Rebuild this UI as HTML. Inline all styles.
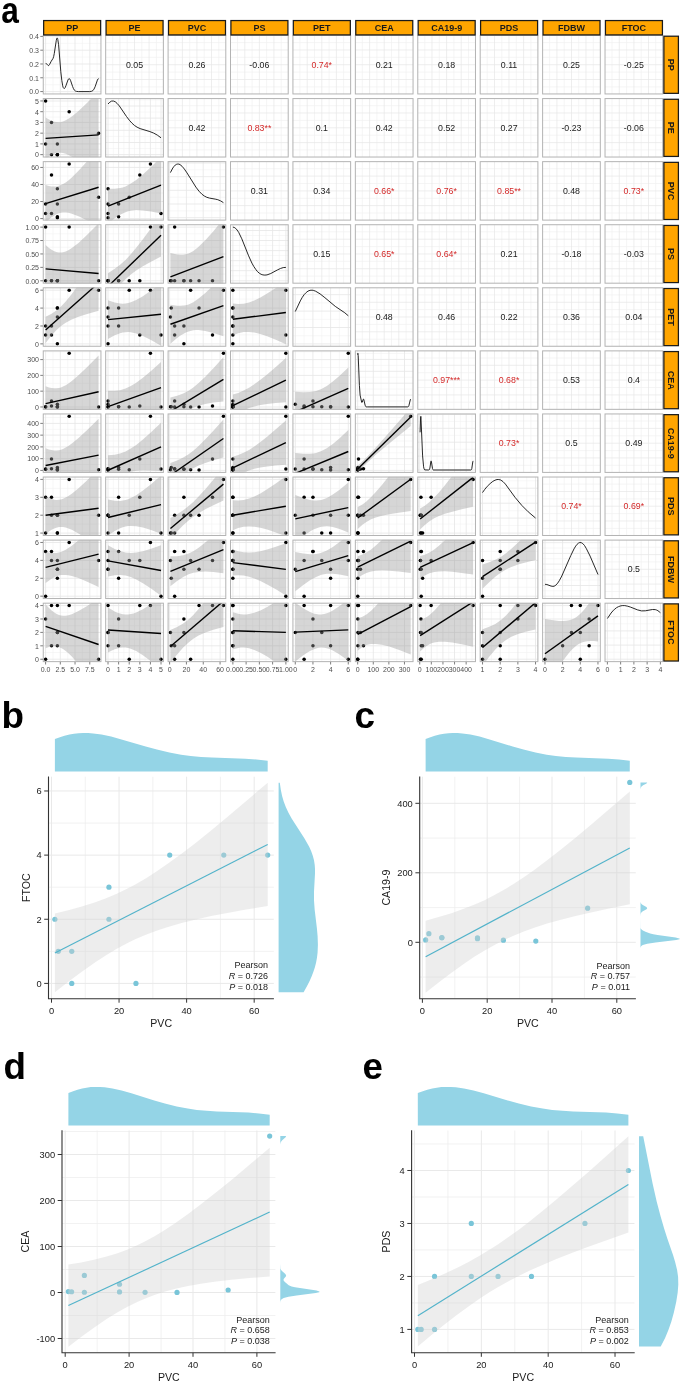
<!DOCTYPE html><html><head><meta charset="utf-8"><style>html,body{margin:0;padding:0;background:#fff;overflow:hidden;}svg{display:block;will-change:transform;}text{font-family:"Liberation Sans", sans-serif;}</style></head><body>
<svg width="685" height="1383" viewBox="0 0 685 1383">
<rect width="685" height="1383" fill="#fff"/>
<defs><clipPath id="c0_0"><rect x="42.95" y="35.20" width="58.30" height="59.05"/></clipPath><clipPath id="c0_1"><rect x="105.37" y="35.20" width="58.30" height="59.05"/></clipPath><clipPath id="c0_2"><rect x="167.79" y="35.20" width="58.30" height="59.05"/></clipPath><clipPath id="c0_3"><rect x="230.21" y="35.20" width="58.30" height="59.05"/></clipPath><clipPath id="c0_4"><rect x="292.63" y="35.20" width="58.30" height="59.05"/></clipPath><clipPath id="c0_5"><rect x="355.05" y="35.20" width="58.30" height="59.05"/></clipPath><clipPath id="c0_6"><rect x="417.47" y="35.20" width="58.30" height="59.05"/></clipPath><clipPath id="c0_7"><rect x="479.89" y="35.20" width="58.30" height="59.05"/></clipPath><clipPath id="c0_8"><rect x="542.31" y="35.20" width="58.30" height="59.05"/></clipPath><clipPath id="c0_9"><rect x="604.73" y="35.20" width="58.30" height="59.05"/></clipPath><clipPath id="c1_0"><rect x="42.95" y="98.28" width="58.30" height="59.05"/></clipPath><clipPath id="c1_1"><rect x="105.37" y="98.28" width="58.30" height="59.05"/></clipPath><clipPath id="c1_2"><rect x="167.79" y="98.28" width="58.30" height="59.05"/></clipPath><clipPath id="c1_3"><rect x="230.21" y="98.28" width="58.30" height="59.05"/></clipPath><clipPath id="c1_4"><rect x="292.63" y="98.28" width="58.30" height="59.05"/></clipPath><clipPath id="c1_5"><rect x="355.05" y="98.28" width="58.30" height="59.05"/></clipPath><clipPath id="c1_6"><rect x="417.47" y="98.28" width="58.30" height="59.05"/></clipPath><clipPath id="c1_7"><rect x="479.89" y="98.28" width="58.30" height="59.05"/></clipPath><clipPath id="c1_8"><rect x="542.31" y="98.28" width="58.30" height="59.05"/></clipPath><clipPath id="c1_9"><rect x="604.73" y="98.28" width="58.30" height="59.05"/></clipPath><clipPath id="c2_0"><rect x="42.95" y="161.35" width="58.30" height="59.05"/></clipPath><clipPath id="c2_1"><rect x="105.37" y="161.35" width="58.30" height="59.05"/></clipPath><clipPath id="c2_2"><rect x="167.79" y="161.35" width="58.30" height="59.05"/></clipPath><clipPath id="c2_3"><rect x="230.21" y="161.35" width="58.30" height="59.05"/></clipPath><clipPath id="c2_4"><rect x="292.63" y="161.35" width="58.30" height="59.05"/></clipPath><clipPath id="c2_5"><rect x="355.05" y="161.35" width="58.30" height="59.05"/></clipPath><clipPath id="c2_6"><rect x="417.47" y="161.35" width="58.30" height="59.05"/></clipPath><clipPath id="c2_7"><rect x="479.89" y="161.35" width="58.30" height="59.05"/></clipPath><clipPath id="c2_8"><rect x="542.31" y="161.35" width="58.30" height="59.05"/></clipPath><clipPath id="c2_9"><rect x="604.73" y="161.35" width="58.30" height="59.05"/></clipPath><clipPath id="c3_0"><rect x="42.95" y="224.43" width="58.30" height="59.05"/></clipPath><clipPath id="c3_1"><rect x="105.37" y="224.43" width="58.30" height="59.05"/></clipPath><clipPath id="c3_2"><rect x="167.79" y="224.43" width="58.30" height="59.05"/></clipPath><clipPath id="c3_3"><rect x="230.21" y="224.43" width="58.30" height="59.05"/></clipPath><clipPath id="c3_4"><rect x="292.63" y="224.43" width="58.30" height="59.05"/></clipPath><clipPath id="c3_5"><rect x="355.05" y="224.43" width="58.30" height="59.05"/></clipPath><clipPath id="c3_6"><rect x="417.47" y="224.43" width="58.30" height="59.05"/></clipPath><clipPath id="c3_7"><rect x="479.89" y="224.43" width="58.30" height="59.05"/></clipPath><clipPath id="c3_8"><rect x="542.31" y="224.43" width="58.30" height="59.05"/></clipPath><clipPath id="c3_9"><rect x="604.73" y="224.43" width="58.30" height="59.05"/></clipPath><clipPath id="c4_0"><rect x="42.95" y="287.50" width="58.30" height="59.05"/></clipPath><clipPath id="c4_1"><rect x="105.37" y="287.50" width="58.30" height="59.05"/></clipPath><clipPath id="c4_2"><rect x="167.79" y="287.50" width="58.30" height="59.05"/></clipPath><clipPath id="c4_3"><rect x="230.21" y="287.50" width="58.30" height="59.05"/></clipPath><clipPath id="c4_4"><rect x="292.63" y="287.50" width="58.30" height="59.05"/></clipPath><clipPath id="c4_5"><rect x="355.05" y="287.50" width="58.30" height="59.05"/></clipPath><clipPath id="c4_6"><rect x="417.47" y="287.50" width="58.30" height="59.05"/></clipPath><clipPath id="c4_7"><rect x="479.89" y="287.50" width="58.30" height="59.05"/></clipPath><clipPath id="c4_8"><rect x="542.31" y="287.50" width="58.30" height="59.05"/></clipPath><clipPath id="c4_9"><rect x="604.73" y="287.50" width="58.30" height="59.05"/></clipPath><clipPath id="c5_0"><rect x="42.95" y="350.57" width="58.30" height="59.05"/></clipPath><clipPath id="c5_1"><rect x="105.37" y="350.57" width="58.30" height="59.05"/></clipPath><clipPath id="c5_2"><rect x="167.79" y="350.57" width="58.30" height="59.05"/></clipPath><clipPath id="c5_3"><rect x="230.21" y="350.57" width="58.30" height="59.05"/></clipPath><clipPath id="c5_4"><rect x="292.63" y="350.57" width="58.30" height="59.05"/></clipPath><clipPath id="c5_5"><rect x="355.05" y="350.57" width="58.30" height="59.05"/></clipPath><clipPath id="c5_6"><rect x="417.47" y="350.57" width="58.30" height="59.05"/></clipPath><clipPath id="c5_7"><rect x="479.89" y="350.57" width="58.30" height="59.05"/></clipPath><clipPath id="c5_8"><rect x="542.31" y="350.57" width="58.30" height="59.05"/></clipPath><clipPath id="c5_9"><rect x="604.73" y="350.57" width="58.30" height="59.05"/></clipPath><clipPath id="c6_0"><rect x="42.95" y="413.65" width="58.30" height="59.05"/></clipPath><clipPath id="c6_1"><rect x="105.37" y="413.65" width="58.30" height="59.05"/></clipPath><clipPath id="c6_2"><rect x="167.79" y="413.65" width="58.30" height="59.05"/></clipPath><clipPath id="c6_3"><rect x="230.21" y="413.65" width="58.30" height="59.05"/></clipPath><clipPath id="c6_4"><rect x="292.63" y="413.65" width="58.30" height="59.05"/></clipPath><clipPath id="c6_5"><rect x="355.05" y="413.65" width="58.30" height="59.05"/></clipPath><clipPath id="c6_6"><rect x="417.47" y="413.65" width="58.30" height="59.05"/></clipPath><clipPath id="c6_7"><rect x="479.89" y="413.65" width="58.30" height="59.05"/></clipPath><clipPath id="c6_8"><rect x="542.31" y="413.65" width="58.30" height="59.05"/></clipPath><clipPath id="c6_9"><rect x="604.73" y="413.65" width="58.30" height="59.05"/></clipPath><clipPath id="c7_0"><rect x="42.95" y="476.73" width="58.30" height="59.05"/></clipPath><clipPath id="c7_1"><rect x="105.37" y="476.73" width="58.30" height="59.05"/></clipPath><clipPath id="c7_2"><rect x="167.79" y="476.73" width="58.30" height="59.05"/></clipPath><clipPath id="c7_3"><rect x="230.21" y="476.73" width="58.30" height="59.05"/></clipPath><clipPath id="c7_4"><rect x="292.63" y="476.73" width="58.30" height="59.05"/></clipPath><clipPath id="c7_5"><rect x="355.05" y="476.73" width="58.30" height="59.05"/></clipPath><clipPath id="c7_6"><rect x="417.47" y="476.73" width="58.30" height="59.05"/></clipPath><clipPath id="c7_7"><rect x="479.89" y="476.73" width="58.30" height="59.05"/></clipPath><clipPath id="c7_8"><rect x="542.31" y="476.73" width="58.30" height="59.05"/></clipPath><clipPath id="c7_9"><rect x="604.73" y="476.73" width="58.30" height="59.05"/></clipPath><clipPath id="c8_0"><rect x="42.95" y="539.80" width="58.30" height="59.05"/></clipPath><clipPath id="c8_1"><rect x="105.37" y="539.80" width="58.30" height="59.05"/></clipPath><clipPath id="c8_2"><rect x="167.79" y="539.80" width="58.30" height="59.05"/></clipPath><clipPath id="c8_3"><rect x="230.21" y="539.80" width="58.30" height="59.05"/></clipPath><clipPath id="c8_4"><rect x="292.63" y="539.80" width="58.30" height="59.05"/></clipPath><clipPath id="c8_5"><rect x="355.05" y="539.80" width="58.30" height="59.05"/></clipPath><clipPath id="c8_6"><rect x="417.47" y="539.80" width="58.30" height="59.05"/></clipPath><clipPath id="c8_7"><rect x="479.89" y="539.80" width="58.30" height="59.05"/></clipPath><clipPath id="c8_8"><rect x="542.31" y="539.80" width="58.30" height="59.05"/></clipPath><clipPath id="c8_9"><rect x="604.73" y="539.80" width="58.30" height="59.05"/></clipPath><clipPath id="c9_0"><rect x="42.95" y="602.88" width="58.30" height="59.05"/></clipPath><clipPath id="c9_1"><rect x="105.37" y="602.88" width="58.30" height="59.05"/></clipPath><clipPath id="c9_2"><rect x="167.79" y="602.88" width="58.30" height="59.05"/></clipPath><clipPath id="c9_3"><rect x="230.21" y="602.88" width="58.30" height="59.05"/></clipPath><clipPath id="c9_4"><rect x="292.63" y="602.88" width="58.30" height="59.05"/></clipPath><clipPath id="c9_5"><rect x="355.05" y="602.88" width="58.30" height="59.05"/></clipPath><clipPath id="c9_6"><rect x="417.47" y="602.88" width="58.30" height="59.05"/></clipPath><clipPath id="c9_7"><rect x="479.89" y="602.88" width="58.30" height="59.05"/></clipPath><clipPath id="c9_8"><rect x="542.31" y="602.88" width="58.30" height="59.05"/></clipPath><clipPath id="c9_9"><rect x="604.73" y="602.88" width="58.30" height="59.05"/></clipPath><clipPath id="cpb"><rect x="48.50" y="776.40" width="225.40" height="222.30"/></clipPath><clipPath id="cpc"><rect x="419.70" y="776.40" width="216.20" height="222.40"/></clipPath><clipPath id="cpd"><rect x="62.00" y="1130.30" width="213.60" height="222.50"/></clipPath><clipPath id="cpe"><rect x="411.60" y="1130.30" width="223.10" height="222.50"/></clipPath></defs>
<g clip-path="url(#c0_0)">
<path d="M53.0 35.2V94.2M67.7 35.2V94.2M82.4 35.2V94.2M97.1 35.2V94.2M43.0 84.7H101.2M43.0 70.9H101.2M43.0 57.1H101.2M43.0 43.3H101.2" stroke="#f1f1f1" stroke-width="0.6" fill="none"/>
<path d="M45.6 35.2V94.2M60.3 35.2V94.2M75.0 35.2V94.2M89.8 35.2V94.2M43.0 91.6H101.2M43.0 77.8H101.2M43.0 64.0H101.2M43.0 50.2H101.2M43.0 36.4H101.2" stroke="#e6e6e6" stroke-width="0.8" fill="none"/>
<path d="M45.6,64.0 L45.9,63.7 L46.3,63.6 L48.1,65.5 L48.5,65.6 L48.9,65.4 L49.6,64.4 L51.2,61.3 L53.1,58.3 L53.7,56.4 L54.3,53.4 L56.3,40.3 L56.8,38.3 L57.2,37.9 L57.5,38.3 L57.8,39.5 L58.6,44.7 L60.8,71.7 L61.8,80.4 L62.7,85.8 L63.2,87.5 L63.8,88.3 L64.4,88.5 L65.1,87.7 L65.9,85.8 L68.0,79.9 L68.6,78.9 L69.2,78.6 L69.9,79.1 L70.5,80.3 L72.6,86.5 L73.5,88.7 L74.4,90.2 L75.4,91.0 L76.5,91.4 L78.4,91.6 L89.3,91.6 L91.5,91.3 L92.9,90.6 L94.0,89.1 L95.1,86.8 L97.4,80.1 L98.0,79.0 L98.6,78.6" fill="none" stroke="#111" stroke-width="0.9"/>
</g>
<rect x="43.25" y="35.50" width="57.70" height="58.45" fill="none" stroke="#b3b3b3" stroke-width="1.0"/>
<g clip-path="url(#c0_1)">
<path d="M112.7 35.2V94.2M105.4 42.6H163.7M127.2 35.2V94.2M105.4 57.3H163.7M141.8 35.2V94.2M105.4 72.1H163.7M156.4 35.2V94.2M105.4 86.9H163.7" stroke="#f1f1f1" stroke-width="0.7" fill="none"/>
<path d="M119.9 35.2V94.2M105.4 50.0H163.7M134.5 35.2V94.2M105.4 64.7H163.7M149.1 35.2V94.2M105.4 79.5H163.7" stroke="#e6e6e6" stroke-width="0.7" fill="none"/>
<text x="134.52" y="67.82" font-size="8.8" fill="#1a1a1a" text-anchor="middle">0.05</text>
</g>
<rect x="105.67" y="35.50" width="57.70" height="58.45" fill="none" stroke="#b3b3b3" stroke-width="1.0"/>
<g clip-path="url(#c0_2)">
<path d="M175.1 35.2V94.2M167.8 42.6H226.1M189.7 35.2V94.2M167.8 57.3H226.1M204.2 35.2V94.2M167.8 72.1H226.1M218.8 35.2V94.2M167.8 86.9H226.1" stroke="#f1f1f1" stroke-width="0.7" fill="none"/>
<path d="M182.4 35.2V94.2M167.8 50.0H226.1M196.9 35.2V94.2M167.8 64.7H226.1M211.5 35.2V94.2M167.8 79.5H226.1" stroke="#e6e6e6" stroke-width="0.7" fill="none"/>
<text x="196.94" y="67.82" font-size="8.8" fill="#1a1a1a" text-anchor="middle">0.26</text>
</g>
<rect x="168.09" y="35.50" width="57.70" height="58.45" fill="none" stroke="#b3b3b3" stroke-width="1.0"/>
<g clip-path="url(#c0_3)">
<path d="M237.5 35.2V94.2M230.2 42.6H288.5M252.1 35.2V94.2M230.2 57.3H288.5M266.6 35.2V94.2M230.2 72.1H288.5M281.2 35.2V94.2M230.2 86.9H288.5" stroke="#f1f1f1" stroke-width="0.7" fill="none"/>
<path d="M244.8 35.2V94.2M230.2 50.0H288.5M259.4 35.2V94.2M230.2 64.7H288.5M273.9 35.2V94.2M230.2 79.5H288.5" stroke="#e6e6e6" stroke-width="0.7" fill="none"/>
<text x="259.36" y="67.82" font-size="8.8" fill="#1a1a1a" text-anchor="middle">-0.06</text>
</g>
<rect x="230.51" y="35.50" width="57.70" height="58.45" fill="none" stroke="#b3b3b3" stroke-width="1.0"/>
<g clip-path="url(#c0_4)">
<path d="M299.9 35.2V94.2M292.6 42.6H350.9M314.5 35.2V94.2M292.6 57.3H350.9M329.1 35.2V94.2M292.6 72.1H350.9M343.6 35.2V94.2M292.6 86.9H350.9" stroke="#f1f1f1" stroke-width="0.7" fill="none"/>
<path d="M307.2 35.2V94.2M292.6 50.0H350.9M321.8 35.2V94.2M292.6 64.7H350.9M336.4 35.2V94.2M292.6 79.5H350.9" stroke="#e6e6e6" stroke-width="0.7" fill="none"/>
<text x="321.78" y="67.82" font-size="8.8" fill="#d42a2a" text-anchor="middle">0.74*</text>
</g>
<rect x="292.93" y="35.50" width="57.70" height="58.45" fill="none" stroke="#b3b3b3" stroke-width="1.0"/>
<g clip-path="url(#c0_5)">
<path d="M362.3 35.2V94.2M355.1 42.6H413.4M376.9 35.2V94.2M355.1 57.3H413.4M391.5 35.2V94.2M355.1 72.1H413.4M406.1 35.2V94.2M355.1 86.9H413.4" stroke="#f1f1f1" stroke-width="0.7" fill="none"/>
<path d="M369.6 35.2V94.2M355.1 50.0H413.4M384.2 35.2V94.2M355.1 64.7H413.4M398.8 35.2V94.2M355.1 79.5H413.4" stroke="#e6e6e6" stroke-width="0.7" fill="none"/>
<text x="384.20" y="67.82" font-size="8.8" fill="#1a1a1a" text-anchor="middle">0.21</text>
</g>
<rect x="355.35" y="35.50" width="57.70" height="58.45" fill="none" stroke="#b3b3b3" stroke-width="1.0"/>
<g clip-path="url(#c0_6)">
<path d="M424.8 35.2V94.2M417.5 42.6H475.8M439.3 35.2V94.2M417.5 57.3H475.8M453.9 35.2V94.2M417.5 72.1H475.8M468.5 35.2V94.2M417.5 86.9H475.8" stroke="#f1f1f1" stroke-width="0.7" fill="none"/>
<path d="M432.0 35.2V94.2M417.5 50.0H475.8M446.6 35.2V94.2M417.5 64.7H475.8M461.2 35.2V94.2M417.5 79.5H475.8" stroke="#e6e6e6" stroke-width="0.7" fill="none"/>
<text x="446.62" y="67.82" font-size="8.8" fill="#1a1a1a" text-anchor="middle">0.18</text>
</g>
<rect x="417.77" y="35.50" width="57.70" height="58.45" fill="none" stroke="#b3b3b3" stroke-width="1.0"/>
<g clip-path="url(#c0_7)">
<path d="M487.2 35.2V94.2M479.9 42.6H538.2M501.8 35.2V94.2M479.9 57.3H538.2M516.3 35.2V94.2M479.9 72.1H538.2M530.9 35.2V94.2M479.9 86.9H538.2" stroke="#f1f1f1" stroke-width="0.7" fill="none"/>
<path d="M494.5 35.2V94.2M479.9 50.0H538.2M509.0 35.2V94.2M479.9 64.7H538.2M523.6 35.2V94.2M479.9 79.5H538.2" stroke="#e6e6e6" stroke-width="0.7" fill="none"/>
<text x="509.04" y="67.82" font-size="8.8" fill="#1a1a1a" text-anchor="middle">0.11</text>
</g>
<rect x="480.19" y="35.50" width="57.70" height="58.45" fill="none" stroke="#b3b3b3" stroke-width="1.0"/>
<g clip-path="url(#c0_8)">
<path d="M549.6 35.2V94.2M542.3 42.6H600.6M564.2 35.2V94.2M542.3 57.3H600.6M578.7 35.2V94.2M542.3 72.1H600.6M593.3 35.2V94.2M542.3 86.9H600.6" stroke="#f1f1f1" stroke-width="0.7" fill="none"/>
<path d="M556.9 35.2V94.2M542.3 50.0H600.6M571.5 35.2V94.2M542.3 64.7H600.6M586.0 35.2V94.2M542.3 79.5H600.6" stroke="#e6e6e6" stroke-width="0.7" fill="none"/>
<text x="571.46" y="67.82" font-size="8.8" fill="#1a1a1a" text-anchor="middle">0.25</text>
</g>
<rect x="542.61" y="35.50" width="57.70" height="58.45" fill="none" stroke="#b3b3b3" stroke-width="1.0"/>
<g clip-path="url(#c0_9)">
<path d="M612.0 35.2V94.2M604.7 42.6H663.0M626.6 35.2V94.2M604.7 57.3H663.0M641.2 35.2V94.2M604.7 72.1H663.0M655.7 35.2V94.2M604.7 86.9H663.0" stroke="#f1f1f1" stroke-width="0.7" fill="none"/>
<path d="M619.3 35.2V94.2M604.7 50.0H663.0M633.9 35.2V94.2M604.7 64.7H663.0M648.5 35.2V94.2M604.7 79.5H663.0" stroke="#e6e6e6" stroke-width="0.7" fill="none"/>
<text x="633.88" y="67.82" font-size="8.8" fill="#1a1a1a" text-anchor="middle">-0.25</text>
</g>
<rect x="605.03" y="35.50" width="57.70" height="58.45" fill="none" stroke="#b3b3b3" stroke-width="1.0"/>
<g clip-path="url(#c1_0)">
<path d="M53.0 98.3V157.3M67.7 98.3V157.3M82.4 98.3V157.3M97.1 98.3V157.3M43.0 149.3H101.2M43.0 138.5H101.2M43.0 127.8H101.2M43.0 117.1H101.2M43.0 106.3H101.2" stroke="#f1f1f1" stroke-width="0.6" fill="none"/>
<path d="M45.6 98.3V157.3M60.3 98.3V157.3M75.0 98.3V157.3M89.8 98.3V157.3M43.0 154.6H101.2M43.0 143.9H101.2M43.0 133.2H101.2M43.0 122.4H101.2M43.0 111.7H101.2M43.0 101.0H101.2" stroke="#e6e6e6" stroke-width="0.8" fill="none"/>
<circle cx="57.38" cy="154.64" r="1.75" fill="#000"/>
<circle cx="57.38" cy="143.90" r="1.75" fill="#000"/>
<circle cx="45.60" cy="100.96" r="1.75" fill="#000"/>
<circle cx="51.49" cy="154.64" r="1.75" fill="#000"/>
<circle cx="45.60" cy="143.90" r="1.75" fill="#000"/>
<circle cx="57.38" cy="154.64" r="1.75" fill="#000"/>
<circle cx="98.60" cy="133.17" r="1.75" fill="#000"/>
<circle cx="57.38" cy="154.64" r="1.75" fill="#000"/>
<circle cx="51.49" cy="122.43" r="1.75" fill="#000"/>
<circle cx="69.16" cy="111.70" r="1.75" fill="#000"/>
<polygon points="45.6,117.6 49.0,119.6 51.6,120.8 54.3,121.7 56.3,122.1 59.0,122.2 61.0,122.0 63.0,121.4 65.7,120.3 68.4,118.8 71.8,116.5 78.5,111.0 87.2,102.8 98.6,91.2 98.6,178.6 87.2,168.5 78.5,161.4 71.8,156.8 68.4,154.9 65.7,153.7 63.0,153.0 61.0,152.7 59.0,152.7 56.3,153.2 54.3,153.8 51.6,155.1 49.0,156.7 45.6,159.1" fill="#999999" fill-opacity="0.4"/>
<line x1="45.60" y1="138.34" x2="98.60" y2="134.91" stroke="#000" stroke-width="1.4"/>
</g>
<rect x="43.25" y="98.58" width="57.70" height="58.45" fill="none" stroke="#b3b3b3" stroke-width="1.0"/>
<g clip-path="url(#c1_1)">
<path d="M113.3 98.3V157.3M123.9 98.3V157.3M134.5 98.3V157.3M145.1 98.3V157.3M155.7 98.3V157.3M105.4 148.6H163.7M105.4 136.4H163.7M105.4 124.2H163.7M105.4 112.1H163.7M105.4 99.9H163.7" stroke="#f1f1f1" stroke-width="0.6" fill="none"/>
<path d="M108.0 98.3V157.3M118.6 98.3V157.3M129.2 98.3V157.3M139.8 98.3V157.3M150.4 98.3V157.3M161.0 98.3V157.3M105.4 154.6H163.7M105.4 142.5H163.7M105.4 130.3H163.7M105.4 118.1H163.7M105.4 106.0H163.7" stroke="#e6e6e6" stroke-width="0.8" fill="none"/>
<path d="M108.0,104.0 L109.8,102.2 L111.5,101.1 L113.4,101.0 L115.3,101.8 L117.1,103.4 L119.3,105.9 L126.5,116.5 L129.3,120.2 L131.9,123.1 L134.4,125.4 L137.1,127.2 L140.1,128.6 L149.9,131.6 L153.7,133.1 L157.3,135.1 L161.0,137.8" fill="none" stroke="#111" stroke-width="0.9"/>
</g>
<rect x="105.67" y="98.58" width="57.70" height="58.45" fill="none" stroke="#b3b3b3" stroke-width="1.0"/>
<g clip-path="url(#c1_2)">
<path d="M175.1 98.3V157.3M167.8 105.7H226.1M189.7 98.3V157.3M167.8 120.4H226.1M204.2 98.3V157.3M167.8 135.2H226.1M218.8 98.3V157.3M167.8 149.9H226.1" stroke="#f1f1f1" stroke-width="0.7" fill="none"/>
<path d="M182.4 98.3V157.3M167.8 113.0H226.1M196.9 98.3V157.3M167.8 127.8H226.1M211.5 98.3V157.3M167.8 142.6H226.1" stroke="#e6e6e6" stroke-width="0.7" fill="none"/>
<text x="196.94" y="130.90" font-size="8.8" fill="#1a1a1a" text-anchor="middle">0.42</text>
</g>
<rect x="168.09" y="98.58" width="57.70" height="58.45" fill="none" stroke="#b3b3b3" stroke-width="1.0"/>
<g clip-path="url(#c1_3)">
<path d="M237.5 98.3V157.3M230.2 105.7H288.5M252.1 98.3V157.3M230.2 120.4H288.5M266.6 98.3V157.3M230.2 135.2H288.5M281.2 98.3V157.3M230.2 149.9H288.5" stroke="#f1f1f1" stroke-width="0.7" fill="none"/>
<path d="M244.8 98.3V157.3M230.2 113.0H288.5M259.4 98.3V157.3M230.2 127.8H288.5M273.9 98.3V157.3M230.2 142.6H288.5" stroke="#e6e6e6" stroke-width="0.7" fill="none"/>
<text x="259.36" y="130.90" font-size="8.8" fill="#d42a2a" text-anchor="middle">0.83**</text>
</g>
<rect x="230.51" y="98.58" width="57.70" height="58.45" fill="none" stroke="#b3b3b3" stroke-width="1.0"/>
<g clip-path="url(#c1_4)">
<path d="M299.9 98.3V157.3M292.6 105.7H350.9M314.5 98.3V157.3M292.6 120.4H350.9M329.1 98.3V157.3M292.6 135.2H350.9M343.6 98.3V157.3M292.6 149.9H350.9" stroke="#f1f1f1" stroke-width="0.7" fill="none"/>
<path d="M307.2 98.3V157.3M292.6 113.0H350.9M321.8 98.3V157.3M292.6 127.8H350.9M336.4 98.3V157.3M292.6 142.6H350.9" stroke="#e6e6e6" stroke-width="0.7" fill="none"/>
<text x="321.78" y="130.90" font-size="8.8" fill="#1a1a1a" text-anchor="middle">0.1</text>
</g>
<rect x="292.93" y="98.58" width="57.70" height="58.45" fill="none" stroke="#b3b3b3" stroke-width="1.0"/>
<g clip-path="url(#c1_5)">
<path d="M362.3 98.3V157.3M355.1 105.7H413.4M376.9 98.3V157.3M355.1 120.4H413.4M391.5 98.3V157.3M355.1 135.2H413.4M406.1 98.3V157.3M355.1 149.9H413.4" stroke="#f1f1f1" stroke-width="0.7" fill="none"/>
<path d="M369.6 98.3V157.3M355.1 113.0H413.4M384.2 98.3V157.3M355.1 127.8H413.4M398.8 98.3V157.3M355.1 142.6H413.4" stroke="#e6e6e6" stroke-width="0.7" fill="none"/>
<text x="384.20" y="130.90" font-size="8.8" fill="#1a1a1a" text-anchor="middle">0.42</text>
</g>
<rect x="355.35" y="98.58" width="57.70" height="58.45" fill="none" stroke="#b3b3b3" stroke-width="1.0"/>
<g clip-path="url(#c1_6)">
<path d="M424.8 98.3V157.3M417.5 105.7H475.8M439.3 98.3V157.3M417.5 120.4H475.8M453.9 98.3V157.3M417.5 135.2H475.8M468.5 98.3V157.3M417.5 149.9H475.8" stroke="#f1f1f1" stroke-width="0.7" fill="none"/>
<path d="M432.0 98.3V157.3M417.5 113.0H475.8M446.6 98.3V157.3M417.5 127.8H475.8M461.2 98.3V157.3M417.5 142.6H475.8" stroke="#e6e6e6" stroke-width="0.7" fill="none"/>
<text x="446.62" y="130.90" font-size="8.8" fill="#1a1a1a" text-anchor="middle">0.52</text>
</g>
<rect x="417.77" y="98.58" width="57.70" height="58.45" fill="none" stroke="#b3b3b3" stroke-width="1.0"/>
<g clip-path="url(#c1_7)">
<path d="M487.2 98.3V157.3M479.9 105.7H538.2M501.8 98.3V157.3M479.9 120.4H538.2M516.3 98.3V157.3M479.9 135.2H538.2M530.9 98.3V157.3M479.9 149.9H538.2" stroke="#f1f1f1" stroke-width="0.7" fill="none"/>
<path d="M494.5 98.3V157.3M479.9 113.0H538.2M509.0 98.3V157.3M479.9 127.8H538.2M523.6 98.3V157.3M479.9 142.6H538.2" stroke="#e6e6e6" stroke-width="0.7" fill="none"/>
<text x="509.04" y="130.90" font-size="8.8" fill="#1a1a1a" text-anchor="middle">0.27</text>
</g>
<rect x="480.19" y="98.58" width="57.70" height="58.45" fill="none" stroke="#b3b3b3" stroke-width="1.0"/>
<g clip-path="url(#c1_8)">
<path d="M549.6 98.3V157.3M542.3 105.7H600.6M564.2 98.3V157.3M542.3 120.4H600.6M578.7 98.3V157.3M542.3 135.2H600.6M593.3 98.3V157.3M542.3 149.9H600.6" stroke="#f1f1f1" stroke-width="0.7" fill="none"/>
<path d="M556.9 98.3V157.3M542.3 113.0H600.6M571.5 98.3V157.3M542.3 127.8H600.6M586.0 98.3V157.3M542.3 142.6H600.6" stroke="#e6e6e6" stroke-width="0.7" fill="none"/>
<text x="571.46" y="130.90" font-size="8.8" fill="#1a1a1a" text-anchor="middle">-0.23</text>
</g>
<rect x="542.61" y="98.58" width="57.70" height="58.45" fill="none" stroke="#b3b3b3" stroke-width="1.0"/>
<g clip-path="url(#c1_9)">
<path d="M612.0 98.3V157.3M604.7 105.7H663.0M626.6 98.3V157.3M604.7 120.4H663.0M641.2 98.3V157.3M604.7 135.2H663.0M655.7 98.3V157.3M604.7 149.9H663.0" stroke="#f1f1f1" stroke-width="0.7" fill="none"/>
<path d="M619.3 98.3V157.3M604.7 113.0H663.0M633.9 98.3V157.3M604.7 127.8H663.0M648.5 98.3V157.3M604.7 142.6H663.0" stroke="#e6e6e6" stroke-width="0.7" fill="none"/>
<text x="633.88" y="130.90" font-size="8.8" fill="#1a1a1a" text-anchor="middle">-0.06</text>
</g>
<rect x="605.03" y="98.58" width="57.70" height="58.45" fill="none" stroke="#b3b3b3" stroke-width="1.0"/>
<g clip-path="url(#c2_0)">
<path d="M53.0 161.4V220.4M67.7 161.4V220.4M82.4 161.4V220.4M97.1 161.4V220.4M43.0 210.0H101.2M43.0 193.0H101.2M43.0 176.0H101.2" stroke="#f1f1f1" stroke-width="0.6" fill="none"/>
<path d="M45.6 161.4V220.4M60.3 161.4V220.4M75.0 161.4V220.4M89.8 161.4V220.4M43.0 218.6H101.2M43.0 201.5H101.2M43.0 184.5H101.2M43.0 167.4H101.2" stroke="#e6e6e6" stroke-width="0.8" fill="none"/>
<circle cx="57.38" cy="217.72" r="1.75" fill="#000"/>
<circle cx="57.38" cy="216.86" r="1.75" fill="#000"/>
<circle cx="45.60" cy="213.46" r="1.75" fill="#000"/>
<circle cx="51.49" cy="213.46" r="1.75" fill="#000"/>
<circle cx="45.60" cy="204.08" r="1.75" fill="#000"/>
<circle cx="57.38" cy="204.08" r="1.75" fill="#000"/>
<circle cx="98.60" cy="197.27" r="1.75" fill="#000"/>
<circle cx="57.38" cy="188.74" r="1.75" fill="#000"/>
<circle cx="51.49" cy="175.11" r="1.75" fill="#000"/>
<circle cx="69.16" cy="164.03" r="1.75" fill="#000"/>
<polygon points="45.6,185.0 49.0,185.9 51.6,186.4 54.3,186.5 56.3,186.4 59.0,185.8 61.0,185.1 63.0,184.1 65.7,182.4 68.4,180.4 71.8,177.5 78.5,170.8 87.2,161.2 98.6,147.9 98.6,226.6 87.2,220.4 78.5,216.2 71.8,213.7 68.4,212.8 65.7,212.5 63.0,212.5 61.0,212.7 59.0,213.2 56.3,214.3 54.3,215.4 51.6,217.2 45.6,222.3" fill="#999999" fill-opacity="0.4"/>
<line x1="45.60" y1="203.67" x2="98.60" y2="187.27" stroke="#000" stroke-width="1.4"/>
</g>
<rect x="43.25" y="161.65" width="57.70" height="58.45" fill="none" stroke="#b3b3b3" stroke-width="1.0"/>
<g clip-path="url(#c2_1)">
<path d="M113.3 161.4V220.4M123.9 161.4V220.4M134.5 161.4V220.4M145.1 161.4V220.4M155.7 161.4V220.4M105.4 210.0H163.7M105.4 193.0H163.7M105.4 176.0H163.7" stroke="#f1f1f1" stroke-width="0.6" fill="none"/>
<path d="M108.0 161.4V220.4M118.6 161.4V220.4M129.2 161.4V220.4M139.8 161.4V220.4M150.4 161.4V220.4M161.0 161.4V220.4M105.4 218.6H163.7M105.4 201.5H163.7M105.4 184.5H163.7M105.4 167.4H163.7" stroke="#e6e6e6" stroke-width="0.8" fill="none"/>
<circle cx="108.02" cy="217.72" r="1.75" fill="#000"/>
<circle cx="118.62" cy="216.86" r="1.75" fill="#000"/>
<circle cx="161.02" cy="213.46" r="1.75" fill="#000"/>
<circle cx="108.02" cy="213.46" r="1.75" fill="#000"/>
<circle cx="118.62" cy="204.08" r="1.75" fill="#000"/>
<circle cx="108.02" cy="204.08" r="1.75" fill="#000"/>
<circle cx="129.22" cy="197.27" r="1.75" fill="#000"/>
<circle cx="108.02" cy="188.74" r="1.75" fill="#000"/>
<circle cx="139.82" cy="175.11" r="1.75" fill="#000"/>
<circle cx="150.42" cy="164.03" r="1.75" fill="#000"/>
<polygon points="108.0,188.7 114.7,188.8 120.1,188.1 122.8,187.4 125.5,186.4 130.8,183.6 136.2,180.0 142.9,174.4 151.0,167.0 161.0,157.0 161.0,213.5 151.0,211.5 142.9,210.4 136.2,210.1 130.8,210.7 128.1,211.3 125.5,212.2 120.1,214.8 114.7,218.3 108.0,223.7" fill="#999999" fill-opacity="0.4"/>
<line x1="108.02" y1="206.19" x2="161.02" y2="185.22" stroke="#000" stroke-width="1.4"/>
</g>
<rect x="105.67" y="161.65" width="57.70" height="58.45" fill="none" stroke="#b3b3b3" stroke-width="1.0"/>
<g clip-path="url(#c2_2)">
<path d="M178.0 161.4V220.4M194.8 161.4V220.4M211.7 161.4V220.4M167.8 210.9H226.1M167.8 197.2H226.1M167.8 183.5H226.1M167.8 169.8H226.1" stroke="#f1f1f1" stroke-width="0.6" fill="none"/>
<path d="M169.6 161.4V220.4M186.4 161.4V220.4M203.2 161.4V220.4M220.1 161.4V220.4M167.8 217.7H226.1M167.8 204.0H226.1M167.8 190.3H226.1M167.8 176.7H226.1M167.8 163.0H226.1" stroke="#e6e6e6" stroke-width="0.8" fill="none"/>
<path d="M170.4,172.6 L172.8,168.0 L174.1,166.3 L175.2,165.1 L176.4,164.4 L177.5,164.1 L178.7,164.1 L180.0,164.6 L182.1,166.3 L184.4,169.1 L187.0,172.9 L195.9,187.1 L199.0,191.2 L201.9,194.2 L204.3,196.0 L206.8,197.3 L209.5,198.1 L215.2,199.1 L217.8,199.7 L220.6,200.9 L223.4,202.6" fill="none" stroke="#111" stroke-width="0.9"/>
</g>
<rect x="168.09" y="161.65" width="57.70" height="58.45" fill="none" stroke="#b3b3b3" stroke-width="1.0"/>
<g clip-path="url(#c2_3)">
<path d="M237.5 161.4V220.4M230.2 168.7H288.5M252.1 161.4V220.4M230.2 183.5H288.5M266.6 161.4V220.4M230.2 198.3H288.5M281.2 161.4V220.4M230.2 213.0H288.5" stroke="#f1f1f1" stroke-width="0.7" fill="none"/>
<path d="M244.8 161.4V220.4M230.2 176.1H288.5M259.4 161.4V220.4M230.2 190.9H288.5M273.9 161.4V220.4M230.2 205.6H288.5" stroke="#e6e6e6" stroke-width="0.7" fill="none"/>
<text x="259.36" y="193.98" font-size="8.8" fill="#1a1a1a" text-anchor="middle">0.31</text>
</g>
<rect x="230.51" y="161.65" width="57.70" height="58.45" fill="none" stroke="#b3b3b3" stroke-width="1.0"/>
<g clip-path="url(#c2_4)">
<path d="M299.9 161.4V220.4M292.6 168.7H350.9M314.5 161.4V220.4M292.6 183.5H350.9M329.1 161.4V220.4M292.6 198.3H350.9M343.6 161.4V220.4M292.6 213.0H350.9" stroke="#f1f1f1" stroke-width="0.7" fill="none"/>
<path d="M307.2 161.4V220.4M292.6 176.1H350.9M321.8 161.4V220.4M292.6 190.9H350.9M336.4 161.4V220.4M292.6 205.6H350.9" stroke="#e6e6e6" stroke-width="0.7" fill="none"/>
<text x="321.78" y="193.98" font-size="8.8" fill="#1a1a1a" text-anchor="middle">0.34</text>
</g>
<rect x="292.93" y="161.65" width="57.70" height="58.45" fill="none" stroke="#b3b3b3" stroke-width="1.0"/>
<g clip-path="url(#c2_5)">
<path d="M362.3 161.4V220.4M355.1 168.7H413.4M376.9 161.4V220.4M355.1 183.5H413.4M391.5 161.4V220.4M355.1 198.3H413.4M406.1 161.4V220.4M355.1 213.0H413.4" stroke="#f1f1f1" stroke-width="0.7" fill="none"/>
<path d="M369.6 161.4V220.4M355.1 176.1H413.4M384.2 161.4V220.4M355.1 190.9H413.4M398.8 161.4V220.4M355.1 205.6H413.4" stroke="#e6e6e6" stroke-width="0.7" fill="none"/>
<text x="384.20" y="193.98" font-size="8.8" fill="#d42a2a" text-anchor="middle">0.66*</text>
</g>
<rect x="355.35" y="161.65" width="57.70" height="58.45" fill="none" stroke="#b3b3b3" stroke-width="1.0"/>
<g clip-path="url(#c2_6)">
<path d="M424.8 161.4V220.4M417.5 168.7H475.8M439.3 161.4V220.4M417.5 183.5H475.8M453.9 161.4V220.4M417.5 198.3H475.8M468.5 161.4V220.4M417.5 213.0H475.8" stroke="#f1f1f1" stroke-width="0.7" fill="none"/>
<path d="M432.0 161.4V220.4M417.5 176.1H475.8M446.6 161.4V220.4M417.5 190.9H475.8M461.2 161.4V220.4M417.5 205.6H475.8" stroke="#e6e6e6" stroke-width="0.7" fill="none"/>
<text x="446.62" y="193.98" font-size="8.8" fill="#d42a2a" text-anchor="middle">0.76*</text>
</g>
<rect x="417.77" y="161.65" width="57.70" height="58.45" fill="none" stroke="#b3b3b3" stroke-width="1.0"/>
<g clip-path="url(#c2_7)">
<path d="M487.2 161.4V220.4M479.9 168.7H538.2M501.8 161.4V220.4M479.9 183.5H538.2M516.3 161.4V220.4M479.9 198.3H538.2M530.9 161.4V220.4M479.9 213.0H538.2" stroke="#f1f1f1" stroke-width="0.7" fill="none"/>
<path d="M494.5 161.4V220.4M479.9 176.1H538.2M509.0 161.4V220.4M479.9 190.9H538.2M523.6 161.4V220.4M479.9 205.6H538.2" stroke="#e6e6e6" stroke-width="0.7" fill="none"/>
<text x="509.04" y="193.98" font-size="8.8" fill="#d42a2a" text-anchor="middle">0.85**</text>
</g>
<rect x="480.19" y="161.65" width="57.70" height="58.45" fill="none" stroke="#b3b3b3" stroke-width="1.0"/>
<g clip-path="url(#c2_8)">
<path d="M549.6 161.4V220.4M542.3 168.7H600.6M564.2 161.4V220.4M542.3 183.5H600.6M578.7 161.4V220.4M542.3 198.3H600.6M593.3 161.4V220.4M542.3 213.0H600.6" stroke="#f1f1f1" stroke-width="0.7" fill="none"/>
<path d="M556.9 161.4V220.4M542.3 176.1H600.6M571.5 161.4V220.4M542.3 190.9H600.6M586.0 161.4V220.4M542.3 205.6H600.6" stroke="#e6e6e6" stroke-width="0.7" fill="none"/>
<text x="571.46" y="193.98" font-size="8.8" fill="#1a1a1a" text-anchor="middle">0.48</text>
</g>
<rect x="542.61" y="161.65" width="57.70" height="58.45" fill="none" stroke="#b3b3b3" stroke-width="1.0"/>
<g clip-path="url(#c2_9)">
<path d="M612.0 161.4V220.4M604.7 168.7H663.0M626.6 161.4V220.4M604.7 183.5H663.0M641.2 161.4V220.4M604.7 198.3H663.0M655.7 161.4V220.4M604.7 213.0H663.0" stroke="#f1f1f1" stroke-width="0.7" fill="none"/>
<path d="M619.3 161.4V220.4M604.7 176.1H663.0M633.9 161.4V220.4M604.7 190.9H663.0M648.5 161.4V220.4M604.7 205.6H663.0" stroke="#e6e6e6" stroke-width="0.7" fill="none"/>
<text x="633.88" y="193.98" font-size="8.8" fill="#d42a2a" text-anchor="middle">0.73*</text>
</g>
<rect x="605.03" y="161.65" width="57.70" height="58.45" fill="none" stroke="#b3b3b3" stroke-width="1.0"/>
<g clip-path="url(#c3_0)">
<path d="M53.0 224.4V283.5M67.7 224.4V283.5M82.4 224.4V283.5M97.1 224.4V283.5M43.0 274.1H101.2M43.0 260.7H101.2M43.0 247.2H101.2M43.0 233.8H101.2" stroke="#f1f1f1" stroke-width="0.6" fill="none"/>
<path d="M45.6 224.4V283.5M60.3 224.4V283.5M75.0 224.4V283.5M89.8 224.4V283.5M43.0 280.8H101.2M43.0 267.4H101.2M43.0 254.0H101.2M43.0 240.5H101.2M43.0 227.1H101.2" stroke="#e6e6e6" stroke-width="0.8" fill="none"/>
<circle cx="57.38" cy="280.79" r="1.75" fill="#000"/>
<circle cx="57.38" cy="280.79" r="1.75" fill="#000"/>
<circle cx="45.60" cy="227.11" r="1.75" fill="#000"/>
<circle cx="51.49" cy="280.79" r="1.75" fill="#000"/>
<circle cx="45.60" cy="280.79" r="1.75" fill="#000"/>
<circle cx="57.38" cy="280.79" r="1.75" fill="#000"/>
<circle cx="98.60" cy="280.79" r="1.75" fill="#000"/>
<circle cx="57.38" cy="280.79" r="1.75" fill="#000"/>
<circle cx="51.49" cy="280.79" r="1.75" fill="#000"/>
<circle cx="69.16" cy="227.11" r="1.75" fill="#000"/>
<polygon points="45.6,245.1 49.0,247.9 51.6,249.8 54.3,251.2 56.3,252.0 59.0,252.6 61.0,252.6 63.0,252.3 65.7,251.5 68.4,250.2 71.8,248.1 78.5,242.9 87.2,234.8 98.6,223.4 98.6,323.7 87.2,310.2 78.5,300.7 71.8,294.2 68.4,291.5 65.7,289.8 63.0,288.5 61.0,287.8 59.0,287.5 56.3,287.6 54.3,288.0 51.6,289.0 49.0,290.4 45.6,292.6" fill="#999999" fill-opacity="0.4"/>
<line x1="45.60" y1="268.86" x2="98.60" y2="273.53" stroke="#000" stroke-width="1.4"/>
</g>
<rect x="43.25" y="224.73" width="57.70" height="58.45" fill="none" stroke="#b3b3b3" stroke-width="1.0"/>
<g clip-path="url(#c3_1)">
<path d="M113.3 224.4V283.5M123.9 224.4V283.5M134.5 224.4V283.5M145.1 224.4V283.5M155.7 224.4V283.5M105.4 274.1H163.7M105.4 260.7H163.7M105.4 247.2H163.7M105.4 233.8H163.7" stroke="#f1f1f1" stroke-width="0.6" fill="none"/>
<path d="M108.0 224.4V283.5M118.6 224.4V283.5M129.2 224.4V283.5M139.8 224.4V283.5M150.4 224.4V283.5M161.0 224.4V283.5M105.4 280.8H163.7M105.4 267.4H163.7M105.4 254.0H163.7M105.4 240.5H163.7M105.4 227.1H163.7" stroke="#e6e6e6" stroke-width="0.8" fill="none"/>
<circle cx="108.02" cy="280.79" r="1.75" fill="#000"/>
<circle cx="118.62" cy="280.79" r="1.75" fill="#000"/>
<circle cx="161.02" cy="227.11" r="1.75" fill="#000"/>
<circle cx="108.02" cy="280.79" r="1.75" fill="#000"/>
<circle cx="118.62" cy="280.79" r="1.75" fill="#000"/>
<circle cx="108.02" cy="280.79" r="1.75" fill="#000"/>
<circle cx="129.22" cy="280.79" r="1.75" fill="#000"/>
<circle cx="108.02" cy="280.79" r="1.75" fill="#000"/>
<circle cx="139.82" cy="280.79" r="1.75" fill="#000"/>
<circle cx="150.42" cy="227.11" r="1.75" fill="#000"/>
<polygon points="108.0,273.2 114.7,268.8 120.1,264.7 125.5,259.9 130.8,254.2 136.2,247.8 142.9,239.2 151.0,228.2 161.0,213.9 161.0,256.5 151.0,261.7 142.9,266.3 136.2,270.6 130.8,274.6 125.5,279.3 120.1,284.8 114.7,291.1 108.0,299.6" fill="#999999" fill-opacity="0.4"/>
<line x1="108.02" y1="286.44" x2="161.02" y2="235.23" stroke="#000" stroke-width="1.4"/>
</g>
<rect x="105.67" y="224.73" width="57.70" height="58.45" fill="none" stroke="#b3b3b3" stroke-width="1.0"/>
<g clip-path="url(#c3_2)">
<path d="M178.0 224.4V283.5M194.8 224.4V283.5M211.7 224.4V283.5M167.8 274.1H226.1M167.8 260.7H226.1M167.8 247.2H226.1M167.8 233.8H226.1" stroke="#f1f1f1" stroke-width="0.6" fill="none"/>
<path d="M169.6 224.4V283.5M186.4 224.4V283.5M203.2 224.4V283.5M220.1 224.4V283.5M167.8 280.8H226.1M167.8 267.4H226.1M167.8 254.0H226.1M167.8 240.5H226.1M167.8 227.1H226.1" stroke="#e6e6e6" stroke-width="0.8" fill="none"/>
<circle cx="170.44" cy="280.79" r="1.75" fill="#000"/>
<circle cx="171.28" cy="280.79" r="1.75" fill="#000"/>
<circle cx="174.65" cy="227.11" r="1.75" fill="#000"/>
<circle cx="174.65" cy="280.79" r="1.75" fill="#000"/>
<circle cx="183.90" cy="280.79" r="1.75" fill="#000"/>
<circle cx="183.90" cy="280.79" r="1.75" fill="#000"/>
<circle cx="190.63" cy="280.79" r="1.75" fill="#000"/>
<circle cx="199.04" cy="280.79" r="1.75" fill="#000"/>
<circle cx="212.50" cy="280.79" r="1.75" fill="#000"/>
<circle cx="223.44" cy="227.11" r="1.75" fill="#000"/>
<polygon points="170.4,252.9 173.8,253.8 177.1,254.5 180.5,254.8 183.2,254.7 185.9,254.2 188.6,253.4 190.6,252.5 193.3,250.9 195.9,249.0 198.6,246.8 205.3,240.2 213.4,231.2 223.4,218.9 223.4,294.4 213.4,289.8 205.3,286.9 202.0,286.0 198.6,285.5 195.9,285.3 193.3,285.5 190.6,286.0 188.6,286.7 185.9,287.9 183.2,289.5 180.5,291.4 177.1,294.3 170.4,301.1" fill="#999999" fill-opacity="0.4"/>
<line x1="170.44" y1="276.97" x2="223.44" y2="256.61" stroke="#000" stroke-width="1.4"/>
</g>
<rect x="168.09" y="224.73" width="57.70" height="58.45" fill="none" stroke="#b3b3b3" stroke-width="1.0"/>
<g clip-path="url(#c3_3)">
<path d="M239.5 224.4V283.5M252.7 224.4V283.5M266.0 224.4V283.5M279.2 224.4V283.5M230.2 275.8H288.5M230.2 265.7H288.5M230.2 255.6H288.5M230.2 245.6H288.5M230.2 235.5H288.5M230.2 225.4H288.5" stroke="#f1f1f1" stroke-width="0.6" fill="none"/>
<path d="M232.9 224.4V283.5M246.1 224.4V283.5M259.4 224.4V283.5M272.6 224.4V283.5M285.9 224.4V283.5M230.2 280.8H288.5M230.2 270.7H288.5M230.2 260.7H288.5M230.2 250.6H288.5M230.2 240.5H288.5M230.2 230.5H288.5" stroke="#e6e6e6" stroke-width="0.8" fill="none"/>
<path d="M232.9,227.1 L234.2,227.4 L235.7,228.4 L237.1,230.0 L238.7,232.4 L241.8,238.8 L248.6,255.8 L251.9,263.1 L253.8,266.5 L255.7,269.3 L257.4,271.5 L259.3,273.2 L261.1,274.3 L262.9,274.9 L264.9,275.1 L267.0,274.9 L270.8,273.5 L277.7,269.8 L280.4,268.5 L283.2,267.6 L285.9,267.4" fill="none" stroke="#111" stroke-width="0.9"/>
</g>
<rect x="230.51" y="224.73" width="57.70" height="58.45" fill="none" stroke="#b3b3b3" stroke-width="1.0"/>
<g clip-path="url(#c3_4)">
<path d="M299.9 224.4V283.5M292.6 231.8H350.9M314.5 224.4V283.5M292.6 246.6H350.9M329.1 224.4V283.5M292.6 261.3H350.9M343.6 224.4V283.5M292.6 276.1H350.9" stroke="#f1f1f1" stroke-width="0.7" fill="none"/>
<path d="M307.2 224.4V283.5M292.6 239.2H350.9M321.8 224.4V283.5M292.6 254.0H350.9M336.4 224.4V283.5M292.6 268.7H350.9" stroke="#e6e6e6" stroke-width="0.7" fill="none"/>
<text x="321.78" y="257.05" font-size="8.8" fill="#1a1a1a" text-anchor="middle">0.15</text>
</g>
<rect x="292.93" y="224.73" width="57.70" height="58.45" fill="none" stroke="#b3b3b3" stroke-width="1.0"/>
<g clip-path="url(#c3_5)">
<path d="M362.3 224.4V283.5M355.1 231.8H413.4M376.9 224.4V283.5M355.1 246.6H413.4M391.5 224.4V283.5M355.1 261.3H413.4M406.1 224.4V283.5M355.1 276.1H413.4" stroke="#f1f1f1" stroke-width="0.7" fill="none"/>
<path d="M369.6 224.4V283.5M355.1 239.2H413.4M384.2 224.4V283.5M355.1 254.0H413.4M398.8 224.4V283.5M355.1 268.7H413.4" stroke="#e6e6e6" stroke-width="0.7" fill="none"/>
<text x="384.20" y="257.05" font-size="8.8" fill="#d42a2a" text-anchor="middle">0.65*</text>
</g>
<rect x="355.35" y="224.73" width="57.70" height="58.45" fill="none" stroke="#b3b3b3" stroke-width="1.0"/>
<g clip-path="url(#c3_6)">
<path d="M424.8 224.4V283.5M417.5 231.8H475.8M439.3 224.4V283.5M417.5 246.6H475.8M453.9 224.4V283.5M417.5 261.3H475.8M468.5 224.4V283.5M417.5 276.1H475.8" stroke="#f1f1f1" stroke-width="0.7" fill="none"/>
<path d="M432.0 224.4V283.5M417.5 239.2H475.8M446.6 224.4V283.5M417.5 254.0H475.8M461.2 224.4V283.5M417.5 268.7H475.8" stroke="#e6e6e6" stroke-width="0.7" fill="none"/>
<text x="446.62" y="257.05" font-size="8.8" fill="#d42a2a" text-anchor="middle">0.64*</text>
</g>
<rect x="417.77" y="224.73" width="57.70" height="58.45" fill="none" stroke="#b3b3b3" stroke-width="1.0"/>
<g clip-path="url(#c3_7)">
<path d="M487.2 224.4V283.5M479.9 231.8H538.2M501.8 224.4V283.5M479.9 246.6H538.2M516.3 224.4V283.5M479.9 261.3H538.2M530.9 224.4V283.5M479.9 276.1H538.2" stroke="#f1f1f1" stroke-width="0.7" fill="none"/>
<path d="M494.5 224.4V283.5M479.9 239.2H538.2M509.0 224.4V283.5M479.9 254.0H538.2M523.6 224.4V283.5M479.9 268.7H538.2" stroke="#e6e6e6" stroke-width="0.7" fill="none"/>
<text x="509.04" y="257.05" font-size="8.8" fill="#1a1a1a" text-anchor="middle">0.21</text>
</g>
<rect x="480.19" y="224.73" width="57.70" height="58.45" fill="none" stroke="#b3b3b3" stroke-width="1.0"/>
<g clip-path="url(#c3_8)">
<path d="M549.6 224.4V283.5M542.3 231.8H600.6M564.2 224.4V283.5M542.3 246.6H600.6M578.7 224.4V283.5M542.3 261.3H600.6M593.3 224.4V283.5M542.3 276.1H600.6" stroke="#f1f1f1" stroke-width="0.7" fill="none"/>
<path d="M556.9 224.4V283.5M542.3 239.2H600.6M571.5 224.4V283.5M542.3 254.0H600.6M586.0 224.4V283.5M542.3 268.7H600.6" stroke="#e6e6e6" stroke-width="0.7" fill="none"/>
<text x="571.46" y="257.05" font-size="8.8" fill="#1a1a1a" text-anchor="middle">-0.18</text>
</g>
<rect x="542.61" y="224.73" width="57.70" height="58.45" fill="none" stroke="#b3b3b3" stroke-width="1.0"/>
<g clip-path="url(#c3_9)">
<path d="M612.0 224.4V283.5M604.7 231.8H663.0M626.6 224.4V283.5M604.7 246.6H663.0M641.2 224.4V283.5M604.7 261.3H663.0M655.7 224.4V283.5M604.7 276.1H663.0" stroke="#f1f1f1" stroke-width="0.7" fill="none"/>
<path d="M619.3 224.4V283.5M604.7 239.2H663.0M633.9 224.4V283.5M604.7 254.0H663.0M648.5 224.4V283.5M604.7 268.7H663.0" stroke="#e6e6e6" stroke-width="0.7" fill="none"/>
<text x="633.88" y="257.05" font-size="8.8" fill="#1a1a1a" text-anchor="middle">-0.03</text>
</g>
<rect x="605.03" y="224.73" width="57.70" height="58.45" fill="none" stroke="#b3b3b3" stroke-width="1.0"/>
<g clip-path="url(#c4_0)">
<path d="M53.0 287.5V346.6M67.7 287.5V346.6M82.4 287.5V346.6M97.1 287.5V346.6M43.0 334.9H101.2M43.0 317.0H101.2M43.0 299.1H101.2" stroke="#f1f1f1" stroke-width="0.6" fill="none"/>
<path d="M45.6 287.5V346.6M60.3 287.5V346.6M75.0 287.5V346.6M89.8 287.5V346.6M43.0 343.9H101.2M43.0 326.0H101.2M43.0 308.1H101.2M43.0 290.2H101.2" stroke="#e6e6e6" stroke-width="0.8" fill="none"/>
<circle cx="57.38" cy="317.02" r="1.75" fill="#000"/>
<circle cx="57.38" cy="308.08" r="1.75" fill="#000"/>
<circle cx="45.60" cy="334.92" r="1.75" fill="#000"/>
<circle cx="51.49" cy="325.97" r="1.75" fill="#000"/>
<circle cx="45.60" cy="325.97" r="1.75" fill="#000"/>
<circle cx="57.38" cy="343.87" r="1.75" fill="#000"/>
<circle cx="98.60" cy="290.18" r="1.75" fill="#000"/>
<circle cx="57.38" cy="308.08" r="1.75" fill="#000"/>
<circle cx="51.49" cy="334.92" r="1.75" fill="#000"/>
<circle cx="69.16" cy="290.18" r="1.75" fill="#000"/>
<polygon points="45.6,316.7 51.6,313.7 56.3,310.5 61.0,306.5 65.7,301.4 71.8,293.9 78.5,284.7 87.2,272.1 98.6,255.1 98.6,310.7 87.2,313.9 78.5,316.8 71.8,319.5 65.7,322.7 61.0,326.0 56.3,330.3 51.6,335.5 45.6,343.1" fill="#999999" fill-opacity="0.4"/>
<line x1="45.60" y1="329.95" x2="98.60" y2="282.88" stroke="#000" stroke-width="1.4"/>
</g>
<rect x="43.25" y="287.80" width="57.70" height="58.45" fill="none" stroke="#b3b3b3" stroke-width="1.0"/>
<g clip-path="url(#c4_1)">
<path d="M113.3 287.5V346.6M123.9 287.5V346.6M134.5 287.5V346.6M145.1 287.5V346.6M155.7 287.5V346.6M105.4 334.9H163.7M105.4 317.0H163.7M105.4 299.1H163.7" stroke="#f1f1f1" stroke-width="0.6" fill="none"/>
<path d="M108.0 287.5V346.6M118.6 287.5V346.6M129.2 287.5V346.6M139.8 287.5V346.6M150.4 287.5V346.6M161.0 287.5V346.6M105.4 343.9H163.7M105.4 326.0H163.7M105.4 308.1H163.7M105.4 290.2H163.7" stroke="#e6e6e6" stroke-width="0.8" fill="none"/>
<circle cx="108.02" cy="317.02" r="1.75" fill="#000"/>
<circle cx="118.62" cy="308.08" r="1.75" fill="#000"/>
<circle cx="161.02" cy="334.92" r="1.75" fill="#000"/>
<circle cx="108.02" cy="325.97" r="1.75" fill="#000"/>
<circle cx="118.62" cy="325.97" r="1.75" fill="#000"/>
<circle cx="108.02" cy="343.87" r="1.75" fill="#000"/>
<circle cx="129.22" cy="290.18" r="1.75" fill="#000"/>
<circle cx="108.02" cy="308.08" r="1.75" fill="#000"/>
<circle cx="139.82" cy="334.92" r="1.75" fill="#000"/>
<circle cx="150.42" cy="290.18" r="1.75" fill="#000"/>
<polygon points="108.0,300.2 114.7,302.6 120.1,303.6 122.8,303.7 125.5,303.6 128.1,303.1 130.8,302.3 136.2,300.1 142.9,296.2 151.0,290.6 161.0,283.0 161.0,345.7 151.0,340.0 142.9,336.1 136.2,333.5 130.8,332.3 128.1,332.1 125.5,332.2 122.8,332.5 120.1,333.2 114.7,335.3 108.0,339.0" fill="#999999" fill-opacity="0.4"/>
<line x1="108.02" y1="319.61" x2="161.02" y2="314.32" stroke="#000" stroke-width="1.4"/>
</g>
<rect x="105.67" y="287.80" width="57.70" height="58.45" fill="none" stroke="#b3b3b3" stroke-width="1.0"/>
<g clip-path="url(#c4_2)">
<path d="M178.0 287.5V346.6M194.8 287.5V346.6M211.7 287.5V346.6M167.8 334.9H226.1M167.8 317.0H226.1M167.8 299.1H226.1" stroke="#f1f1f1" stroke-width="0.6" fill="none"/>
<path d="M169.6 287.5V346.6M186.4 287.5V346.6M203.2 287.5V346.6M220.1 287.5V346.6M167.8 343.9H226.1M167.8 326.0H226.1M167.8 308.1H226.1M167.8 290.2H226.1" stroke="#e6e6e6" stroke-width="0.8" fill="none"/>
<circle cx="170.44" cy="317.02" r="1.75" fill="#000"/>
<circle cx="171.28" cy="308.08" r="1.75" fill="#000"/>
<circle cx="174.65" cy="334.92" r="1.75" fill="#000"/>
<circle cx="174.65" cy="325.97" r="1.75" fill="#000"/>
<circle cx="183.90" cy="325.97" r="1.75" fill="#000"/>
<circle cx="183.90" cy="343.87" r="1.75" fill="#000"/>
<circle cx="190.63" cy="290.18" r="1.75" fill="#000"/>
<circle cx="199.04" cy="308.08" r="1.75" fill="#000"/>
<circle cx="212.50" cy="334.92" r="1.75" fill="#000"/>
<circle cx="223.44" cy="290.18" r="1.75" fill="#000"/>
<polygon points="170.4,304.7 177.1,305.7 180.5,305.8 183.2,305.6 185.9,305.2 188.6,304.4 193.3,302.2 198.6,298.6 205.3,293.0 213.4,285.4 223.4,275.0 223.4,336.2 213.4,332.9 205.3,330.9 202.0,330.4 198.6,330.0 195.9,330.0 193.3,330.3 188.6,331.4 185.9,332.5 183.2,333.9 180.5,335.6 177.1,338.1 170.4,343.8" fill="#999999" fill-opacity="0.4"/>
<line x1="170.44" y1="324.25" x2="223.44" y2="305.61" stroke="#000" stroke-width="1.4"/>
</g>
<rect x="168.09" y="287.80" width="57.70" height="58.45" fill="none" stroke="#b3b3b3" stroke-width="1.0"/>
<g clip-path="url(#c4_3)">
<path d="M239.5 287.5V346.6M252.7 287.5V346.6M266.0 287.5V346.6M279.2 287.5V346.6M230.2 334.9H288.5M230.2 317.0H288.5M230.2 299.1H288.5" stroke="#f1f1f1" stroke-width="0.6" fill="none"/>
<path d="M232.9 287.5V346.6M246.1 287.5V346.6M259.4 287.5V346.6M272.6 287.5V346.6M285.9 287.5V346.6M230.2 343.9H288.5M230.2 326.0H288.5M230.2 308.1H288.5M230.2 290.2H288.5" stroke="#e6e6e6" stroke-width="0.8" fill="none"/>
<circle cx="232.86" cy="317.02" r="1.75" fill="#000"/>
<circle cx="232.86" cy="308.08" r="1.75" fill="#000"/>
<circle cx="285.86" cy="334.92" r="1.75" fill="#000"/>
<circle cx="232.86" cy="325.97" r="1.75" fill="#000"/>
<circle cx="232.86" cy="325.97" r="1.75" fill="#000"/>
<circle cx="232.86" cy="343.87" r="1.75" fill="#000"/>
<circle cx="232.86" cy="290.18" r="1.75" fill="#000"/>
<circle cx="232.86" cy="308.08" r="1.75" fill="#000"/>
<circle cx="232.86" cy="334.92" r="1.75" fill="#000"/>
<circle cx="285.86" cy="290.18" r="1.75" fill="#000"/>
<polygon points="232.9,303.4 238.2,303.9 243.6,303.7 249.0,302.5 254.3,300.6 260.4,297.6 267.1,293.6 275.8,287.9 285.9,280.8 285.9,344.3 275.8,339.8 267.1,336.2 260.4,334.0 254.3,332.5 249.0,331.9 243.6,332.1 238.2,333.2 232.9,335.2" fill="#999999" fill-opacity="0.4"/>
<line x1="232.86" y1="319.26" x2="285.86" y2="312.55" stroke="#000" stroke-width="1.4"/>
</g>
<rect x="230.51" y="287.80" width="57.70" height="58.45" fill="none" stroke="#b3b3b3" stroke-width="1.0"/>
<g clip-path="url(#c4_4)">
<path d="M304.1 287.5V346.6M321.8 287.5V346.6M339.4 287.5V346.6M292.6 335.7H350.9M292.6 319.3H350.9M292.6 302.9H350.9" stroke="#f1f1f1" stroke-width="0.6" fill="none"/>
<path d="M295.3 287.5V346.6M312.9 287.5V346.6M330.6 287.5V346.6M348.3 287.5V346.6M292.6 343.9H350.9M292.6 327.5H350.9M292.6 311.1H350.9M292.6 294.7H350.9" stroke="#e6e6e6" stroke-width="0.8" fill="none"/>
<path d="M295.3,311.5 L300.3,300.9 L302.3,297.3 L304.2,294.6 L306.2,292.5 L308.0,291.1 L310.0,290.3 L312.1,290.2 L313.7,290.5 L315.6,291.2 L320.1,293.9 L324.9,297.7 L335.3,306.4 L344.8,312.8 L348.3,315.8" fill="none" stroke="#111" stroke-width="0.9"/>
</g>
<rect x="292.93" y="287.80" width="57.70" height="58.45" fill="none" stroke="#b3b3b3" stroke-width="1.0"/>
<g clip-path="url(#c4_5)">
<path d="M362.3 287.5V346.6M355.1 294.9H413.4M376.9 287.5V346.6M355.1 309.6H413.4M391.5 287.5V346.6M355.1 324.4H413.4M406.1 287.5V346.6M355.1 339.2H413.4" stroke="#f1f1f1" stroke-width="0.7" fill="none"/>
<path d="M369.6 287.5V346.6M355.1 302.3H413.4M384.2 287.5V346.6M355.1 317.0H413.4M398.8 287.5V346.6M355.1 331.8H413.4" stroke="#e6e6e6" stroke-width="0.7" fill="none"/>
<text x="384.20" y="320.12" font-size="8.8" fill="#1a1a1a" text-anchor="middle">0.48</text>
</g>
<rect x="355.35" y="287.80" width="57.70" height="58.45" fill="none" stroke="#b3b3b3" stroke-width="1.0"/>
<g clip-path="url(#c4_6)">
<path d="M424.8 287.5V346.6M417.5 294.9H475.8M439.3 287.5V346.6M417.5 309.6H475.8M453.9 287.5V346.6M417.5 324.4H475.8M468.5 287.5V346.6M417.5 339.2H475.8" stroke="#f1f1f1" stroke-width="0.7" fill="none"/>
<path d="M432.0 287.5V346.6M417.5 302.3H475.8M446.6 287.5V346.6M417.5 317.0H475.8M461.2 287.5V346.6M417.5 331.8H475.8" stroke="#e6e6e6" stroke-width="0.7" fill="none"/>
<text x="446.62" y="320.12" font-size="8.8" fill="#1a1a1a" text-anchor="middle">0.46</text>
</g>
<rect x="417.77" y="287.80" width="57.70" height="58.45" fill="none" stroke="#b3b3b3" stroke-width="1.0"/>
<g clip-path="url(#c4_7)">
<path d="M487.2 287.5V346.6M479.9 294.9H538.2M501.8 287.5V346.6M479.9 309.6H538.2M516.3 287.5V346.6M479.9 324.4H538.2M530.9 287.5V346.6M479.9 339.2H538.2" stroke="#f1f1f1" stroke-width="0.7" fill="none"/>
<path d="M494.5 287.5V346.6M479.9 302.3H538.2M509.0 287.5V346.6M479.9 317.0H538.2M523.6 287.5V346.6M479.9 331.8H538.2" stroke="#e6e6e6" stroke-width="0.7" fill="none"/>
<text x="509.04" y="320.12" font-size="8.8" fill="#1a1a1a" text-anchor="middle">0.22</text>
</g>
<rect x="480.19" y="287.80" width="57.70" height="58.45" fill="none" stroke="#b3b3b3" stroke-width="1.0"/>
<g clip-path="url(#c4_8)">
<path d="M549.6 287.5V346.6M542.3 294.9H600.6M564.2 287.5V346.6M542.3 309.6H600.6M578.7 287.5V346.6M542.3 324.4H600.6M593.3 287.5V346.6M542.3 339.2H600.6" stroke="#f1f1f1" stroke-width="0.7" fill="none"/>
<path d="M556.9 287.5V346.6M542.3 302.3H600.6M571.5 287.5V346.6M542.3 317.0H600.6M586.0 287.5V346.6M542.3 331.8H600.6" stroke="#e6e6e6" stroke-width="0.7" fill="none"/>
<text x="571.46" y="320.12" font-size="8.8" fill="#1a1a1a" text-anchor="middle">0.36</text>
</g>
<rect x="542.61" y="287.80" width="57.70" height="58.45" fill="none" stroke="#b3b3b3" stroke-width="1.0"/>
<g clip-path="url(#c4_9)">
<path d="M612.0 287.5V346.6M604.7 294.9H663.0M626.6 287.5V346.6M604.7 309.6H663.0M641.2 287.5V346.6M604.7 324.4H663.0M655.7 287.5V346.6M604.7 339.2H663.0" stroke="#f1f1f1" stroke-width="0.7" fill="none"/>
<path d="M619.3 287.5V346.6M604.7 302.3H663.0M633.9 287.5V346.6M604.7 317.0H663.0M648.5 287.5V346.6M604.7 331.8H663.0" stroke="#e6e6e6" stroke-width="0.7" fill="none"/>
<text x="633.88" y="320.12" font-size="8.8" fill="#1a1a1a" text-anchor="middle">0.04</text>
</g>
<rect x="605.03" y="287.80" width="57.70" height="58.45" fill="none" stroke="#b3b3b3" stroke-width="1.0"/>
<g clip-path="url(#c5_0)">
<path d="M53.0 350.6V409.6M67.7 350.6V409.6M82.4 350.6V409.6M97.1 350.6V409.6M43.0 399.1H101.2M43.0 383.3H101.2M43.0 367.5H101.2M43.0 351.7H101.2" stroke="#f1f1f1" stroke-width="0.6" fill="none"/>
<path d="M45.6 350.6V409.6M60.3 350.6V409.6M75.0 350.6V409.6M89.8 350.6V409.6M43.0 407.0H101.2M43.0 391.2H101.2M43.0 375.4H101.2M43.0 359.6H101.2" stroke="#e6e6e6" stroke-width="0.8" fill="none"/>
<circle cx="57.38" cy="406.65" r="1.75" fill="#000"/>
<circle cx="57.38" cy="406.70" r="1.75" fill="#000"/>
<circle cx="45.60" cy="406.88" r="1.75" fill="#000"/>
<circle cx="51.49" cy="401.11" r="1.75" fill="#000"/>
<circle cx="45.60" cy="406.77" r="1.75" fill="#000"/>
<circle cx="57.38" cy="404.13" r="1.75" fill="#000"/>
<circle cx="98.60" cy="406.92" r="1.75" fill="#000"/>
<circle cx="57.38" cy="406.94" r="1.75" fill="#000"/>
<circle cx="51.49" cy="406.11" r="1.75" fill="#000"/>
<circle cx="69.16" cy="353.26" r="1.75" fill="#000"/>
<polygon points="45.6,386.3 49.0,387.4 51.6,388.0 54.3,388.3 56.3,388.3 59.0,387.9 61.0,387.4 63.0,386.6 65.7,385.2 68.4,383.5 71.8,381.1 78.5,375.3 87.2,367.0 98.6,355.5 98.6,428.1 87.2,421.6 78.5,417.2 71.8,414.4 68.4,413.5 65.7,413.0 63.0,412.8 61.0,412.9 59.0,413.2 56.3,414.1 51.6,416.4 45.6,420.8" fill="#999999" fill-opacity="0.4"/>
<line x1="45.60" y1="403.56" x2="98.60" y2="391.78" stroke="#000" stroke-width="1.4"/>
</g>
<rect x="43.25" y="350.88" width="57.70" height="58.45" fill="none" stroke="#b3b3b3" stroke-width="1.0"/>
<g clip-path="url(#c5_1)">
<path d="M113.3 350.6V409.6M123.9 350.6V409.6M134.5 350.6V409.6M145.1 350.6V409.6M155.7 350.6V409.6M105.4 399.1H163.7M105.4 383.3H163.7M105.4 367.5H163.7M105.4 351.7H163.7" stroke="#f1f1f1" stroke-width="0.6" fill="none"/>
<path d="M108.0 350.6V409.6M118.6 350.6V409.6M129.2 350.6V409.6M139.8 350.6V409.6M150.4 350.6V409.6M161.0 350.6V409.6M105.4 407.0H163.7M105.4 391.2H163.7M105.4 375.4H163.7M105.4 359.6H163.7" stroke="#e6e6e6" stroke-width="0.8" fill="none"/>
<circle cx="108.02" cy="406.65" r="1.75" fill="#000"/>
<circle cx="118.62" cy="406.70" r="1.75" fill="#000"/>
<circle cx="161.02" cy="406.88" r="1.75" fill="#000"/>
<circle cx="108.02" cy="401.11" r="1.75" fill="#000"/>
<circle cx="118.62" cy="406.77" r="1.75" fill="#000"/>
<circle cx="108.02" cy="404.13" r="1.75" fill="#000"/>
<circle cx="129.22" cy="406.92" r="1.75" fill="#000"/>
<circle cx="108.02" cy="406.94" r="1.75" fill="#000"/>
<circle cx="139.82" cy="406.11" r="1.75" fill="#000"/>
<circle cx="150.42" cy="353.26" r="1.75" fill="#000"/>
<polygon points="108.0,390.7 114.7,390.8 120.1,390.2 125.5,388.6 130.8,386.1 136.2,382.8 142.9,377.7 151.0,371.0 161.0,361.9 161.0,413.3 151.0,411.5 142.9,410.5 136.2,410.3 130.8,410.8 125.5,412.1 120.1,414.4 114.7,417.7 108.0,422.6" fill="#999999" fill-opacity="0.4"/>
<line x1="108.02" y1="406.64" x2="161.02" y2="387.61" stroke="#000" stroke-width="1.4"/>
</g>
<rect x="105.67" y="350.88" width="57.70" height="58.45" fill="none" stroke="#b3b3b3" stroke-width="1.0"/>
<g clip-path="url(#c5_2)">
<path d="M178.0 350.6V409.6M194.8 350.6V409.6M211.7 350.6V409.6M167.8 399.1H226.1M167.8 383.3H226.1M167.8 367.5H226.1M167.8 351.7H226.1" stroke="#f1f1f1" stroke-width="0.6" fill="none"/>
<path d="M169.6 350.6V409.6M186.4 350.6V409.6M203.2 350.6V409.6M220.1 350.6V409.6M167.8 407.0H226.1M167.8 391.2H226.1M167.8 375.4H226.1M167.8 359.6H226.1" stroke="#e6e6e6" stroke-width="0.8" fill="none"/>
<circle cx="170.44" cy="406.65" r="1.75" fill="#000"/>
<circle cx="171.28" cy="406.70" r="1.75" fill="#000"/>
<circle cx="174.65" cy="406.88" r="1.75" fill="#000"/>
<circle cx="174.65" cy="401.11" r="1.75" fill="#000"/>
<circle cx="183.90" cy="406.77" r="1.75" fill="#000"/>
<circle cx="183.90" cy="404.13" r="1.75" fill="#000"/>
<circle cx="190.63" cy="406.92" r="1.75" fill="#000"/>
<circle cx="199.04" cy="406.94" r="1.75" fill="#000"/>
<circle cx="212.50" cy="406.11" r="1.75" fill="#000"/>
<circle cx="223.44" cy="353.26" r="1.75" fill="#000"/>
<polygon points="170.4,397.4 177.1,395.7 183.2,393.5 188.6,390.7 193.3,387.5 198.6,383.1 205.3,376.7 213.4,368.3 223.4,357.3 223.4,401.4 213.4,402.6 205.3,404.0 198.6,405.7 193.3,407.7 188.6,410.2 183.2,413.9 177.1,419.0 170.4,425.6" fill="#999999" fill-opacity="0.4"/>
<line x1="170.44" y1="411.46" x2="223.44" y2="379.34" stroke="#000" stroke-width="1.4"/>
</g>
<rect x="168.09" y="350.88" width="57.70" height="58.45" fill="none" stroke="#b3b3b3" stroke-width="1.0"/>
<g clip-path="url(#c5_3)">
<path d="M239.5 350.6V409.6M252.7 350.6V409.6M266.0 350.6V409.6M279.2 350.6V409.6M230.2 399.1H288.5M230.2 383.3H288.5M230.2 367.5H288.5M230.2 351.7H288.5" stroke="#f1f1f1" stroke-width="0.6" fill="none"/>
<path d="M232.9 350.6V409.6M246.1 350.6V409.6M259.4 350.6V409.6M272.6 350.6V409.6M285.9 350.6V409.6M230.2 407.0H288.5M230.2 391.2H288.5M230.2 375.4H288.5M230.2 359.6H288.5" stroke="#e6e6e6" stroke-width="0.8" fill="none"/>
<circle cx="232.86" cy="406.65" r="1.75" fill="#000"/>
<circle cx="232.86" cy="406.70" r="1.75" fill="#000"/>
<circle cx="285.86" cy="406.88" r="1.75" fill="#000"/>
<circle cx="232.86" cy="401.11" r="1.75" fill="#000"/>
<circle cx="232.86" cy="406.77" r="1.75" fill="#000"/>
<circle cx="232.86" cy="404.13" r="1.75" fill="#000"/>
<circle cx="232.86" cy="406.92" r="1.75" fill="#000"/>
<circle cx="232.86" cy="406.94" r="1.75" fill="#000"/>
<circle cx="232.86" cy="406.11" r="1.75" fill="#000"/>
<circle cx="285.86" cy="353.26" r="1.75" fill="#000"/>
<polygon points="232.9,394.6 238.2,392.9 243.6,390.6 249.0,387.7 254.3,384.2 260.4,379.8 267.1,374.4 275.8,366.9 285.9,358.0 285.9,402.2 275.8,402.9 267.1,403.9 260.4,405.0 254.3,406.4 249.0,408.1 243.6,410.4 238.2,413.2 232.9,416.7" fill="#999999" fill-opacity="0.4"/>
<line x1="232.86" y1="405.67" x2="285.86" y2="380.07" stroke="#000" stroke-width="1.4"/>
</g>
<rect x="230.51" y="350.88" width="57.70" height="58.45" fill="none" stroke="#b3b3b3" stroke-width="1.0"/>
<g clip-path="url(#c5_4)">
<path d="M304.1 350.6V409.6M321.8 350.6V409.6M339.4 350.6V409.6M292.6 399.1H350.9M292.6 383.3H350.9M292.6 367.5H350.9M292.6 351.7H350.9" stroke="#f1f1f1" stroke-width="0.6" fill="none"/>
<path d="M295.3 350.6V409.6M312.9 350.6V409.6M330.6 350.6V409.6M348.3 350.6V409.6M292.6 407.0H350.9M292.6 391.2H350.9M292.6 375.4H350.9M292.6 359.6H350.9" stroke="#e6e6e6" stroke-width="0.8" fill="none"/>
<circle cx="321.78" cy="406.65" r="1.75" fill="#000"/>
<circle cx="330.61" cy="406.70" r="1.75" fill="#000"/>
<circle cx="304.11" cy="406.88" r="1.75" fill="#000"/>
<circle cx="312.95" cy="401.11" r="1.75" fill="#000"/>
<circle cx="312.95" cy="406.77" r="1.75" fill="#000"/>
<circle cx="295.28" cy="404.13" r="1.75" fill="#000"/>
<circle cx="348.28" cy="406.92" r="1.75" fill="#000"/>
<circle cx="330.61" cy="406.94" r="1.75" fill="#000"/>
<circle cx="304.11" cy="406.11" r="1.75" fill="#000"/>
<circle cx="348.28" cy="353.26" r="1.75" fill="#000"/>
<polygon points="295.3,391.7 303.3,392.2 310.0,392.0 313.4,391.5 316.1,390.9 318.8,390.1 321.4,389.0 326.8,386.0 332.8,381.6 339.6,375.7 348.3,367.4 348.3,409.5 339.6,408.9 332.8,409.0 326.8,409.9 324.1,410.6 321.4,411.6 316.1,414.4 310.0,418.7 303.3,424.4 295.3,432.0" fill="#999999" fill-opacity="0.4"/>
<line x1="295.28" y1="411.84" x2="348.28" y2="388.47" stroke="#000" stroke-width="1.4"/>
</g>
<rect x="292.93" y="350.88" width="57.70" height="58.45" fill="none" stroke="#b3b3b3" stroke-width="1.0"/>
<g clip-path="url(#c5_5)">
<path d="M365.5 350.6V409.6M381.1 350.6V409.6M396.7 350.6V409.6M412.3 350.6V409.6M355.1 401.0H413.4M355.1 389.1H413.4M355.1 377.2H413.4M355.1 365.4H413.4M355.1 353.5H413.4" stroke="#f1f1f1" stroke-width="0.6" fill="none"/>
<path d="M357.7 350.6V409.6M373.3 350.6V409.6M388.9 350.6V409.6M404.5 350.6V409.6M355.1 406.9H413.4M355.1 395.1H413.4M355.1 383.2H413.4M355.1 371.3H413.4M355.1 359.4H413.4" stroke="#e6e6e6" stroke-width="0.8" fill="none"/>
<path d="M357.7,354.6 L357.9,353.3 L358.2,355.6 L359.4,385.3 L360.1,395.1 L361.7,402.3 L362.0,402.5 L362.3,402.2 L363.1,399.4 L363.5,399.0 L363.9,399.9 L365.1,405.2 L365.8,406.6 L366.3,406.9 L367.3,406.9 L407.7,406.9 L408.4,406.5 L408.9,405.6 L410.3,399.8 L410.7,399.0" fill="none" stroke="#111" stroke-width="0.9"/>
</g>
<rect x="355.35" y="350.88" width="57.70" height="58.45" fill="none" stroke="#b3b3b3" stroke-width="1.0"/>
<g clip-path="url(#c5_6)">
<path d="M424.8 350.6V409.6M417.5 358.0H475.8M439.3 350.6V409.6M417.5 372.7H475.8M453.9 350.6V409.6M417.5 387.5H475.8M468.5 350.6V409.6M417.5 402.2H475.8" stroke="#f1f1f1" stroke-width="0.7" fill="none"/>
<path d="M432.0 350.6V409.6M417.5 365.3H475.8M446.6 350.6V409.6M417.5 380.1H475.8M461.2 350.6V409.6M417.5 394.9H475.8" stroke="#e6e6e6" stroke-width="0.7" fill="none"/>
<text x="446.62" y="383.20" font-size="8.8" fill="#d42a2a" text-anchor="middle">0.97***</text>
</g>
<rect x="417.77" y="350.88" width="57.70" height="58.45" fill="none" stroke="#b3b3b3" stroke-width="1.0"/>
<g clip-path="url(#c5_7)">
<path d="M487.2 350.6V409.6M479.9 358.0H538.2M501.8 350.6V409.6M479.9 372.7H538.2M516.3 350.6V409.6M479.9 387.5H538.2M530.9 350.6V409.6M479.9 402.2H538.2" stroke="#f1f1f1" stroke-width="0.7" fill="none"/>
<path d="M494.5 350.6V409.6M479.9 365.3H538.2M509.0 350.6V409.6M479.9 380.1H538.2M523.6 350.6V409.6M479.9 394.9H538.2" stroke="#e6e6e6" stroke-width="0.7" fill="none"/>
<text x="509.04" y="383.20" font-size="8.8" fill="#d42a2a" text-anchor="middle">0.68*</text>
</g>
<rect x="480.19" y="350.88" width="57.70" height="58.45" fill="none" stroke="#b3b3b3" stroke-width="1.0"/>
<g clip-path="url(#c5_8)">
<path d="M549.6 350.6V409.6M542.3 358.0H600.6M564.2 350.6V409.6M542.3 372.7H600.6M578.7 350.6V409.6M542.3 387.5H600.6M593.3 350.6V409.6M542.3 402.2H600.6" stroke="#f1f1f1" stroke-width="0.7" fill="none"/>
<path d="M556.9 350.6V409.6M542.3 365.3H600.6M571.5 350.6V409.6M542.3 380.1H600.6M586.0 350.6V409.6M542.3 394.9H600.6" stroke="#e6e6e6" stroke-width="0.7" fill="none"/>
<text x="571.46" y="383.20" font-size="8.8" fill="#1a1a1a" text-anchor="middle">0.53</text>
</g>
<rect x="542.61" y="350.88" width="57.70" height="58.45" fill="none" stroke="#b3b3b3" stroke-width="1.0"/>
<g clip-path="url(#c5_9)">
<path d="M612.0 350.6V409.6M604.7 358.0H663.0M626.6 350.6V409.6M604.7 372.7H663.0M641.2 350.6V409.6M604.7 387.5H663.0M655.7 350.6V409.6M604.7 402.2H663.0" stroke="#f1f1f1" stroke-width="0.7" fill="none"/>
<path d="M619.3 350.6V409.6M604.7 365.3H663.0M633.9 350.6V409.6M604.7 380.1H663.0M648.5 350.6V409.6M604.7 394.9H663.0" stroke="#e6e6e6" stroke-width="0.7" fill="none"/>
<text x="633.88" y="383.20" font-size="8.8" fill="#1a1a1a" text-anchor="middle">0.4</text>
</g>
<rect x="605.03" y="350.88" width="57.70" height="58.45" fill="none" stroke="#b3b3b3" stroke-width="1.0"/>
<g clip-path="url(#c6_0)">
<path d="M53.0 413.7V472.7M67.7 413.7V472.7M82.4 413.7V472.7M97.1 413.7V472.7M43.0 464.5H101.2M43.0 452.8H101.2M43.0 441.0H101.2M43.0 429.3H101.2M43.0 417.5H101.2" stroke="#f1f1f1" stroke-width="0.6" fill="none"/>
<path d="M45.6 413.7V472.7M60.3 413.7V472.7M75.0 413.7V472.7M89.8 413.7V472.7M43.0 470.4H101.2M43.0 458.7H101.2M43.0 446.9H101.2M43.0 435.1H101.2M43.0 423.4H101.2" stroke="#e6e6e6" stroke-width="0.8" fill="none"/>
<circle cx="57.38" cy="469.63" r="1.75" fill="#000"/>
<circle cx="57.38" cy="467.50" r="1.75" fill="#000"/>
<circle cx="45.60" cy="468.92" r="1.75" fill="#000"/>
<circle cx="51.49" cy="468.79" r="1.75" fill="#000"/>
<circle cx="45.60" cy="469.18" r="1.75" fill="#000"/>
<circle cx="57.38" cy="468.93" r="1.75" fill="#000"/>
<circle cx="98.60" cy="469.72" r="1.75" fill="#000"/>
<circle cx="57.38" cy="470.02" r="1.75" fill="#000"/>
<circle cx="51.49" cy="458.88" r="1.75" fill="#000"/>
<circle cx="69.16" cy="416.33" r="1.75" fill="#000"/>
<polygon points="45.6,448.2 49.0,449.4 51.6,450.0 54.3,450.4 56.3,450.4 59.0,450.2 61.0,449.7 63.0,448.9 65.7,447.6 68.4,446.0 71.8,443.6 78.5,438.1 87.2,430.0 98.6,418.7 98.6,491.4 87.2,484.6 78.5,479.9 71.8,477.0 68.4,476.0 65.7,475.4 63.0,475.1 61.0,475.2 59.0,475.5 56.3,476.2 54.3,477.1 51.6,478.5 45.6,482.7" fill="#999999" fill-opacity="0.4"/>
<line x1="45.60" y1="465.44" x2="98.60" y2="455.07" stroke="#000" stroke-width="1.4"/>
</g>
<rect x="43.25" y="413.95" width="57.70" height="58.45" fill="none" stroke="#b3b3b3" stroke-width="1.0"/>
<g clip-path="url(#c6_1)">
<path d="M113.3 413.7V472.7M123.9 413.7V472.7M134.5 413.7V472.7M145.1 413.7V472.7M155.7 413.7V472.7M105.4 464.5H163.7M105.4 452.8H163.7M105.4 441.0H163.7M105.4 429.3H163.7M105.4 417.5H163.7" stroke="#f1f1f1" stroke-width="0.6" fill="none"/>
<path d="M108.0 413.7V472.7M118.6 413.7V472.7M129.2 413.7V472.7M139.8 413.7V472.7M150.4 413.7V472.7M161.0 413.7V472.7M105.4 470.4H163.7M105.4 458.7H163.7M105.4 446.9H163.7M105.4 435.1H163.7M105.4 423.4H163.7" stroke="#e6e6e6" stroke-width="0.8" fill="none"/>
<circle cx="108.02" cy="469.63" r="1.75" fill="#000"/>
<circle cx="118.62" cy="467.50" r="1.75" fill="#000"/>
<circle cx="161.02" cy="468.92" r="1.75" fill="#000"/>
<circle cx="108.02" cy="468.79" r="1.75" fill="#000"/>
<circle cx="118.62" cy="469.18" r="1.75" fill="#000"/>
<circle cx="108.02" cy="468.93" r="1.75" fill="#000"/>
<circle cx="129.22" cy="469.72" r="1.75" fill="#000"/>
<circle cx="108.02" cy="470.02" r="1.75" fill="#000"/>
<circle cx="139.82" cy="458.88" r="1.75" fill="#000"/>
<circle cx="150.42" cy="416.33" r="1.75" fill="#000"/>
<polygon points="108.0,455.3 114.7,454.7 120.1,453.5 125.5,451.5 130.8,448.6 136.2,444.9 142.9,439.5 151.0,432.3 161.0,422.7 161.0,471.1 151.0,470.4 142.9,470.3 136.2,470.8 130.8,471.8 125.5,473.6 120.1,476.4 114.7,479.9 108.0,485.2" fill="#999999" fill-opacity="0.4"/>
<line x1="108.02" y1="470.26" x2="161.02" y2="446.91" stroke="#000" stroke-width="1.4"/>
</g>
<rect x="105.67" y="413.95" width="57.70" height="58.45" fill="none" stroke="#b3b3b3" stroke-width="1.0"/>
<g clip-path="url(#c6_2)">
<path d="M178.0 413.7V472.7M194.8 413.7V472.7M211.7 413.7V472.7M167.8 464.5H226.1M167.8 452.8H226.1M167.8 441.0H226.1M167.8 429.3H226.1M167.8 417.5H226.1" stroke="#f1f1f1" stroke-width="0.6" fill="none"/>
<path d="M169.6 413.7V472.7M186.4 413.7V472.7M203.2 413.7V472.7M220.1 413.7V472.7M167.8 470.4H226.1M167.8 458.7H226.1M167.8 446.9H226.1M167.8 435.1H226.1M167.8 423.4H226.1" stroke="#e6e6e6" stroke-width="0.8" fill="none"/>
<circle cx="170.44" cy="469.63" r="1.75" fill="#000"/>
<circle cx="171.28" cy="467.50" r="1.75" fill="#000"/>
<circle cx="174.65" cy="468.92" r="1.75" fill="#000"/>
<circle cx="174.65" cy="468.79" r="1.75" fill="#000"/>
<circle cx="183.90" cy="469.18" r="1.75" fill="#000"/>
<circle cx="183.90" cy="468.93" r="1.75" fill="#000"/>
<circle cx="190.63" cy="469.72" r="1.75" fill="#000"/>
<circle cx="199.04" cy="470.02" r="1.75" fill="#000"/>
<circle cx="212.50" cy="458.88" r="1.75" fill="#000"/>
<circle cx="223.44" cy="416.33" r="1.75" fill="#000"/>
<polygon points="170.4,463.1 177.1,460.6 183.2,457.6 188.6,454.3 193.3,450.7 198.6,445.9 205.3,439.3 213.4,430.7 223.4,419.4 223.4,457.6 213.4,460.3 205.3,462.9 198.6,465.5 193.3,468.2 188.6,471.1 183.2,475.2 177.1,480.7 170.4,487.5" fill="#999999" fill-opacity="0.4"/>
<line x1="170.44" y1="475.29" x2="223.44" y2="438.49" stroke="#000" stroke-width="1.4"/>
</g>
<rect x="168.09" y="413.95" width="57.70" height="58.45" fill="none" stroke="#b3b3b3" stroke-width="1.0"/>
<g clip-path="url(#c6_3)">
<path d="M239.5 413.7V472.7M252.7 413.7V472.7M266.0 413.7V472.7M279.2 413.7V472.7M230.2 464.5H288.5M230.2 452.8H288.5M230.2 441.0H288.5M230.2 429.3H288.5M230.2 417.5H288.5" stroke="#f1f1f1" stroke-width="0.6" fill="none"/>
<path d="M232.9 413.7V472.7M246.1 413.7V472.7M259.4 413.7V472.7M272.6 413.7V472.7M285.9 413.7V472.7M230.2 470.4H288.5M230.2 458.7H288.5M230.2 446.9H288.5M230.2 435.1H288.5M230.2 423.4H288.5" stroke="#e6e6e6" stroke-width="0.8" fill="none"/>
<circle cx="232.86" cy="469.63" r="1.75" fill="#000"/>
<circle cx="232.86" cy="467.50" r="1.75" fill="#000"/>
<circle cx="285.86" cy="468.92" r="1.75" fill="#000"/>
<circle cx="232.86" cy="468.79" r="1.75" fill="#000"/>
<circle cx="232.86" cy="469.18" r="1.75" fill="#000"/>
<circle cx="232.86" cy="468.93" r="1.75" fill="#000"/>
<circle cx="232.86" cy="469.72" r="1.75" fill="#000"/>
<circle cx="232.86" cy="470.02" r="1.75" fill="#000"/>
<circle cx="232.86" cy="458.88" r="1.75" fill="#000"/>
<circle cx="285.86" cy="416.33" r="1.75" fill="#000"/>
<polygon points="232.9,456.7 238.2,455.1 243.6,452.8 249.0,449.9 254.3,446.5 260.4,442.1 267.1,436.7 275.8,429.3 285.9,420.5 285.9,464.8 275.8,465.5 267.1,466.4 260.4,467.4 254.3,468.8 249.0,470.4 243.6,472.6 238.2,475.5 232.9,478.9" fill="#999999" fill-opacity="0.4"/>
<line x1="232.86" y1="467.83" x2="285.86" y2="442.62" stroke="#000" stroke-width="1.4"/>
</g>
<rect x="230.51" y="413.95" width="57.70" height="58.45" fill="none" stroke="#b3b3b3" stroke-width="1.0"/>
<g clip-path="url(#c6_4)">
<path d="M304.1 413.7V472.7M321.8 413.7V472.7M339.4 413.7V472.7M292.6 464.5H350.9M292.6 452.8H350.9M292.6 441.0H350.9M292.6 429.3H350.9M292.6 417.5H350.9" stroke="#f1f1f1" stroke-width="0.6" fill="none"/>
<path d="M295.3 413.7V472.7M312.9 413.7V472.7M330.6 413.7V472.7M348.3 413.7V472.7M292.6 470.4H350.9M292.6 458.7H350.9M292.6 446.9H350.9M292.6 435.1H350.9M292.6 423.4H350.9" stroke="#e6e6e6" stroke-width="0.8" fill="none"/>
<circle cx="321.78" cy="469.63" r="1.75" fill="#000"/>
<circle cx="330.61" cy="467.50" r="1.75" fill="#000"/>
<circle cx="304.11" cy="468.92" r="1.75" fill="#000"/>
<circle cx="312.95" cy="468.79" r="1.75" fill="#000"/>
<circle cx="312.95" cy="469.18" r="1.75" fill="#000"/>
<circle cx="295.28" cy="468.93" r="1.75" fill="#000"/>
<circle cx="348.28" cy="469.72" r="1.75" fill="#000"/>
<circle cx="330.61" cy="470.02" r="1.75" fill="#000"/>
<circle cx="304.11" cy="458.88" r="1.75" fill="#000"/>
<circle cx="348.28" cy="416.33" r="1.75" fill="#000"/>
<polygon points="295.3,453.0 303.3,453.8 310.0,453.8 313.4,453.4 316.1,452.9 318.8,452.1 321.4,451.1 326.8,448.2 332.8,444.0 339.6,438.3 348.3,430.1 348.3,472.8 339.6,471.9 332.8,471.8 326.8,472.5 324.1,473.1 321.4,474.0 316.1,476.7 310.0,480.8 303.3,486.3 295.3,493.8" fill="#999999" fill-opacity="0.4"/>
<line x1="295.28" y1="473.37" x2="348.28" y2="451.48" stroke="#000" stroke-width="1.4"/>
</g>
<rect x="292.93" y="413.95" width="57.70" height="58.45" fill="none" stroke="#b3b3b3" stroke-width="1.0"/>
<g clip-path="url(#c6_5)">
<path d="M365.5 413.7V472.7M381.1 413.7V472.7M396.7 413.7V472.7M412.3 413.7V472.7M355.1 464.5H413.4M355.1 452.8H413.4M355.1 441.0H413.4M355.1 429.3H413.4M355.1 417.5H413.4" stroke="#f1f1f1" stroke-width="0.6" fill="none"/>
<path d="M357.7 413.7V472.7M373.3 413.7V472.7M388.9 413.7V472.7M404.5 413.7V472.7M355.1 470.4H413.4M355.1 458.7H413.4M355.1 446.9H413.4M355.1 435.1H413.4M355.1 423.4H413.4" stroke="#e6e6e6" stroke-width="0.8" fill="none"/>
<circle cx="357.98" cy="469.63" r="1.75" fill="#000"/>
<circle cx="357.94" cy="467.50" r="1.75" fill="#000"/>
<circle cx="357.76" cy="468.92" r="1.75" fill="#000"/>
<circle cx="363.46" cy="468.79" r="1.75" fill="#000"/>
<circle cx="357.87" cy="469.18" r="1.75" fill="#000"/>
<circle cx="360.47" cy="468.93" r="1.75" fill="#000"/>
<circle cx="357.72" cy="469.72" r="1.75" fill="#000"/>
<circle cx="357.70" cy="470.02" r="1.75" fill="#000"/>
<circle cx="358.52" cy="458.88" r="1.75" fill="#000"/>
<circle cx="410.70" cy="416.33" r="1.75" fill="#000"/>
<polygon points="357.7,465.8 366.4,457.5 375.8,447.5 389.2,432.5 410.7,407.8 410.7,426.1 389.2,443.5 375.8,454.8 366.4,463.4 357.7,472.1" fill="#999999" fill-opacity="0.4"/>
<line x1="357.70" y1="468.99" x2="410.70" y2="416.92" stroke="#000" stroke-width="1.4"/>
</g>
<rect x="355.35" y="413.95" width="57.70" height="58.45" fill="none" stroke="#b3b3b3" stroke-width="1.0"/>
<g clip-path="url(#c6_6)">
<path d="M425.5 413.7V472.7M437.1 413.7V472.7M448.7 413.7V472.7M460.3 413.7V472.7M472.0 413.7V472.7M417.5 463.1H475.8M417.5 449.2H475.8M417.5 435.3H475.8M417.5 421.4H475.8" stroke="#f1f1f1" stroke-width="0.6" fill="none"/>
<path d="M419.7 413.7V472.7M431.3 413.7V472.7M442.9 413.7V472.7M454.5 413.7V472.7M466.2 413.7V472.7M417.5 470.0H475.8M417.5 456.1H475.8M417.5 442.2H475.8M417.5 428.3H475.8M417.5 414.4H475.8" stroke="#e6e6e6" stroke-width="0.8" fill="none"/>
<path d="M420.1,432.3 L420.5,420.0 L420.7,416.9 L420.8,416.3 L420.9,416.5 L422.6,455.9 L423.6,466.8 L424.1,468.9 L424.7,469.9 L428.5,470.0 L429.0,469.9 L429.4,469.6 L429.9,468.1 L430.8,461.8 L431.1,460.9 L431.4,461.7 L432.5,468.5 L432.9,469.6 L433.4,470.0 L470.7,470.0 L471.4,469.6 L471.8,468.5 L472.8,461.8 L473.1,460.9" fill="none" stroke="#111" stroke-width="0.9"/>
</g>
<rect x="417.77" y="413.95" width="57.70" height="58.45" fill="none" stroke="#b3b3b3" stroke-width="1.0"/>
<g clip-path="url(#c6_7)">
<path d="M487.2 413.7V472.7M479.9 421.0H538.2M501.8 413.7V472.7M479.9 435.8H538.2M516.3 413.7V472.7M479.9 450.6H538.2M530.9 413.7V472.7M479.9 465.3H538.2" stroke="#f1f1f1" stroke-width="0.7" fill="none"/>
<path d="M494.5 413.7V472.7M479.9 428.4H538.2M509.0 413.7V472.7M479.9 443.2H538.2M523.6 413.7V472.7M479.9 457.9H538.2" stroke="#e6e6e6" stroke-width="0.7" fill="none"/>
<text x="509.04" y="446.28" font-size="8.8" fill="#d42a2a" text-anchor="middle">0.73*</text>
</g>
<rect x="480.19" y="413.95" width="57.70" height="58.45" fill="none" stroke="#b3b3b3" stroke-width="1.0"/>
<g clip-path="url(#c6_8)">
<path d="M549.6 413.7V472.7M542.3 421.0H600.6M564.2 413.7V472.7M542.3 435.8H600.6M578.7 413.7V472.7M542.3 450.6H600.6M593.3 413.7V472.7M542.3 465.3H600.6" stroke="#f1f1f1" stroke-width="0.7" fill="none"/>
<path d="M556.9 413.7V472.7M542.3 428.4H600.6M571.5 413.7V472.7M542.3 443.2H600.6M586.0 413.7V472.7M542.3 457.9H600.6" stroke="#e6e6e6" stroke-width="0.7" fill="none"/>
<text x="571.46" y="446.28" font-size="8.8" fill="#1a1a1a" text-anchor="middle">0.5</text>
</g>
<rect x="542.61" y="413.95" width="57.70" height="58.45" fill="none" stroke="#b3b3b3" stroke-width="1.0"/>
<g clip-path="url(#c6_9)">
<path d="M612.0 413.7V472.7M604.7 421.0H663.0M626.6 413.7V472.7M604.7 435.8H663.0M641.2 413.7V472.7M604.7 450.6H663.0M655.7 413.7V472.7M604.7 465.3H663.0" stroke="#f1f1f1" stroke-width="0.7" fill="none"/>
<path d="M619.3 413.7V472.7M604.7 428.4H663.0M633.9 413.7V472.7M604.7 443.2H663.0M648.5 413.7V472.7M604.7 457.9H663.0" stroke="#e6e6e6" stroke-width="0.7" fill="none"/>
<text x="633.88" y="446.28" font-size="8.8" fill="#1a1a1a" text-anchor="middle">0.49</text>
</g>
<rect x="605.03" y="413.95" width="57.70" height="58.45" fill="none" stroke="#b3b3b3" stroke-width="1.0"/>
<g clip-path="url(#c7_0)">
<path d="M53.0 476.7V535.8M67.7 476.7V535.8M82.4 476.7V535.8M97.1 476.7V535.8M43.0 524.1H101.2M43.0 506.2H101.2M43.0 488.4H101.2" stroke="#f1f1f1" stroke-width="0.6" fill="none"/>
<path d="M45.6 476.7V535.8M60.3 476.7V535.8M75.0 476.7V535.8M89.8 476.7V535.8M43.0 533.1H101.2M43.0 515.2H101.2M43.0 497.3H101.2M43.0 479.4H101.2" stroke="#e6e6e6" stroke-width="0.8" fill="none"/>
<circle cx="57.38" cy="533.09" r="1.75" fill="#000"/>
<circle cx="57.38" cy="533.09" r="1.75" fill="#000"/>
<circle cx="45.60" cy="533.09" r="1.75" fill="#000"/>
<circle cx="51.49" cy="515.20" r="1.75" fill="#000"/>
<circle cx="45.60" cy="497.30" r="1.75" fill="#000"/>
<circle cx="57.38" cy="515.20" r="1.75" fill="#000"/>
<circle cx="98.60" cy="515.20" r="1.75" fill="#000"/>
<circle cx="57.38" cy="515.20" r="1.75" fill="#000"/>
<circle cx="51.49" cy="497.30" r="1.75" fill="#000"/>
<circle cx="69.16" cy="479.41" r="1.75" fill="#000"/>
<polygon points="45.6,496.6 49.0,498.1 51.6,499.0 54.3,499.7 56.3,499.9 59.0,499.8 61.0,499.4 63.0,498.7 65.7,497.6 68.4,496.0 71.8,493.7 78.5,488.2 87.2,480.2 98.6,469.0 98.6,547.4 87.2,539.2 78.5,533.5 71.8,529.8 68.4,528.4 65.7,527.5 63.0,527.0 61.0,526.9 59.0,527.1 56.3,527.7 54.3,528.4 51.6,529.8 49.0,531.4 45.6,533.8" fill="#999999" fill-opacity="0.4"/>
<line x1="45.60" y1="515.20" x2="98.60" y2="508.19" stroke="#000" stroke-width="1.4"/>
</g>
<rect x="43.25" y="477.03" width="57.70" height="58.45" fill="none" stroke="#b3b3b3" stroke-width="1.0"/>
<g clip-path="url(#c7_1)">
<path d="M113.3 476.7V535.8M123.9 476.7V535.8M134.5 476.7V535.8M145.1 476.7V535.8M155.7 476.7V535.8M105.4 524.1H163.7M105.4 506.2H163.7M105.4 488.4H163.7" stroke="#f1f1f1" stroke-width="0.6" fill="none"/>
<path d="M108.0 476.7V535.8M118.6 476.7V535.8M129.2 476.7V535.8M139.8 476.7V535.8M150.4 476.7V535.8M161.0 476.7V535.8M105.4 533.1H163.7M105.4 515.2H163.7M105.4 497.3H163.7M105.4 479.4H163.7" stroke="#e6e6e6" stroke-width="0.8" fill="none"/>
<circle cx="108.02" cy="533.09" r="1.75" fill="#000"/>
<circle cx="118.62" cy="533.09" r="1.75" fill="#000"/>
<circle cx="161.02" cy="533.09" r="1.75" fill="#000"/>
<circle cx="108.02" cy="515.20" r="1.75" fill="#000"/>
<circle cx="118.62" cy="497.30" r="1.75" fill="#000"/>
<circle cx="108.02" cy="515.20" r="1.75" fill="#000"/>
<circle cx="129.22" cy="515.20" r="1.75" fill="#000"/>
<circle cx="108.02" cy="515.20" r="1.75" fill="#000"/>
<circle cx="139.82" cy="497.30" r="1.75" fill="#000"/>
<circle cx="150.42" cy="479.41" r="1.75" fill="#000"/>
<polygon points="108.0,499.6 114.7,500.7 120.1,500.9 122.8,500.6 125.5,500.0 128.1,499.2 130.8,498.1 136.2,495.2 142.9,490.6 151.0,484.2 161.0,475.5 161.0,533.7 151.0,529.9 142.9,527.5 136.2,526.2 130.8,525.9 128.1,526.1 125.5,526.6 122.8,527.3 120.1,528.3 114.7,531.1 108.0,535.6" fill="#999999" fill-opacity="0.4"/>
<line x1="108.02" y1="517.55" x2="161.02" y2="504.60" stroke="#000" stroke-width="1.4"/>
</g>
<rect x="105.67" y="477.03" width="57.70" height="58.45" fill="none" stroke="#b3b3b3" stroke-width="1.0"/>
<g clip-path="url(#c7_2)">
<path d="M178.0 476.7V535.8M194.8 476.7V535.8M211.7 476.7V535.8M167.8 524.1H226.1M167.8 506.2H226.1M167.8 488.4H226.1" stroke="#f1f1f1" stroke-width="0.6" fill="none"/>
<path d="M169.6 476.7V535.8M186.4 476.7V535.8M203.2 476.7V535.8M220.1 476.7V535.8M167.8 533.1H226.1M167.8 515.2H226.1M167.8 497.3H226.1M167.8 479.4H226.1" stroke="#e6e6e6" stroke-width="0.8" fill="none"/>
<circle cx="170.44" cy="533.09" r="1.75" fill="#000"/>
<circle cx="171.28" cy="533.09" r="1.75" fill="#000"/>
<circle cx="174.65" cy="533.09" r="1.75" fill="#000"/>
<circle cx="174.65" cy="515.20" r="1.75" fill="#000"/>
<circle cx="183.90" cy="497.30" r="1.75" fill="#000"/>
<circle cx="183.90" cy="515.20" r="1.75" fill="#000"/>
<circle cx="190.63" cy="515.20" r="1.75" fill="#000"/>
<circle cx="199.04" cy="515.20" r="1.75" fill="#000"/>
<circle cx="212.50" cy="497.30" r="1.75" fill="#000"/>
<circle cx="223.44" cy="479.41" r="1.75" fill="#000"/>
<polygon points="170.4,518.1 177.1,514.3 183.2,510.3 188.6,506.1 193.3,501.9 198.6,496.5 205.3,489.2 223.4,467.8 223.4,500.4 213.4,505.2 205.3,509.3 198.6,513.2 193.3,516.8 188.6,520.5 183.2,525.3 177.1,531.5 170.4,538.9" fill="#999999" fill-opacity="0.4"/>
<line x1="170.44" y1="528.47" x2="223.44" y2="484.13" stroke="#000" stroke-width="1.4"/>
</g>
<rect x="168.09" y="477.03" width="57.70" height="58.45" fill="none" stroke="#b3b3b3" stroke-width="1.0"/>
<g clip-path="url(#c7_3)">
<path d="M239.5 476.7V535.8M252.7 476.7V535.8M266.0 476.7V535.8M279.2 476.7V535.8M230.2 524.1H288.5M230.2 506.2H288.5M230.2 488.4H288.5" stroke="#f1f1f1" stroke-width="0.6" fill="none"/>
<path d="M232.9 476.7V535.8M246.1 476.7V535.8M259.4 476.7V535.8M272.6 476.7V535.8M285.9 476.7V535.8M230.2 533.1H288.5M230.2 515.2H288.5M230.2 497.3H288.5M230.2 479.4H288.5" stroke="#e6e6e6" stroke-width="0.8" fill="none"/>
<circle cx="232.86" cy="533.09" r="1.75" fill="#000"/>
<circle cx="232.86" cy="533.09" r="1.75" fill="#000"/>
<circle cx="285.86" cy="533.09" r="1.75" fill="#000"/>
<circle cx="232.86" cy="515.20" r="1.75" fill="#000"/>
<circle cx="232.86" cy="497.30" r="1.75" fill="#000"/>
<circle cx="232.86" cy="515.20" r="1.75" fill="#000"/>
<circle cx="232.86" cy="515.20" r="1.75" fill="#000"/>
<circle cx="232.86" cy="515.20" r="1.75" fill="#000"/>
<circle cx="232.86" cy="497.30" r="1.75" fill="#000"/>
<circle cx="285.86" cy="479.41" r="1.75" fill="#000"/>
<polygon points="232.9,500.2 238.2,500.4 243.6,499.9 249.0,498.6 254.3,496.5 260.4,493.4 267.1,489.3 275.8,483.4 285.9,476.2 285.9,536.3 275.8,532.5 267.1,529.6 260.4,527.8 254.3,526.7 249.0,526.4 243.6,526.8 238.2,528.1 232.9,530.2" fill="#999999" fill-opacity="0.4"/>
<line x1="232.86" y1="515.20" x2="285.86" y2="506.25" stroke="#000" stroke-width="1.4"/>
</g>
<rect x="230.51" y="477.03" width="57.70" height="58.45" fill="none" stroke="#b3b3b3" stroke-width="1.0"/>
<g clip-path="url(#c7_4)">
<path d="M304.1 476.7V535.8M321.8 476.7V535.8M339.4 476.7V535.8M292.6 524.1H350.9M292.6 506.2H350.9M292.6 488.4H350.9" stroke="#f1f1f1" stroke-width="0.6" fill="none"/>
<path d="M295.3 476.7V535.8M312.9 476.7V535.8M330.6 476.7V535.8M348.3 476.7V535.8M292.6 533.1H350.9M292.6 515.2H350.9M292.6 497.3H350.9M292.6 479.4H350.9" stroke="#e6e6e6" stroke-width="0.8" fill="none"/>
<circle cx="321.78" cy="533.09" r="1.75" fill="#000"/>
<circle cx="330.61" cy="533.09" r="1.75" fill="#000"/>
<circle cx="304.11" cy="533.09" r="1.75" fill="#000"/>
<circle cx="312.95" cy="515.20" r="1.75" fill="#000"/>
<circle cx="312.95" cy="497.30" r="1.75" fill="#000"/>
<circle cx="295.28" cy="515.20" r="1.75" fill="#000"/>
<circle cx="348.28" cy="515.20" r="1.75" fill="#000"/>
<circle cx="330.61" cy="515.20" r="1.75" fill="#000"/>
<circle cx="304.11" cy="497.30" r="1.75" fill="#000"/>
<circle cx="348.28" cy="479.41" r="1.75" fill="#000"/>
<polygon points="295.3,495.0 303.3,498.1 310.0,499.9 313.4,500.4 316.1,500.5 318.8,500.3 321.4,499.9 324.1,499.1 326.8,498.0 329.5,496.6 332.8,494.6 339.6,489.8 348.3,482.6 348.3,532.6 339.6,529.1 332.8,527.1 329.5,526.5 326.8,526.3 324.1,526.4 321.4,526.7 318.8,527.4 316.1,528.4 313.4,529.6 310.0,531.5 303.3,536.2 295.3,542.7" fill="#999999" fill-opacity="0.4"/>
<line x1="295.28" y1="518.88" x2="348.28" y2="507.56" stroke="#000" stroke-width="1.4"/>
</g>
<rect x="292.93" y="477.03" width="57.70" height="58.45" fill="none" stroke="#b3b3b3" stroke-width="1.0"/>
<g clip-path="url(#c7_5)">
<path d="M365.5 476.7V535.8M381.1 476.7V535.8M396.7 476.7V535.8M412.3 476.7V535.8M355.1 524.1H413.4M355.1 506.2H413.4M355.1 488.4H413.4" stroke="#f1f1f1" stroke-width="0.6" fill="none"/>
<path d="M357.7 476.7V535.8M373.3 476.7V535.8M388.9 476.7V535.8M404.5 476.7V535.8M355.1 533.1H413.4M355.1 515.2H413.4M355.1 497.3H413.4M355.1 479.4H413.4" stroke="#e6e6e6" stroke-width="0.8" fill="none"/>
<circle cx="357.98" cy="533.09" r="1.75" fill="#000"/>
<circle cx="357.94" cy="533.09" r="1.75" fill="#000"/>
<circle cx="357.76" cy="533.09" r="1.75" fill="#000"/>
<circle cx="363.46" cy="515.20" r="1.75" fill="#000"/>
<circle cx="357.87" cy="497.30" r="1.75" fill="#000"/>
<circle cx="360.47" cy="515.20" r="1.75" fill="#000"/>
<circle cx="357.72" cy="515.20" r="1.75" fill="#000"/>
<circle cx="357.70" cy="515.20" r="1.75" fill="#000"/>
<circle cx="358.52" cy="497.30" r="1.75" fill="#000"/>
<circle cx="410.70" cy="479.41" r="1.75" fill="#000"/>
<polygon points="357.7,507.1 362.4,504.4 366.4,501.4 371.1,497.1 375.8,492.1 381.9,485.0 389.2,475.8 410.7,447.5 410.7,511.1 398.6,512.7 389.2,514.2 381.9,515.7 375.8,517.5 371.1,519.3 366.4,521.9 362.4,524.8 357.7,528.9" fill="#999999" fill-opacity="0.4"/>
<line x1="357.70" y1="518.02" x2="410.70" y2="479.30" stroke="#000" stroke-width="1.4"/>
</g>
<rect x="355.35" y="477.03" width="57.70" height="58.45" fill="none" stroke="#b3b3b3" stroke-width="1.0"/>
<g clip-path="url(#c7_6)">
<path d="M425.5 476.7V535.8M437.1 476.7V535.8M448.7 476.7V535.8M460.3 476.7V535.8M472.0 476.7V535.8M417.5 524.1H475.8M417.5 506.2H475.8M417.5 488.4H475.8" stroke="#f1f1f1" stroke-width="0.6" fill="none"/>
<path d="M419.7 476.7V535.8M431.3 476.7V535.8M442.9 476.7V535.8M454.5 476.7V535.8M466.2 476.7V535.8M417.5 533.1H475.8M417.5 515.2H475.8M417.5 497.3H475.8M417.5 479.4H475.8" stroke="#e6e6e6" stroke-width="0.8" fill="none"/>
<circle cx="420.51" cy="533.09" r="1.75" fill="#000"/>
<circle cx="422.60" cy="533.09" r="1.75" fill="#000"/>
<circle cx="421.21" cy="533.09" r="1.75" fill="#000"/>
<circle cx="421.33" cy="515.20" r="1.75" fill="#000"/>
<circle cx="420.94" cy="497.30" r="1.75" fill="#000"/>
<circle cx="421.19" cy="515.20" r="1.75" fill="#000"/>
<circle cx="420.42" cy="515.20" r="1.75" fill="#000"/>
<circle cx="420.12" cy="515.20" r="1.75" fill="#000"/>
<circle cx="431.12" cy="497.30" r="1.75" fill="#000"/>
<circle cx="473.12" cy="479.41" r="1.75" fill="#000"/>
<polygon points="420.1,508.6 424.8,505.7 429.5,502.1 434.2,497.6 438.9,492.4 444.9,485.2 452.3,475.8 473.1,448.0 473.1,506.8 461.7,509.3 452.3,511.7 444.9,513.8 438.9,516.1 434.2,518.3 429.5,521.2 424.8,524.9 420.1,529.4" fill="#999999" fill-opacity="0.4"/>
<line x1="420.12" y1="519.01" x2="473.12" y2="477.39" stroke="#000" stroke-width="1.4"/>
</g>
<rect x="417.77" y="477.03" width="57.70" height="58.45" fill="none" stroke="#b3b3b3" stroke-width="1.0"/>
<g clip-path="url(#c7_7)">
<path d="M491.4 476.7V535.8M509.0 476.7V535.8M526.7 476.7V535.8M479.9 525.6H538.2M479.9 510.7H538.2M479.9 495.7H538.2M479.9 480.8H538.2" stroke="#f1f1f1" stroke-width="0.6" fill="none"/>
<path d="M482.5 476.7V535.8M500.2 476.7V535.8M517.9 476.7V535.8M535.5 476.7V535.8M479.9 533.1H538.2M479.9 518.1H538.2M479.9 503.2H538.2M479.9 488.2H538.2" stroke="#e6e6e6" stroke-width="0.8" fill="none"/>
<path d="M482.5,492.6 L484.8,489.3 L487.3,486.3 L490.1,483.6 L492.8,481.4 L495.0,480.2 L497.0,479.5 L498.8,479.5 L500.7,480.0 L503.0,481.6 L505.4,484.1 L515.0,497.3 L521.8,505.4 L528.2,511.8 L535.5,518.0" fill="none" stroke="#111" stroke-width="0.9"/>
</g>
<rect x="480.19" y="477.03" width="57.70" height="58.45" fill="none" stroke="#b3b3b3" stroke-width="1.0"/>
<g clip-path="url(#c7_8)">
<path d="M549.6 476.7V535.8M542.3 484.1H600.6M564.2 476.7V535.8M542.3 498.9H600.6M578.7 476.7V535.8M542.3 513.6H600.6M593.3 476.7V535.8M542.3 528.4H600.6" stroke="#f1f1f1" stroke-width="0.7" fill="none"/>
<path d="M556.9 476.7V535.8M542.3 491.5H600.6M571.5 476.7V535.8M542.3 506.2H600.6M586.0 476.7V535.8M542.3 521.0H600.6" stroke="#e6e6e6" stroke-width="0.7" fill="none"/>
<text x="571.46" y="509.35" font-size="8.8" fill="#d42a2a" text-anchor="middle">0.74*</text>
</g>
<rect x="542.61" y="477.03" width="57.70" height="58.45" fill="none" stroke="#b3b3b3" stroke-width="1.0"/>
<g clip-path="url(#c7_9)">
<path d="M612.0 476.7V535.8M604.7 484.1H663.0M626.6 476.7V535.8M604.7 498.9H663.0M641.2 476.7V535.8M604.7 513.6H663.0M655.7 476.7V535.8M604.7 528.4H663.0" stroke="#f1f1f1" stroke-width="0.7" fill="none"/>
<path d="M619.3 476.7V535.8M604.7 491.5H663.0M633.9 476.7V535.8M604.7 506.2H663.0M648.5 476.7V535.8M604.7 521.0H663.0" stroke="#e6e6e6" stroke-width="0.7" fill="none"/>
<text x="633.88" y="509.35" font-size="8.8" fill="#d42a2a" text-anchor="middle">0.69*</text>
</g>
<rect x="605.03" y="477.03" width="57.70" height="58.45" fill="none" stroke="#b3b3b3" stroke-width="1.0"/>
<g clip-path="url(#c8_0)">
<path d="M53.0 539.8V598.9M67.7 539.8V598.9M82.4 539.8V598.9M97.1 539.8V598.9M43.0 587.2H101.2M43.0 569.3H101.2M43.0 551.4H101.2" stroke="#f1f1f1" stroke-width="0.6" fill="none"/>
<path d="M45.6 539.8V598.9M60.3 539.8V598.9M75.0 539.8V598.9M89.8 539.8V598.9M43.0 596.2H101.2M43.0 578.3H101.2M43.0 560.4H101.2M43.0 542.5H101.2" stroke="#e6e6e6" stroke-width="0.8" fill="none"/>
<circle cx="57.38" cy="560.38" r="1.75" fill="#000"/>
<circle cx="57.38" cy="578.27" r="1.75" fill="#000"/>
<circle cx="45.60" cy="596.17" r="1.75" fill="#000"/>
<circle cx="51.49" cy="551.43" r="1.75" fill="#000"/>
<circle cx="45.60" cy="551.43" r="1.75" fill="#000"/>
<circle cx="57.38" cy="569.33" r="1.75" fill="#000"/>
<circle cx="98.60" cy="560.38" r="1.75" fill="#000"/>
<circle cx="57.38" cy="569.33" r="1.75" fill="#000"/>
<circle cx="51.49" cy="560.38" r="1.75" fill="#000"/>
<circle cx="69.16" cy="542.48" r="1.75" fill="#000"/>
<polygon points="45.6,551.7 49.0,552.5 51.6,552.9 54.3,553.1 56.3,553.0 59.0,552.5 61.0,551.9 65.7,549.7 71.8,545.7 78.5,540.2 87.2,532.2 98.6,521.2 98.6,587.0 87.2,581.7 78.5,578.1 71.8,575.9 68.4,575.2 65.7,574.9 63.0,574.9 61.0,575.1 59.0,575.5 56.3,576.3 51.6,578.7 45.6,582.9" fill="#999999" fill-opacity="0.4"/>
<line x1="45.60" y1="567.34" x2="98.60" y2="554.11" stroke="#000" stroke-width="1.4"/>
</g>
<rect x="43.25" y="540.10" width="57.70" height="58.45" fill="none" stroke="#b3b3b3" stroke-width="1.0"/>
<g clip-path="url(#c8_1)">
<path d="M113.3 539.8V598.9M123.9 539.8V598.9M134.5 539.8V598.9M145.1 539.8V598.9M155.7 539.8V598.9M105.4 587.2H163.7M105.4 569.3H163.7M105.4 551.4H163.7" stroke="#f1f1f1" stroke-width="0.6" fill="none"/>
<path d="M108.0 539.8V598.9M118.6 539.8V598.9M129.2 539.8V598.9M139.8 539.8V598.9M150.4 539.8V598.9M161.0 539.8V598.9M105.4 596.2H163.7M105.4 578.3H163.7M105.4 560.4H163.7M105.4 542.5H163.7" stroke="#e6e6e6" stroke-width="0.8" fill="none"/>
<circle cx="108.02" cy="560.38" r="1.75" fill="#000"/>
<circle cx="118.62" cy="578.27" r="1.75" fill="#000"/>
<circle cx="161.02" cy="596.17" r="1.75" fill="#000"/>
<circle cx="108.02" cy="551.43" r="1.75" fill="#000"/>
<circle cx="118.62" cy="551.43" r="1.75" fill="#000"/>
<circle cx="108.02" cy="569.33" r="1.75" fill="#000"/>
<circle cx="129.22" cy="560.38" r="1.75" fill="#000"/>
<circle cx="108.02" cy="569.33" r="1.75" fill="#000"/>
<circle cx="139.82" cy="560.38" r="1.75" fill="#000"/>
<circle cx="150.42" cy="542.48" r="1.75" fill="#000"/>
<polygon points="108.0,545.2 114.7,548.9 120.1,551.1 125.5,552.5 130.8,552.9 136.2,552.5 142.9,551.2 151.0,548.8 161.0,545.3 161.0,595.8 151.0,588.6 142.9,583.3 136.2,579.5 130.8,577.1 125.5,575.6 120.1,575.0 114.7,575.3 108.0,576.5" fill="#999999" fill-opacity="0.4"/>
<line x1="108.02" y1="560.85" x2="161.02" y2="570.56" stroke="#000" stroke-width="1.4"/>
</g>
<rect x="105.67" y="540.10" width="57.70" height="58.45" fill="none" stroke="#b3b3b3" stroke-width="1.0"/>
<g clip-path="url(#c8_2)">
<path d="M178.0 539.8V598.9M194.8 539.8V598.9M211.7 539.8V598.9M167.8 587.2H226.1M167.8 569.3H226.1M167.8 551.4H226.1" stroke="#f1f1f1" stroke-width="0.6" fill="none"/>
<path d="M169.6 539.8V598.9M186.4 539.8V598.9M203.2 539.8V598.9M220.1 539.8V598.9M167.8 596.2H226.1M167.8 578.3H226.1M167.8 560.4H226.1M167.8 542.5H226.1" stroke="#e6e6e6" stroke-width="0.8" fill="none"/>
<circle cx="170.44" cy="560.38" r="1.75" fill="#000"/>
<circle cx="171.28" cy="578.27" r="1.75" fill="#000"/>
<circle cx="174.65" cy="596.17" r="1.75" fill="#000"/>
<circle cx="174.65" cy="551.43" r="1.75" fill="#000"/>
<circle cx="183.90" cy="551.43" r="1.75" fill="#000"/>
<circle cx="183.90" cy="569.33" r="1.75" fill="#000"/>
<circle cx="190.63" cy="560.38" r="1.75" fill="#000"/>
<circle cx="199.04" cy="569.33" r="1.75" fill="#000"/>
<circle cx="212.50" cy="560.38" r="1.75" fill="#000"/>
<circle cx="223.44" cy="542.48" r="1.75" fill="#000"/>
<polygon points="170.4,556.3 177.1,556.2 183.2,555.3 188.6,553.5 193.3,551.2 198.6,547.7 205.3,542.5 213.4,535.5 223.4,526.2 223.4,573.2 213.4,572.0 205.3,571.6 198.6,571.9 193.3,572.8 188.6,574.3 183.2,577.0 177.1,581.0 170.4,586.3" fill="#999999" fill-opacity="0.4"/>
<line x1="170.44" y1="571.31" x2="223.44" y2="549.67" stroke="#000" stroke-width="1.4"/>
</g>
<rect x="168.09" y="540.10" width="57.70" height="58.45" fill="none" stroke="#b3b3b3" stroke-width="1.0"/>
<g clip-path="url(#c8_3)">
<path d="M239.5 539.8V598.9M252.7 539.8V598.9M266.0 539.8V598.9M279.2 539.8V598.9M230.2 587.2H288.5M230.2 569.3H288.5M230.2 551.4H288.5" stroke="#f1f1f1" stroke-width="0.6" fill="none"/>
<path d="M232.9 539.8V598.9M246.1 539.8V598.9M259.4 539.8V598.9M272.6 539.8V598.9M285.9 539.8V598.9M230.2 596.2H288.5M230.2 578.3H288.5M230.2 560.4H288.5M230.2 542.5H288.5" stroke="#e6e6e6" stroke-width="0.8" fill="none"/>
<circle cx="232.86" cy="560.38" r="1.75" fill="#000"/>
<circle cx="232.86" cy="578.27" r="1.75" fill="#000"/>
<circle cx="285.86" cy="596.17" r="1.75" fill="#000"/>
<circle cx="232.86" cy="551.43" r="1.75" fill="#000"/>
<circle cx="232.86" cy="551.43" r="1.75" fill="#000"/>
<circle cx="232.86" cy="569.33" r="1.75" fill="#000"/>
<circle cx="232.86" cy="560.38" r="1.75" fill="#000"/>
<circle cx="232.86" cy="569.33" r="1.75" fill="#000"/>
<circle cx="232.86" cy="560.38" r="1.75" fill="#000"/>
<circle cx="285.86" cy="542.48" r="1.75" fill="#000"/>
<polygon points="232.9,549.6 238.2,551.3 243.6,552.3 249.0,552.6 254.3,552.2 260.4,551.2 267.1,549.5 275.8,546.8 285.9,543.3 285.9,595.4 275.8,589.3 267.1,584.4 260.4,581.0 254.3,578.4 249.0,576.7 243.6,575.6 238.2,575.3 232.9,575.6" fill="#999999" fill-opacity="0.4"/>
<line x1="232.86" y1="562.61" x2="285.86" y2="569.33" stroke="#000" stroke-width="1.4"/>
</g>
<rect x="230.51" y="540.10" width="57.70" height="58.45" fill="none" stroke="#b3b3b3" stroke-width="1.0"/>
<g clip-path="url(#c8_4)">
<path d="M304.1 539.8V598.9M321.8 539.8V598.9M339.4 539.8V598.9M292.6 587.2H350.9M292.6 569.3H350.9M292.6 551.4H350.9" stroke="#f1f1f1" stroke-width="0.6" fill="none"/>
<path d="M295.3 539.8V598.9M312.9 539.8V598.9M330.6 539.8V598.9M348.3 539.8V598.9M292.6 596.2H350.9M292.6 578.3H350.9M292.6 560.4H350.9M292.6 542.5H350.9" stroke="#e6e6e6" stroke-width="0.8" fill="none"/>
<circle cx="321.78" cy="560.38" r="1.75" fill="#000"/>
<circle cx="330.61" cy="578.27" r="1.75" fill="#000"/>
<circle cx="304.11" cy="596.17" r="1.75" fill="#000"/>
<circle cx="312.95" cy="551.43" r="1.75" fill="#000"/>
<circle cx="312.95" cy="551.43" r="1.75" fill="#000"/>
<circle cx="295.28" cy="569.33" r="1.75" fill="#000"/>
<circle cx="348.28" cy="560.38" r="1.75" fill="#000"/>
<circle cx="330.61" cy="569.33" r="1.75" fill="#000"/>
<circle cx="304.11" cy="560.38" r="1.75" fill="#000"/>
<circle cx="348.28" cy="542.48" r="1.75" fill="#000"/>
<polygon points="295.3,552.0 303.3,553.6 310.0,554.2 313.4,554.2 316.1,553.9 318.8,553.5 321.4,552.7 326.8,550.5 332.8,546.9 339.6,542.1 348.3,535.1 348.3,576.3 339.6,574.5 332.8,573.7 326.8,573.8 324.1,574.2 321.4,574.8 316.1,576.9 310.0,580.3 303.3,585.0 295.3,591.3" fill="#999999" fill-opacity="0.4"/>
<line x1="295.28" y1="571.69" x2="348.28" y2="555.69" stroke="#000" stroke-width="1.4"/>
</g>
<rect x="292.93" y="540.10" width="57.70" height="58.45" fill="none" stroke="#b3b3b3" stroke-width="1.0"/>
<g clip-path="url(#c8_5)">
<path d="M365.5 539.8V598.9M381.1 539.8V598.9M396.7 539.8V598.9M412.3 539.8V598.9M355.1 587.2H413.4M355.1 569.3H413.4M355.1 551.4H413.4" stroke="#f1f1f1" stroke-width="0.6" fill="none"/>
<path d="M357.7 539.8V598.9M373.3 539.8V598.9M388.9 539.8V598.9M404.5 539.8V598.9M355.1 596.2H413.4M355.1 578.3H413.4M355.1 560.4H413.4M355.1 542.5H413.4" stroke="#e6e6e6" stroke-width="0.8" fill="none"/>
<circle cx="357.98" cy="560.38" r="1.75" fill="#000"/>
<circle cx="357.94" cy="578.27" r="1.75" fill="#000"/>
<circle cx="357.76" cy="596.17" r="1.75" fill="#000"/>
<circle cx="363.46" cy="551.43" r="1.75" fill="#000"/>
<circle cx="357.87" cy="551.43" r="1.75" fill="#000"/>
<circle cx="360.47" cy="569.33" r="1.75" fill="#000"/>
<circle cx="357.72" cy="560.38" r="1.75" fill="#000"/>
<circle cx="357.70" cy="569.33" r="1.75" fill="#000"/>
<circle cx="358.52" cy="560.38" r="1.75" fill="#000"/>
<circle cx="410.70" cy="542.48" r="1.75" fill="#000"/>
<polygon points="357.7,556.2 362.4,554.6 366.4,552.6 371.1,549.4 375.8,545.6 381.9,540.0 389.2,532.5 410.7,509.5 410.7,572.9 398.6,571.5 389.2,570.8 381.9,570.5 375.8,570.8 371.1,571.6 366.4,573.0 362.4,574.9 357.7,577.9" fill="#999999" fill-opacity="0.4"/>
<line x1="357.70" y1="567.04" x2="410.70" y2="541.18" stroke="#000" stroke-width="1.4"/>
</g>
<rect x="355.35" y="540.10" width="57.70" height="58.45" fill="none" stroke="#b3b3b3" stroke-width="1.0"/>
<g clip-path="url(#c8_6)">
<path d="M425.5 539.8V598.9M437.1 539.8V598.9M448.7 539.8V598.9M460.3 539.8V598.9M472.0 539.8V598.9M417.5 587.2H475.8M417.5 569.3H475.8M417.5 551.4H475.8" stroke="#f1f1f1" stroke-width="0.6" fill="none"/>
<path d="M419.7 539.8V598.9M431.3 539.8V598.9M442.9 539.8V598.9M454.5 539.8V598.9M466.2 539.8V598.9M417.5 596.2H475.8M417.5 578.3H475.8M417.5 560.4H475.8M417.5 542.5H475.8" stroke="#e6e6e6" stroke-width="0.8" fill="none"/>
<circle cx="420.51" cy="560.38" r="1.75" fill="#000"/>
<circle cx="422.60" cy="578.27" r="1.75" fill="#000"/>
<circle cx="421.21" cy="596.17" r="1.75" fill="#000"/>
<circle cx="421.33" cy="551.43" r="1.75" fill="#000"/>
<circle cx="420.94" cy="551.43" r="1.75" fill="#000"/>
<circle cx="421.19" cy="569.33" r="1.75" fill="#000"/>
<circle cx="420.42" cy="560.38" r="1.75" fill="#000"/>
<circle cx="420.12" cy="569.33" r="1.75" fill="#000"/>
<circle cx="431.12" cy="560.38" r="1.75" fill="#000"/>
<circle cx="473.12" cy="542.48" r="1.75" fill="#000"/>
<polygon points="420.1,556.0 424.8,554.7 429.5,552.5 434.2,549.5 438.9,545.7 444.9,540.2 452.3,532.9 473.1,510.7 473.1,574.6 461.7,572.9 452.3,571.8 444.9,571.3 438.9,571.4 434.2,572.0 429.5,573.3 424.8,575.5 420.1,578.6" fill="#999999" fill-opacity="0.4"/>
<line x1="420.12" y1="567.27" x2="473.12" y2="542.66" stroke="#000" stroke-width="1.4"/>
</g>
<rect x="417.77" y="540.10" width="57.70" height="58.45" fill="none" stroke="#b3b3b3" stroke-width="1.0"/>
<g clip-path="url(#c8_7)">
<path d="M491.4 539.8V598.9M509.0 539.8V598.9M526.7 539.8V598.9M479.9 587.2H538.2M479.9 569.3H538.2M479.9 551.4H538.2" stroke="#f1f1f1" stroke-width="0.6" fill="none"/>
<path d="M482.5 539.8V598.9M500.2 539.8V598.9M517.9 539.8V598.9M535.5 539.8V598.9M479.9 596.2H538.2M479.9 578.3H538.2M479.9 560.4H538.2M479.9 542.5H538.2" stroke="#e6e6e6" stroke-width="0.8" fill="none"/>
<circle cx="482.54" cy="560.38" r="1.75" fill="#000"/>
<circle cx="482.54" cy="578.27" r="1.75" fill="#000"/>
<circle cx="482.54" cy="596.17" r="1.75" fill="#000"/>
<circle cx="500.21" cy="551.43" r="1.75" fill="#000"/>
<circle cx="517.87" cy="551.43" r="1.75" fill="#000"/>
<circle cx="500.21" cy="569.33" r="1.75" fill="#000"/>
<circle cx="500.21" cy="560.38" r="1.75" fill="#000"/>
<circle cx="500.21" cy="569.33" r="1.75" fill="#000"/>
<circle cx="517.87" cy="560.38" r="1.75" fill="#000"/>
<circle cx="535.54" cy="542.48" r="1.75" fill="#000"/>
<polygon points="482.5,564.4 489.2,562.2 495.3,559.8 500.7,556.9 506.0,553.2 511.4,548.7 518.1,542.5 525.5,535.0 535.5,524.4 535.5,560.0 525.5,562.4 518.1,564.5 511.4,566.9 506.0,569.5 500.7,572.8 495.3,576.8 489.2,582.2 482.5,588.7" fill="#999999" fill-opacity="0.4"/>
<line x1="482.54" y1="576.56" x2="535.54" y2="542.18" stroke="#000" stroke-width="1.4"/>
</g>
<rect x="480.19" y="540.10" width="57.70" height="58.45" fill="none" stroke="#b3b3b3" stroke-width="1.0"/>
<g clip-path="url(#c8_8)">
<path d="M553.8 539.8V598.9M571.5 539.8V598.9M589.1 539.8V598.9M542.3 590.8H600.6M542.3 580.1H600.6M542.3 569.4H600.6M542.3 558.7H600.6M542.3 548.0H600.6" stroke="#f1f1f1" stroke-width="0.6" fill="none"/>
<path d="M545.0 539.8V598.9M562.6 539.8V598.9M580.3 539.8V598.9M598.0 539.8V598.9M542.3 596.2H600.6M542.3 585.5H600.6M542.3 574.8H600.6M542.3 564.1H600.6M542.3 553.4H600.6M542.3 542.7H600.6" stroke="#e6e6e6" stroke-width="0.8" fill="none"/>
<path d="M545.0,584.3 L546.9,584.5 L551.1,586.1 L552.9,586.4 L554.1,586.2 L555.1,585.7 L557.2,583.8 L559.3,580.7 L561.8,576.0 L570.8,555.5 L574.0,548.9 L575.7,546.1 L577.1,544.3 L578.5,543.1 L579.8,542.5 L581.3,542.7 L582.8,543.6 L584.5,545.5 L586.2,548.3 L590.1,556.1 L598.0,574.5" fill="none" stroke="#111" stroke-width="0.9"/>
</g>
<rect x="542.61" y="540.10" width="57.70" height="58.45" fill="none" stroke="#b3b3b3" stroke-width="1.0"/>
<g clip-path="url(#c8_9)">
<path d="M612.0 539.8V598.9M604.7 547.2H663.0M626.6 539.8V598.9M604.7 561.9H663.0M641.2 539.8V598.9M604.7 576.7H663.0M655.7 539.8V598.9M604.7 591.5H663.0" stroke="#f1f1f1" stroke-width="0.7" fill="none"/>
<path d="M619.3 539.8V598.9M604.7 554.6H663.0M633.9 539.8V598.9M604.7 569.3H663.0M648.5 539.8V598.9M604.7 584.1H663.0" stroke="#e6e6e6" stroke-width="0.7" fill="none"/>
<text x="633.88" y="572.43" font-size="8.8" fill="#1a1a1a" text-anchor="middle">0.5</text>
</g>
<rect x="605.03" y="540.10" width="57.70" height="58.45" fill="none" stroke="#b3b3b3" stroke-width="1.0"/>
<g clip-path="url(#c9_0)">
<path d="M53.0 602.9V661.9M67.7 602.9V661.9M82.4 602.9V661.9M97.1 602.9V661.9M43.0 652.5H101.2M43.0 639.1H101.2M43.0 625.7H101.2M43.0 612.3H101.2" stroke="#f1f1f1" stroke-width="0.6" fill="none"/>
<path d="M45.6 602.9V661.9M60.3 602.9V661.9M75.0 602.9V661.9M89.8 602.9V661.9M43.0 659.2H101.2M43.0 645.8H101.2M43.0 632.4H101.2M43.0 619.0H101.2M43.0 605.6H101.2" stroke="#e6e6e6" stroke-width="0.8" fill="none"/>
<circle cx="57.38" cy="632.40" r="1.75" fill="#000"/>
<circle cx="57.38" cy="645.82" r="1.75" fill="#000"/>
<circle cx="45.60" cy="659.24" r="1.75" fill="#000"/>
<circle cx="51.49" cy="645.82" r="1.75" fill="#000"/>
<circle cx="45.60" cy="618.98" r="1.75" fill="#000"/>
<circle cx="57.38" cy="632.40" r="1.75" fill="#000"/>
<circle cx="98.60" cy="659.24" r="1.75" fill="#000"/>
<circle cx="57.38" cy="605.56" r="1.75" fill="#000"/>
<circle cx="51.49" cy="605.56" r="1.75" fill="#000"/>
<circle cx="69.16" cy="605.56" r="1.75" fill="#000"/>
<polygon points="45.6,604.6 49.0,608.0 51.6,610.5 54.3,612.5 56.3,613.8 59.0,615.0 61.0,615.5 63.0,615.8 65.7,615.7 68.4,615.2 71.8,614.2 78.5,611.1 87.2,606.0 98.6,598.5 98.6,690.6 87.2,675.2 78.5,664.2 71.8,656.5 68.4,653.2 65.7,650.9 63.0,649.0 61.0,647.9 59.0,647.1 56.3,646.4 54.3,646.3 51.6,646.5 49.0,647.1 45.6,648.3" fill="#999999" fill-opacity="0.4"/>
<line x1="45.60" y1="626.44" x2="98.60" y2="644.52" stroke="#000" stroke-width="1.4"/>
</g>
<rect x="43.25" y="603.18" width="57.70" height="58.45" fill="none" stroke="#b3b3b3" stroke-width="1.0"/>
<g clip-path="url(#c9_1)">
<path d="M113.3 602.9V661.9M123.9 602.9V661.9M134.5 602.9V661.9M145.1 602.9V661.9M155.7 602.9V661.9M105.4 652.5H163.7M105.4 639.1H163.7M105.4 625.7H163.7M105.4 612.3H163.7" stroke="#f1f1f1" stroke-width="0.6" fill="none"/>
<path d="M108.0 602.9V661.9M118.6 602.9V661.9M129.2 602.9V661.9M139.8 602.9V661.9M150.4 602.9V661.9M161.0 602.9V661.9M105.4 659.2H163.7M105.4 645.8H163.7M105.4 632.4H163.7M105.4 619.0H163.7M105.4 605.6H163.7" stroke="#e6e6e6" stroke-width="0.8" fill="none"/>
<circle cx="108.02" cy="632.40" r="1.75" fill="#000"/>
<circle cx="118.62" cy="645.82" r="1.75" fill="#000"/>
<circle cx="161.02" cy="659.24" r="1.75" fill="#000"/>
<circle cx="108.02" cy="645.82" r="1.75" fill="#000"/>
<circle cx="118.62" cy="618.98" r="1.75" fill="#000"/>
<circle cx="108.02" cy="632.40" r="1.75" fill="#000"/>
<circle cx="129.22" cy="659.24" r="1.75" fill="#000"/>
<circle cx="108.02" cy="605.56" r="1.75" fill="#000"/>
<circle cx="139.82" cy="605.56" r="1.75" fill="#000"/>
<circle cx="150.42" cy="605.56" r="1.75" fill="#000"/>
<polygon points="108.0,607.5 111.4,609.6 114.7,611.5 117.4,612.7 120.1,613.6 122.8,614.3 125.5,614.6 128.1,614.5 130.8,614.1 133.5,613.4 136.2,612.5 142.9,609.2 151.0,604.3 161.0,597.2 161.0,669.7 151.0,661.3 142.9,655.3 136.2,651.1 130.8,648.8 128.1,648.0 125.5,647.6 122.8,647.6 120.1,647.8 117.4,648.4 114.7,649.3 111.4,650.7 108.0,652.4" fill="#999999" fill-opacity="0.4"/>
<line x1="108.02" y1="629.93" x2="161.02" y2="633.46" stroke="#000" stroke-width="1.4"/>
</g>
<rect x="105.67" y="603.18" width="57.70" height="58.45" fill="none" stroke="#b3b3b3" stroke-width="1.0"/>
<g clip-path="url(#c9_2)">
<path d="M178.0 602.9V661.9M194.8 602.9V661.9M211.7 602.9V661.9M167.8 652.5H226.1M167.8 639.1H226.1M167.8 625.7H226.1M167.8 612.3H226.1" stroke="#f1f1f1" stroke-width="0.6" fill="none"/>
<path d="M169.6 602.9V661.9M186.4 602.9V661.9M203.2 602.9V661.9M220.1 602.9V661.9M167.8 659.2H226.1M167.8 645.8H226.1M167.8 632.4H226.1M167.8 619.0H226.1M167.8 605.6H226.1" stroke="#e6e6e6" stroke-width="0.8" fill="none"/>
<circle cx="170.44" cy="632.40" r="1.75" fill="#000"/>
<circle cx="171.28" cy="645.82" r="1.75" fill="#000"/>
<circle cx="174.65" cy="659.24" r="1.75" fill="#000"/>
<circle cx="174.65" cy="645.82" r="1.75" fill="#000"/>
<circle cx="183.90" cy="618.98" r="1.75" fill="#000"/>
<circle cx="183.90" cy="632.40" r="1.75" fill="#000"/>
<circle cx="190.63" cy="659.24" r="1.75" fill="#000"/>
<circle cx="199.04" cy="605.56" r="1.75" fill="#000"/>
<circle cx="212.50" cy="605.56" r="1.75" fill="#000"/>
<circle cx="223.44" cy="605.56" r="1.75" fill="#000"/>
<polygon points="170.4,630.0 177.1,627.1 183.2,623.6 188.6,619.6 193.3,615.1 198.6,609.1 205.3,600.6 213.4,589.6 223.4,575.3 223.4,626.9 213.4,629.8 205.3,632.6 198.6,635.6 193.3,638.8 188.6,642.4 183.2,647.5 177.1,654.4 170.4,663.0" fill="#999999" fill-opacity="0.4"/>
<line x1="170.44" y1="646.47" x2="223.44" y2="601.09" stroke="#000" stroke-width="1.4"/>
</g>
<rect x="168.09" y="603.18" width="57.70" height="58.45" fill="none" stroke="#b3b3b3" stroke-width="1.0"/>
<g clip-path="url(#c9_3)">
<path d="M239.5 602.9V661.9M252.7 602.9V661.9M266.0 602.9V661.9M279.2 602.9V661.9M230.2 652.5H288.5M230.2 639.1H288.5M230.2 625.7H288.5M230.2 612.3H288.5" stroke="#f1f1f1" stroke-width="0.6" fill="none"/>
<path d="M232.9 602.9V661.9M246.1 602.9V661.9M259.4 602.9V661.9M272.6 602.9V661.9M285.9 602.9V661.9M230.2 659.2H288.5M230.2 645.8H288.5M230.2 632.4H288.5M230.2 619.0H288.5M230.2 605.6H288.5" stroke="#e6e6e6" stroke-width="0.8" fill="none"/>
<circle cx="232.86" cy="632.40" r="1.75" fill="#000"/>
<circle cx="232.86" cy="645.82" r="1.75" fill="#000"/>
<circle cx="285.86" cy="659.24" r="1.75" fill="#000"/>
<circle cx="232.86" cy="645.82" r="1.75" fill="#000"/>
<circle cx="232.86" cy="618.98" r="1.75" fill="#000"/>
<circle cx="232.86" cy="632.40" r="1.75" fill="#000"/>
<circle cx="232.86" cy="659.24" r="1.75" fill="#000"/>
<circle cx="232.86" cy="605.56" r="1.75" fill="#000"/>
<circle cx="232.86" cy="605.56" r="1.75" fill="#000"/>
<circle cx="285.86" cy="605.56" r="1.75" fill="#000"/>
<polygon points="232.9,612.2 238.2,613.8 240.9,614.3 243.6,614.5 246.3,614.5 249.0,614.1 254.3,612.8 260.4,610.4 267.1,607.0 275.8,601.9 285.9,595.4 285.9,669.4 275.8,662.3 267.1,656.6 260.4,652.8 254.3,650.0 249.0,648.3 246.3,647.8 243.6,647.6 240.9,647.6 238.2,647.9 232.9,649.2" fill="#999999" fill-opacity="0.4"/>
<line x1="232.86" y1="630.72" x2="285.86" y2="632.40" stroke="#000" stroke-width="1.4"/>
</g>
<rect x="230.51" y="603.18" width="57.70" height="58.45" fill="none" stroke="#b3b3b3" stroke-width="1.0"/>
<g clip-path="url(#c9_4)">
<path d="M304.1 602.9V661.9M321.8 602.9V661.9M339.4 602.9V661.9M292.6 652.5H350.9M292.6 639.1H350.9M292.6 625.7H350.9M292.6 612.3H350.9" stroke="#f1f1f1" stroke-width="0.6" fill="none"/>
<path d="M295.3 602.9V661.9M312.9 602.9V661.9M330.6 602.9V661.9M348.3 602.9V661.9M292.6 659.2H350.9M292.6 645.8H350.9M292.6 632.4H350.9M292.6 619.0H350.9M292.6 605.6H350.9" stroke="#e6e6e6" stroke-width="0.8" fill="none"/>
<circle cx="321.78" cy="632.40" r="1.75" fill="#000"/>
<circle cx="330.61" cy="645.82" r="1.75" fill="#000"/>
<circle cx="304.11" cy="659.24" r="1.75" fill="#000"/>
<circle cx="312.95" cy="645.82" r="1.75" fill="#000"/>
<circle cx="312.95" cy="618.98" r="1.75" fill="#000"/>
<circle cx="295.28" cy="632.40" r="1.75" fill="#000"/>
<circle cx="348.28" cy="659.24" r="1.75" fill="#000"/>
<circle cx="330.61" cy="605.56" r="1.75" fill="#000"/>
<circle cx="304.11" cy="605.56" r="1.75" fill="#000"/>
<circle cx="348.28" cy="605.56" r="1.75" fill="#000"/>
<polygon points="295.3,602.7 303.3,608.3 306.7,610.3 310.0,612.0 313.4,613.4 316.1,614.1 318.8,614.5 321.4,614.5 324.1,614.1 326.8,613.3 329.5,612.2 332.8,610.5 339.6,606.0 348.3,599.1 348.3,660.7 339.6,654.5 332.8,650.6 329.5,649.1 326.8,648.3 324.1,647.7 321.4,647.6 318.8,647.8 316.1,648.4 313.4,649.4 310.0,651.0 306.7,653.0 303.3,655.3 295.3,661.6" fill="#999999" fill-opacity="0.4"/>
<line x1="295.28" y1="632.16" x2="348.28" y2="629.88" stroke="#000" stroke-width="1.4"/>
</g>
<rect x="292.93" y="603.18" width="57.70" height="58.45" fill="none" stroke="#b3b3b3" stroke-width="1.0"/>
<g clip-path="url(#c9_5)">
<path d="M365.5 602.9V661.9M381.1 602.9V661.9M396.7 602.9V661.9M412.3 602.9V661.9M355.1 652.5H413.4M355.1 639.1H413.4M355.1 625.7H413.4M355.1 612.3H413.4" stroke="#f1f1f1" stroke-width="0.6" fill="none"/>
<path d="M357.7 602.9V661.9M373.3 602.9V661.9M388.9 602.9V661.9M404.5 602.9V661.9M355.1 659.2H413.4M355.1 645.8H413.4M355.1 632.4H413.4M355.1 619.0H413.4M355.1 605.6H413.4" stroke="#e6e6e6" stroke-width="0.8" fill="none"/>
<circle cx="357.98" cy="632.40" r="1.75" fill="#000"/>
<circle cx="357.94" cy="645.82" r="1.75" fill="#000"/>
<circle cx="357.76" cy="659.24" r="1.75" fill="#000"/>
<circle cx="363.46" cy="645.82" r="1.75" fill="#000"/>
<circle cx="357.87" cy="618.98" r="1.75" fill="#000"/>
<circle cx="360.47" cy="632.40" r="1.75" fill="#000"/>
<circle cx="357.72" cy="659.24" r="1.75" fill="#000"/>
<circle cx="357.70" cy="605.56" r="1.75" fill="#000"/>
<circle cx="358.52" cy="605.56" r="1.75" fill="#000"/>
<circle cx="410.70" cy="605.56" r="1.75" fill="#000"/>
<polygon points="357.7,618.0 360.4,617.4 362.4,616.7 366.4,614.5 371.1,610.7 375.8,605.9 381.9,598.8 389.2,589.2 398.6,576.2 410.7,559.0 410.7,654.4 398.6,649.8 389.2,646.6 381.9,644.7 375.8,643.9 371.1,644.0 368.4,644.5 366.4,645.1 362.4,647.1 360.4,648.5 357.7,650.7" fill="#999999" fill-opacity="0.4"/>
<line x1="357.70" y1="634.35" x2="410.70" y2="606.69" stroke="#000" stroke-width="1.4"/>
</g>
<rect x="355.35" y="603.18" width="57.70" height="58.45" fill="none" stroke="#b3b3b3" stroke-width="1.0"/>
<g clip-path="url(#c9_6)">
<path d="M425.5 602.9V661.9M437.1 602.9V661.9M448.7 602.9V661.9M460.3 602.9V661.9M472.0 602.9V661.9M417.5 652.5H475.8M417.5 639.1H475.8M417.5 625.7H475.8M417.5 612.3H475.8" stroke="#f1f1f1" stroke-width="0.6" fill="none"/>
<path d="M419.7 602.9V661.9M431.3 602.9V661.9M442.9 602.9V661.9M454.5 602.9V661.9M466.2 602.9V661.9M417.5 659.2H475.8M417.5 645.8H475.8M417.5 632.4H475.8M417.5 619.0H475.8M417.5 605.6H475.8" stroke="#e6e6e6" stroke-width="0.8" fill="none"/>
<circle cx="420.51" cy="632.40" r="1.75" fill="#000"/>
<circle cx="422.60" cy="645.82" r="1.75" fill="#000"/>
<circle cx="421.21" cy="659.24" r="1.75" fill="#000"/>
<circle cx="421.33" cy="645.82" r="1.75" fill="#000"/>
<circle cx="420.94" cy="618.98" r="1.75" fill="#000"/>
<circle cx="421.19" cy="632.40" r="1.75" fill="#000"/>
<circle cx="420.42" cy="659.24" r="1.75" fill="#000"/>
<circle cx="420.12" cy="605.56" r="1.75" fill="#000"/>
<circle cx="431.12" cy="605.56" r="1.75" fill="#000"/>
<circle cx="473.12" cy="605.56" r="1.75" fill="#000"/>
<polygon points="420.1,619.7 422.8,618.9 424.8,618.0 427.5,616.5 429.5,615.0 434.2,610.8 438.9,605.6 444.9,598.0 452.3,587.8 461.7,574.1 473.1,557.0 473.1,646.8 461.7,644.2 452.3,642.5 444.9,641.7 438.9,641.7 434.2,642.5 431.5,643.3 429.5,644.2 427.5,645.4 424.8,647.2 420.1,651.5" fill="#999999" fill-opacity="0.4"/>
<line x1="420.12" y1="635.60" x2="473.12" y2="601.89" stroke="#000" stroke-width="1.4"/>
</g>
<rect x="417.77" y="603.18" width="57.70" height="58.45" fill="none" stroke="#b3b3b3" stroke-width="1.0"/>
<g clip-path="url(#c9_7)">
<path d="M491.4 602.9V661.9M509.0 602.9V661.9M526.7 602.9V661.9M479.9 652.5H538.2M479.9 639.1H538.2M479.9 625.7H538.2M479.9 612.3H538.2" stroke="#f1f1f1" stroke-width="0.6" fill="none"/>
<path d="M482.5 602.9V661.9M500.2 602.9V661.9M517.9 602.9V661.9M535.5 602.9V661.9M479.9 659.2H538.2M479.9 645.8H538.2M479.9 632.4H538.2M479.9 619.0H538.2M479.9 605.6H538.2" stroke="#e6e6e6" stroke-width="0.8" fill="none"/>
<circle cx="482.54" cy="632.40" r="1.75" fill="#000"/>
<circle cx="482.54" cy="645.82" r="1.75" fill="#000"/>
<circle cx="482.54" cy="659.24" r="1.75" fill="#000"/>
<circle cx="500.21" cy="645.82" r="1.75" fill="#000"/>
<circle cx="517.87" cy="618.98" r="1.75" fill="#000"/>
<circle cx="500.21" cy="632.40" r="1.75" fill="#000"/>
<circle cx="500.21" cy="659.24" r="1.75" fill="#000"/>
<circle cx="500.21" cy="605.56" r="1.75" fill="#000"/>
<circle cx="517.87" cy="605.56" r="1.75" fill="#000"/>
<circle cx="535.54" cy="605.56" r="1.75" fill="#000"/>
<polygon points="482.5,629.2 489.2,626.8 495.3,623.9 500.7,620.2 506.0,615.4 511.4,609.4 518.1,600.8 525.5,590.6 535.5,575.9 535.5,629.5 525.5,631.8 518.1,634.0 511.4,636.8 506.0,639.9 500.7,644.1 495.3,649.6 489.2,656.8 482.5,665.8" fill="#999999" fill-opacity="0.4"/>
<line x1="482.54" y1="647.48" x2="535.54" y2="602.69" stroke="#000" stroke-width="1.4"/>
</g>
<rect x="480.19" y="603.18" width="57.70" height="58.45" fill="none" stroke="#b3b3b3" stroke-width="1.0"/>
<g clip-path="url(#c9_8)">
<path d="M553.8 602.9V661.9M571.5 602.9V661.9M589.1 602.9V661.9M542.3 652.5H600.6M542.3 639.1H600.6M542.3 625.7H600.6M542.3 612.3H600.6" stroke="#f1f1f1" stroke-width="0.6" fill="none"/>
<path d="M545.0 602.9V661.9M562.6 602.9V661.9M580.3 602.9V661.9M598.0 602.9V661.9M542.3 659.2H600.6M542.3 645.8H600.6M542.3 632.4H600.6M542.3 619.0H600.6M542.3 605.6H600.6" stroke="#e6e6e6" stroke-width="0.8" fill="none"/>
<circle cx="580.29" cy="632.40" r="1.75" fill="#000"/>
<circle cx="562.63" cy="645.82" r="1.75" fill="#000"/>
<circle cx="544.96" cy="659.24" r="1.75" fill="#000"/>
<circle cx="589.13" cy="645.82" r="1.75" fill="#000"/>
<circle cx="589.13" cy="618.98" r="1.75" fill="#000"/>
<circle cx="571.46" cy="632.40" r="1.75" fill="#000"/>
<circle cx="580.29" cy="659.24" r="1.75" fill="#000"/>
<circle cx="571.46" cy="605.56" r="1.75" fill="#000"/>
<circle cx="580.29" cy="605.56" r="1.75" fill="#000"/>
<circle cx="597.96" cy="605.56" r="1.75" fill="#000"/>
<polygon points="545.0,619.0 555.0,620.6 559.0,621.0 563.1,621.1 566.4,620.8 569.1,620.3 571.8,619.5 574.5,618.2 576.5,616.9 579.2,614.8 581.9,612.2 584.5,609.2 590.6,601.3 598.0,590.4 598.0,641.4 593.9,641.1 590.6,641.0 587.2,641.3 584.5,641.8 581.9,642.6 579.2,643.8 576.5,645.5 574.5,647.2 571.8,649.7 569.1,652.7 563.1,660.6 555.0,672.5 545.0,688.5" fill="#999999" fill-opacity="0.4"/>
<line x1="544.96" y1="653.75" x2="597.96" y2="615.93" stroke="#000" stroke-width="1.4"/>
</g>
<rect x="542.61" y="603.18" width="57.70" height="58.45" fill="none" stroke="#b3b3b3" stroke-width="1.0"/>
<g clip-path="url(#c9_9)">
<path d="M614.0 602.9V661.9M627.3 602.9V661.9M640.5 602.9V661.9M653.8 602.9V661.9M604.7 652.2H663.0M604.7 638.0H663.0M604.7 623.8H663.0M604.7 609.7H663.0" stroke="#f1f1f1" stroke-width="0.6" fill="none"/>
<path d="M607.4 602.9V661.9M620.6 602.9V661.9M633.9 602.9V661.9M647.1 602.9V661.9M660.4 602.9V661.9M604.7 659.2H663.0M604.7 645.1H663.0M604.7 630.9H663.0M604.7 616.7H663.0" stroke="#e6e6e6" stroke-width="0.8" fill="none"/>
<path d="M607.4,618.5 L611.1,613.0 L612.9,610.9 L614.6,609.2 L616.5,607.7 L618.4,606.7 L620.2,606.0 L622.2,605.6 L624.8,605.6 L627.7,606.2 L630.5,607.1 L637.6,609.9 L641.5,610.9 L645.3,610.8 L652.5,609.5 L655.2,609.6 L656.5,610.0 L657.9,610.7 L660.4,612.7" fill="none" stroke="#111" stroke-width="0.9"/>
</g>
<rect x="605.03" y="603.18" width="57.70" height="58.45" fill="none" stroke="#b3b3b3" stroke-width="1.0"/>
<rect x="43.65" y="20.55" width="57.00" height="14.35" fill="#ffa500" stroke="#1a1a1a" stroke-width="1.25"/>
<text x="72.15" y="31.0" font-size="9" font-weight="bold" fill="#1a1a1a" text-anchor="middle">PP</text>
<rect x="106.07" y="20.55" width="57.00" height="14.35" fill="#ffa500" stroke="#1a1a1a" stroke-width="1.25"/>
<text x="134.57" y="31.0" font-size="9" font-weight="bold" fill="#1a1a1a" text-anchor="middle">PE</text>
<rect x="168.49" y="20.55" width="57.00" height="14.35" fill="#ffa500" stroke="#1a1a1a" stroke-width="1.25"/>
<text x="196.99" y="31.0" font-size="9" font-weight="bold" fill="#1a1a1a" text-anchor="middle">PVC</text>
<rect x="230.91" y="20.55" width="57.00" height="14.35" fill="#ffa500" stroke="#1a1a1a" stroke-width="1.25"/>
<text x="259.41" y="31.0" font-size="9" font-weight="bold" fill="#1a1a1a" text-anchor="middle">PS</text>
<rect x="293.33" y="20.55" width="57.00" height="14.35" fill="#ffa500" stroke="#1a1a1a" stroke-width="1.25"/>
<text x="321.83" y="31.0" font-size="9" font-weight="bold" fill="#1a1a1a" text-anchor="middle">PET</text>
<rect x="355.75" y="20.55" width="57.00" height="14.35" fill="#ffa500" stroke="#1a1a1a" stroke-width="1.25"/>
<text x="384.25" y="31.0" font-size="9" font-weight="bold" fill="#1a1a1a" text-anchor="middle">CEA</text>
<rect x="418.17" y="20.55" width="57.00" height="14.35" fill="#ffa500" stroke="#1a1a1a" stroke-width="1.25"/>
<text x="446.67" y="31.0" font-size="9" font-weight="bold" fill="#1a1a1a" text-anchor="middle">CA19-9</text>
<rect x="480.59" y="20.55" width="57.00" height="14.35" fill="#ffa500" stroke="#1a1a1a" stroke-width="1.25"/>
<text x="509.09" y="31.0" font-size="9" font-weight="bold" fill="#1a1a1a" text-anchor="middle">PDS</text>
<rect x="543.01" y="20.55" width="57.00" height="14.35" fill="#ffa500" stroke="#1a1a1a" stroke-width="1.25"/>
<text x="571.51" y="31.0" font-size="9" font-weight="bold" fill="#1a1a1a" text-anchor="middle">FDBW</text>
<rect x="605.43" y="20.55" width="57.00" height="14.35" fill="#ffa500" stroke="#1a1a1a" stroke-width="1.25"/>
<text x="633.93" y="31.0" font-size="9" font-weight="bold" fill="#1a1a1a" text-anchor="middle">FTOC</text>
<rect x="663.9" y="36.20" width="14.5" height="57.15" fill="#ffa500" stroke="#1a1a1a" stroke-width="1.25"/>
<text x="0" y="0" font-size="9" font-weight="bold" fill="#1a1a1a" text-anchor="middle" transform="translate(667.9,64.78) rotate(90)">PP</text>
<rect x="663.9" y="99.28" width="14.5" height="57.15" fill="#ffa500" stroke="#1a1a1a" stroke-width="1.25"/>
<text x="0" y="0" font-size="9" font-weight="bold" fill="#1a1a1a" text-anchor="middle" transform="translate(667.9,127.85) rotate(90)">PE</text>
<rect x="663.9" y="162.35" width="14.5" height="57.15" fill="#ffa500" stroke="#1a1a1a" stroke-width="1.25"/>
<text x="0" y="0" font-size="9" font-weight="bold" fill="#1a1a1a" text-anchor="middle" transform="translate(667.9,190.93) rotate(90)">PVC</text>
<rect x="663.9" y="225.43" width="14.5" height="57.15" fill="#ffa500" stroke="#1a1a1a" stroke-width="1.25"/>
<text x="0" y="0" font-size="9" font-weight="bold" fill="#1a1a1a" text-anchor="middle" transform="translate(667.9,254.00) rotate(90)">PS</text>
<rect x="663.9" y="288.50" width="14.5" height="57.15" fill="#ffa500" stroke="#1a1a1a" stroke-width="1.25"/>
<text x="0" y="0" font-size="9" font-weight="bold" fill="#1a1a1a" text-anchor="middle" transform="translate(667.9,317.08) rotate(90)">PET</text>
<rect x="663.9" y="351.57" width="14.5" height="57.15" fill="#ffa500" stroke="#1a1a1a" stroke-width="1.25"/>
<text x="0" y="0" font-size="9" font-weight="bold" fill="#1a1a1a" text-anchor="middle" transform="translate(667.9,380.15) rotate(90)">CEA</text>
<rect x="663.9" y="414.65" width="14.5" height="57.15" fill="#ffa500" stroke="#1a1a1a" stroke-width="1.25"/>
<text x="0" y="0" font-size="9" font-weight="bold" fill="#1a1a1a" text-anchor="middle" transform="translate(667.9,443.23) rotate(90)">CA19-9</text>
<rect x="663.9" y="477.73" width="14.5" height="57.15" fill="#ffa500" stroke="#1a1a1a" stroke-width="1.25"/>
<text x="0" y="0" font-size="9" font-weight="bold" fill="#1a1a1a" text-anchor="middle" transform="translate(667.9,506.30) rotate(90)">PDS</text>
<rect x="663.9" y="540.80" width="14.5" height="57.15" fill="#ffa500" stroke="#1a1a1a" stroke-width="1.25"/>
<text x="0" y="0" font-size="9" font-weight="bold" fill="#1a1a1a" text-anchor="middle" transform="translate(667.9,569.38) rotate(90)">FDBW</text>
<rect x="663.9" y="603.88" width="14.5" height="57.15" fill="#ffa500" stroke="#1a1a1a" stroke-width="1.25"/>
<text x="0" y="0" font-size="9" font-weight="bold" fill="#1a1a1a" text-anchor="middle" transform="translate(667.9,632.45) rotate(90)">FTOC</text>
<line x1="40.3" y1="91.57" x2="42.95" y2="91.57" stroke="#707070" stroke-width="0.9"/>
<text x="0" y="0" font-size="7" fill="#4d4d4d" text-anchor="end" transform="translate(39.0,94.37) scale(1,1.13)">0.0</text>
<line x1="40.3" y1="77.78" x2="42.95" y2="77.78" stroke="#707070" stroke-width="0.9"/>
<text x="0" y="0" font-size="7" fill="#4d4d4d" text-anchor="end" transform="translate(39.0,80.58) scale(1,1.13)">0.1</text>
<line x1="40.3" y1="63.99" x2="42.95" y2="63.99" stroke="#707070" stroke-width="0.9"/>
<text x="0" y="0" font-size="7" fill="#4d4d4d" text-anchor="end" transform="translate(39.0,66.79) scale(1,1.13)">0.2</text>
<line x1="40.3" y1="50.20" x2="42.95" y2="50.20" stroke="#707070" stroke-width="0.9"/>
<text x="0" y="0" font-size="7" fill="#4d4d4d" text-anchor="end" transform="translate(39.0,53.00) scale(1,1.13)">0.3</text>
<line x1="40.3" y1="36.41" x2="42.95" y2="36.41" stroke="#707070" stroke-width="0.9"/>
<text x="0" y="0" font-size="7" fill="#4d4d4d" text-anchor="end" transform="translate(39.0,39.21) scale(1,1.13)">0.4</text>
<line x1="40.3" y1="154.64" x2="42.95" y2="154.64" stroke="#707070" stroke-width="0.9"/>
<text x="0" y="0" font-size="7" fill="#4d4d4d" text-anchor="end" transform="translate(39.0,157.44) scale(1,1.13)">0</text>
<line x1="40.3" y1="143.90" x2="42.95" y2="143.90" stroke="#707070" stroke-width="0.9"/>
<text x="0" y="0" font-size="7" fill="#4d4d4d" text-anchor="end" transform="translate(39.0,146.70) scale(1,1.13)">1</text>
<line x1="40.3" y1="133.17" x2="42.95" y2="133.17" stroke="#707070" stroke-width="0.9"/>
<text x="0" y="0" font-size="7" fill="#4d4d4d" text-anchor="end" transform="translate(39.0,135.97) scale(1,1.13)">2</text>
<line x1="40.3" y1="122.43" x2="42.95" y2="122.43" stroke="#707070" stroke-width="0.9"/>
<text x="0" y="0" font-size="7" fill="#4d4d4d" text-anchor="end" transform="translate(39.0,125.23) scale(1,1.13)">3</text>
<line x1="40.3" y1="111.70" x2="42.95" y2="111.70" stroke="#707070" stroke-width="0.9"/>
<text x="0" y="0" font-size="7" fill="#4d4d4d" text-anchor="end" transform="translate(39.0,114.50) scale(1,1.13)">4</text>
<line x1="40.3" y1="100.96" x2="42.95" y2="100.96" stroke="#707070" stroke-width="0.9"/>
<text x="0" y="0" font-size="7" fill="#4d4d4d" text-anchor="end" transform="translate(39.0,103.76) scale(1,1.13)">5</text>
<line x1="40.3" y1="218.57" x2="42.95" y2="218.57" stroke="#707070" stroke-width="0.9"/>
<text x="0" y="0" font-size="7" fill="#4d4d4d" text-anchor="end" transform="translate(39.0,221.37) scale(1,1.13)">0</text>
<line x1="40.3" y1="201.53" x2="42.95" y2="201.53" stroke="#707070" stroke-width="0.9"/>
<text x="0" y="0" font-size="7" fill="#4d4d4d" text-anchor="end" transform="translate(39.0,204.33) scale(1,1.13)">20</text>
<line x1="40.3" y1="184.48" x2="42.95" y2="184.48" stroke="#707070" stroke-width="0.9"/>
<text x="0" y="0" font-size="7" fill="#4d4d4d" text-anchor="end" transform="translate(39.0,187.28) scale(1,1.13)">40</text>
<line x1="40.3" y1="167.44" x2="42.95" y2="167.44" stroke="#707070" stroke-width="0.9"/>
<text x="0" y="0" font-size="7" fill="#4d4d4d" text-anchor="end" transform="translate(39.0,170.24) scale(1,1.13)">60</text>
<line x1="40.3" y1="280.79" x2="42.95" y2="280.79" stroke="#707070" stroke-width="0.9"/>
<text x="0" y="0" font-size="7" fill="#4d4d4d" text-anchor="end" transform="translate(39.0,283.59) scale(1,1.13)">0.00</text>
<line x1="40.3" y1="267.37" x2="42.95" y2="267.37" stroke="#707070" stroke-width="0.9"/>
<text x="0" y="0" font-size="7" fill="#4d4d4d" text-anchor="end" transform="translate(39.0,270.17) scale(1,1.13)">0.25</text>
<line x1="40.3" y1="253.95" x2="42.95" y2="253.95" stroke="#707070" stroke-width="0.9"/>
<text x="0" y="0" font-size="7" fill="#4d4d4d" text-anchor="end" transform="translate(39.0,256.75) scale(1,1.13)">0.50</text>
<line x1="40.3" y1="240.53" x2="42.95" y2="240.53" stroke="#707070" stroke-width="0.9"/>
<text x="0" y="0" font-size="7" fill="#4d4d4d" text-anchor="end" transform="translate(39.0,243.33) scale(1,1.13)">0.75</text>
<line x1="40.3" y1="227.11" x2="42.95" y2="227.11" stroke="#707070" stroke-width="0.9"/>
<text x="0" y="0" font-size="7" fill="#4d4d4d" text-anchor="end" transform="translate(39.0,229.91) scale(1,1.13)">1.00</text>
<line x1="40.3" y1="343.87" x2="42.95" y2="343.87" stroke="#707070" stroke-width="0.9"/>
<text x="0" y="0" font-size="7" fill="#4d4d4d" text-anchor="end" transform="translate(39.0,346.67) scale(1,1.13)">0</text>
<line x1="40.3" y1="325.97" x2="42.95" y2="325.97" stroke="#707070" stroke-width="0.9"/>
<text x="0" y="0" font-size="7" fill="#4d4d4d" text-anchor="end" transform="translate(39.0,328.77) scale(1,1.13)">2</text>
<line x1="40.3" y1="308.08" x2="42.95" y2="308.08" stroke="#707070" stroke-width="0.9"/>
<text x="0" y="0" font-size="7" fill="#4d4d4d" text-anchor="end" transform="translate(39.0,310.88) scale(1,1.13)">4</text>
<line x1="40.3" y1="290.18" x2="42.95" y2="290.18" stroke="#707070" stroke-width="0.9"/>
<text x="0" y="0" font-size="7" fill="#4d4d4d" text-anchor="end" transform="translate(39.0,292.98) scale(1,1.13)">6</text>
<line x1="40.3" y1="406.96" x2="42.95" y2="406.96" stroke="#707070" stroke-width="0.9"/>
<text x="0" y="0" font-size="7" fill="#4d4d4d" text-anchor="end" transform="translate(39.0,409.76) scale(1,1.13)">0</text>
<line x1="40.3" y1="391.17" x2="42.95" y2="391.17" stroke="#707070" stroke-width="0.9"/>
<text x="0" y="0" font-size="7" fill="#4d4d4d" text-anchor="end" transform="translate(39.0,393.97) scale(1,1.13)">100</text>
<line x1="40.3" y1="375.37" x2="42.95" y2="375.37" stroke="#707070" stroke-width="0.9"/>
<text x="0" y="0" font-size="7" fill="#4d4d4d" text-anchor="end" transform="translate(39.0,378.17) scale(1,1.13)">200</text>
<line x1="40.3" y1="359.58" x2="42.95" y2="359.58" stroke="#707070" stroke-width="0.9"/>
<text x="0" y="0" font-size="7" fill="#4d4d4d" text-anchor="end" transform="translate(39.0,362.38) scale(1,1.13)">300</text>
<line x1="40.3" y1="470.42" x2="42.95" y2="470.42" stroke="#707070" stroke-width="0.9"/>
<text x="0" y="0" font-size="7" fill="#4d4d4d" text-anchor="end" transform="translate(39.0,473.22) scale(1,1.13)">0</text>
<line x1="40.3" y1="458.66" x2="42.95" y2="458.66" stroke="#707070" stroke-width="0.9"/>
<text x="0" y="0" font-size="7" fill="#4d4d4d" text-anchor="end" transform="translate(39.0,461.46) scale(1,1.13)">100</text>
<line x1="40.3" y1="446.90" x2="42.95" y2="446.90" stroke="#707070" stroke-width="0.9"/>
<text x="0" y="0" font-size="7" fill="#4d4d4d" text-anchor="end" transform="translate(39.0,449.70) scale(1,1.13)">200</text>
<line x1="40.3" y1="435.15" x2="42.95" y2="435.15" stroke="#707070" stroke-width="0.9"/>
<text x="0" y="0" font-size="7" fill="#4d4d4d" text-anchor="end" transform="translate(39.0,437.95) scale(1,1.13)">300</text>
<line x1="40.3" y1="423.39" x2="42.95" y2="423.39" stroke="#707070" stroke-width="0.9"/>
<text x="0" y="0" font-size="7" fill="#4d4d4d" text-anchor="end" transform="translate(39.0,426.19) scale(1,1.13)">400</text>
<line x1="40.3" y1="533.09" x2="42.95" y2="533.09" stroke="#707070" stroke-width="0.9"/>
<text x="0" y="0" font-size="7" fill="#4d4d4d" text-anchor="end" transform="translate(39.0,535.89) scale(1,1.13)">1</text>
<line x1="40.3" y1="515.20" x2="42.95" y2="515.20" stroke="#707070" stroke-width="0.9"/>
<text x="0" y="0" font-size="7" fill="#4d4d4d" text-anchor="end" transform="translate(39.0,518.00) scale(1,1.13)">2</text>
<line x1="40.3" y1="497.30" x2="42.95" y2="497.30" stroke="#707070" stroke-width="0.9"/>
<text x="0" y="0" font-size="7" fill="#4d4d4d" text-anchor="end" transform="translate(39.0,500.10) scale(1,1.13)">3</text>
<line x1="40.3" y1="479.41" x2="42.95" y2="479.41" stroke="#707070" stroke-width="0.9"/>
<text x="0" y="0" font-size="7" fill="#4d4d4d" text-anchor="end" transform="translate(39.0,482.21) scale(1,1.13)">4</text>
<line x1="40.3" y1="596.17" x2="42.95" y2="596.17" stroke="#707070" stroke-width="0.9"/>
<text x="0" y="0" font-size="7" fill="#4d4d4d" text-anchor="end" transform="translate(39.0,598.97) scale(1,1.13)">0</text>
<line x1="40.3" y1="578.27" x2="42.95" y2="578.27" stroke="#707070" stroke-width="0.9"/>
<text x="0" y="0" font-size="7" fill="#4d4d4d" text-anchor="end" transform="translate(39.0,581.07) scale(1,1.13)">2</text>
<line x1="40.3" y1="560.38" x2="42.95" y2="560.38" stroke="#707070" stroke-width="0.9"/>
<text x="0" y="0" font-size="7" fill="#4d4d4d" text-anchor="end" transform="translate(39.0,563.18) scale(1,1.13)">4</text>
<line x1="40.3" y1="542.48" x2="42.95" y2="542.48" stroke="#707070" stroke-width="0.9"/>
<text x="0" y="0" font-size="7" fill="#4d4d4d" text-anchor="end" transform="translate(39.0,545.28) scale(1,1.13)">6</text>
<line x1="40.3" y1="659.24" x2="42.95" y2="659.24" stroke="#707070" stroke-width="0.9"/>
<text x="0" y="0" font-size="7" fill="#4d4d4d" text-anchor="end" transform="translate(39.0,662.04) scale(1,1.13)">0</text>
<line x1="40.3" y1="645.82" x2="42.95" y2="645.82" stroke="#707070" stroke-width="0.9"/>
<text x="0" y="0" font-size="7" fill="#4d4d4d" text-anchor="end" transform="translate(39.0,648.62) scale(1,1.13)">1</text>
<line x1="40.3" y1="632.40" x2="42.95" y2="632.40" stroke="#707070" stroke-width="0.9"/>
<text x="0" y="0" font-size="7" fill="#4d4d4d" text-anchor="end" transform="translate(39.0,635.20) scale(1,1.13)">2</text>
<line x1="40.3" y1="618.98" x2="42.95" y2="618.98" stroke="#707070" stroke-width="0.9"/>
<text x="0" y="0" font-size="7" fill="#4d4d4d" text-anchor="end" transform="translate(39.0,621.78) scale(1,1.13)">3</text>
<line x1="40.3" y1="605.56" x2="42.95" y2="605.56" stroke="#707070" stroke-width="0.9"/>
<text x="0" y="0" font-size="7" fill="#4d4d4d" text-anchor="end" transform="translate(39.0,608.36) scale(1,1.13)">4</text>
<line x1="45.60" y1="661.93" x2="45.60" y2="664.5" stroke="#707070" stroke-width="0.9"/>
<text x="0" y="0" font-size="7" fill="#4d4d4d" text-anchor="middle" transform="translate(45.60,671.8) scale(1,1.13)">0.0</text>
<line x1="60.32" y1="661.93" x2="60.32" y2="664.5" stroke="#707070" stroke-width="0.9"/>
<text x="0" y="0" font-size="7" fill="#4d4d4d" text-anchor="middle" transform="translate(60.32,671.8) scale(1,1.13)">2.5</text>
<line x1="75.04" y1="661.93" x2="75.04" y2="664.5" stroke="#707070" stroke-width="0.9"/>
<text x="0" y="0" font-size="7" fill="#4d4d4d" text-anchor="middle" transform="translate(75.04,671.8) scale(1,1.13)">5.0</text>
<line x1="89.77" y1="661.93" x2="89.77" y2="664.5" stroke="#707070" stroke-width="0.9"/>
<text x="0" y="0" font-size="7" fill="#4d4d4d" text-anchor="middle" transform="translate(89.77,671.8) scale(1,1.13)">7.5</text>
<line x1="108.02" y1="661.93" x2="108.02" y2="664.5" stroke="#707070" stroke-width="0.9"/>
<text x="0" y="0" font-size="7" fill="#4d4d4d" text-anchor="middle" transform="translate(108.02,671.8) scale(1,1.13)">0</text>
<line x1="118.62" y1="661.93" x2="118.62" y2="664.5" stroke="#707070" stroke-width="0.9"/>
<text x="0" y="0" font-size="7" fill="#4d4d4d" text-anchor="middle" transform="translate(118.62,671.8) scale(1,1.13)">1</text>
<line x1="129.22" y1="661.93" x2="129.22" y2="664.5" stroke="#707070" stroke-width="0.9"/>
<text x="0" y="0" font-size="7" fill="#4d4d4d" text-anchor="middle" transform="translate(129.22,671.8) scale(1,1.13)">2</text>
<line x1="139.82" y1="661.93" x2="139.82" y2="664.5" stroke="#707070" stroke-width="0.9"/>
<text x="0" y="0" font-size="7" fill="#4d4d4d" text-anchor="middle" transform="translate(139.82,671.8) scale(1,1.13)">3</text>
<line x1="150.42" y1="661.93" x2="150.42" y2="664.5" stroke="#707070" stroke-width="0.9"/>
<text x="0" y="0" font-size="7" fill="#4d4d4d" text-anchor="middle" transform="translate(150.42,671.8) scale(1,1.13)">4</text>
<line x1="161.02" y1="661.93" x2="161.02" y2="664.5" stroke="#707070" stroke-width="0.9"/>
<text x="0" y="0" font-size="7" fill="#4d4d4d" text-anchor="middle" transform="translate(161.02,671.8) scale(1,1.13)">5</text>
<line x1="169.60" y1="661.93" x2="169.60" y2="664.5" stroke="#707070" stroke-width="0.9"/>
<text x="0" y="0" font-size="7" fill="#4d4d4d" text-anchor="middle" transform="translate(169.60,671.8) scale(1,1.13)">0</text>
<line x1="186.42" y1="661.93" x2="186.42" y2="664.5" stroke="#707070" stroke-width="0.9"/>
<text x="0" y="0" font-size="7" fill="#4d4d4d" text-anchor="middle" transform="translate(186.42,671.8) scale(1,1.13)">20</text>
<line x1="203.25" y1="661.93" x2="203.25" y2="664.5" stroke="#707070" stroke-width="0.9"/>
<text x="0" y="0" font-size="7" fill="#4d4d4d" text-anchor="middle" transform="translate(203.25,671.8) scale(1,1.13)">40</text>
<line x1="220.07" y1="661.93" x2="220.07" y2="664.5" stroke="#707070" stroke-width="0.9"/>
<text x="0" y="0" font-size="7" fill="#4d4d4d" text-anchor="middle" transform="translate(220.07,671.8) scale(1,1.13)">60</text>
<line x1="232.86" y1="661.93" x2="232.86" y2="664.5" stroke="#707070" stroke-width="0.9"/>
<text x="0" y="0" font-size="7" fill="#4d4d4d" text-anchor="middle" transform="translate(232.86,671.8) scale(1,1.13)">0.00</text>
<line x1="246.11" y1="661.93" x2="246.11" y2="664.5" stroke="#707070" stroke-width="0.9"/>
<text x="0" y="0" font-size="7" fill="#4d4d4d" text-anchor="middle" transform="translate(246.11,671.8) scale(1,1.13)">0.25</text>
<line x1="259.36" y1="661.93" x2="259.36" y2="664.5" stroke="#707070" stroke-width="0.9"/>
<text x="0" y="0" font-size="7" fill="#4d4d4d" text-anchor="middle" transform="translate(259.36,671.8) scale(1,1.13)">0.50</text>
<line x1="272.61" y1="661.93" x2="272.61" y2="664.5" stroke="#707070" stroke-width="0.9"/>
<text x="0" y="0" font-size="7" fill="#4d4d4d" text-anchor="middle" transform="translate(272.61,671.8) scale(1,1.13)">0.75</text>
<line x1="285.86" y1="661.93" x2="285.86" y2="664.5" stroke="#707070" stroke-width="0.9"/>
<text x="0" y="0" font-size="7" fill="#4d4d4d" text-anchor="middle" transform="translate(285.86,671.8) scale(1,1.13)">1.00</text>
<line x1="295.28" y1="661.93" x2="295.28" y2="664.5" stroke="#707070" stroke-width="0.9"/>
<text x="0" y="0" font-size="7" fill="#4d4d4d" text-anchor="middle" transform="translate(295.28,671.8) scale(1,1.13)">0</text>
<line x1="312.95" y1="661.93" x2="312.95" y2="664.5" stroke="#707070" stroke-width="0.9"/>
<text x="0" y="0" font-size="7" fill="#4d4d4d" text-anchor="middle" transform="translate(312.95,671.8) scale(1,1.13)">2</text>
<line x1="330.61" y1="661.93" x2="330.61" y2="664.5" stroke="#707070" stroke-width="0.9"/>
<text x="0" y="0" font-size="7" fill="#4d4d4d" text-anchor="middle" transform="translate(330.61,671.8) scale(1,1.13)">4</text>
<line x1="348.28" y1="661.93" x2="348.28" y2="664.5" stroke="#707070" stroke-width="0.9"/>
<text x="0" y="0" font-size="7" fill="#4d4d4d" text-anchor="middle" transform="translate(348.28,671.8) scale(1,1.13)">6</text>
<line x1="357.68" y1="661.93" x2="357.68" y2="664.5" stroke="#707070" stroke-width="0.9"/>
<text x="0" y="0" font-size="7" fill="#4d4d4d" text-anchor="middle" transform="translate(357.68,671.8) scale(1,1.13)">0</text>
<line x1="373.28" y1="661.93" x2="373.28" y2="664.5" stroke="#707070" stroke-width="0.9"/>
<text x="0" y="0" font-size="7" fill="#4d4d4d" text-anchor="middle" transform="translate(373.28,671.8) scale(1,1.13)">100</text>
<line x1="388.87" y1="661.93" x2="388.87" y2="664.5" stroke="#707070" stroke-width="0.9"/>
<text x="0" y="0" font-size="7" fill="#4d4d4d" text-anchor="middle" transform="translate(388.87,671.8) scale(1,1.13)">200</text>
<line x1="404.46" y1="661.93" x2="404.46" y2="664.5" stroke="#707070" stroke-width="0.9"/>
<text x="0" y="0" font-size="7" fill="#4d4d4d" text-anchor="middle" transform="translate(404.46,671.8) scale(1,1.13)">300</text>
<line x1="419.72" y1="661.93" x2="419.72" y2="664.5" stroke="#707070" stroke-width="0.9"/>
<text x="0" y="0" font-size="7" fill="#4d4d4d" text-anchor="middle" transform="translate(419.72,671.8) scale(1,1.13)">0</text>
<line x1="431.33" y1="661.93" x2="431.33" y2="664.5" stroke="#707070" stroke-width="0.9"/>
<text x="0" y="0" font-size="7" fill="#4d4d4d" text-anchor="middle" transform="translate(431.33,671.8) scale(1,1.13)">100</text>
<line x1="442.94" y1="661.93" x2="442.94" y2="664.5" stroke="#707070" stroke-width="0.9"/>
<text x="0" y="0" font-size="7" fill="#4d4d4d" text-anchor="middle" transform="translate(442.94,671.8) scale(1,1.13)">200</text>
<line x1="454.55" y1="661.93" x2="454.55" y2="664.5" stroke="#707070" stroke-width="0.9"/>
<text x="0" y="0" font-size="7" fill="#4d4d4d" text-anchor="middle" transform="translate(454.55,671.8) scale(1,1.13)">300</text>
<line x1="466.15" y1="661.93" x2="466.15" y2="664.5" stroke="#707070" stroke-width="0.9"/>
<text x="0" y="0" font-size="7" fill="#4d4d4d" text-anchor="middle" transform="translate(466.15,671.8) scale(1,1.13)">400</text>
<line x1="482.54" y1="661.93" x2="482.54" y2="664.5" stroke="#707070" stroke-width="0.9"/>
<text x="0" y="0" font-size="7" fill="#4d4d4d" text-anchor="middle" transform="translate(482.54,671.8) scale(1,1.13)">1</text>
<line x1="500.21" y1="661.93" x2="500.21" y2="664.5" stroke="#707070" stroke-width="0.9"/>
<text x="0" y="0" font-size="7" fill="#4d4d4d" text-anchor="middle" transform="translate(500.21,671.8) scale(1,1.13)">2</text>
<line x1="517.87" y1="661.93" x2="517.87" y2="664.5" stroke="#707070" stroke-width="0.9"/>
<text x="0" y="0" font-size="7" fill="#4d4d4d" text-anchor="middle" transform="translate(517.87,671.8) scale(1,1.13)">3</text>
<line x1="535.54" y1="661.93" x2="535.54" y2="664.5" stroke="#707070" stroke-width="0.9"/>
<text x="0" y="0" font-size="7" fill="#4d4d4d" text-anchor="middle" transform="translate(535.54,671.8) scale(1,1.13)">4</text>
<line x1="544.96" y1="661.93" x2="544.96" y2="664.5" stroke="#707070" stroke-width="0.9"/>
<text x="0" y="0" font-size="7" fill="#4d4d4d" text-anchor="middle" transform="translate(544.96,671.8) scale(1,1.13)">0</text>
<line x1="562.63" y1="661.93" x2="562.63" y2="664.5" stroke="#707070" stroke-width="0.9"/>
<text x="0" y="0" font-size="7" fill="#4d4d4d" text-anchor="middle" transform="translate(562.63,671.8) scale(1,1.13)">2</text>
<line x1="580.29" y1="661.93" x2="580.29" y2="664.5" stroke="#707070" stroke-width="0.9"/>
<text x="0" y="0" font-size="7" fill="#4d4d4d" text-anchor="middle" transform="translate(580.29,671.8) scale(1,1.13)">4</text>
<line x1="597.96" y1="661.93" x2="597.96" y2="664.5" stroke="#707070" stroke-width="0.9"/>
<text x="0" y="0" font-size="7" fill="#4d4d4d" text-anchor="middle" transform="translate(597.96,671.8) scale(1,1.13)">6</text>
<line x1="607.38" y1="661.93" x2="607.38" y2="664.5" stroke="#707070" stroke-width="0.9"/>
<text x="0" y="0" font-size="7" fill="#4d4d4d" text-anchor="middle" transform="translate(607.38,671.8) scale(1,1.13)">0</text>
<line x1="620.63" y1="661.93" x2="620.63" y2="664.5" stroke="#707070" stroke-width="0.9"/>
<text x="0" y="0" font-size="7" fill="#4d4d4d" text-anchor="middle" transform="translate(620.63,671.8) scale(1,1.13)">1</text>
<line x1="633.88" y1="661.93" x2="633.88" y2="664.5" stroke="#707070" stroke-width="0.9"/>
<text x="0" y="0" font-size="7" fill="#4d4d4d" text-anchor="middle" transform="translate(633.88,671.8) scale(1,1.13)">2</text>
<line x1="647.13" y1="661.93" x2="647.13" y2="664.5" stroke="#707070" stroke-width="0.9"/>
<text x="0" y="0" font-size="7" fill="#4d4d4d" text-anchor="middle" transform="translate(647.13,671.8) scale(1,1.13)">3</text>
<line x1="660.38" y1="661.93" x2="660.38" y2="664.5" stroke="#707070" stroke-width="0.9"/>
<text x="0" y="0" font-size="7" fill="#4d4d4d" text-anchor="middle" transform="translate(660.38,671.8) scale(1,1.13)">4</text>
<text x="0" y="0" font-size="36" font-weight="bold" fill="#000" transform="translate(1.2,23.0) scale(0.88,1.037)">a</text>
<text x="1.40" y="727.90" font-size="36.8" font-weight="bold" fill="#000">b</text>
<polygon points="54.88,771.60 54.9,739.1 59.9,737.3 64.5,735.8 69.5,734.6 74.0,733.8 78.6,733.2 83.2,733.0 88.2,733.1 93.2,733.4 101.5,734.6 111.1,736.6 121.5,739.4 145.7,746.5 156.9,749.6 169.4,752.5 181.1,754.7 190.6,756.0 201.1,756.9 211.9,757.5 245.2,758.7 256.4,759.5 267.7,760.8 267.69,771.60" fill="#94d4e6"/>
<polygon points="278.60,992.30 303.6,992.3 306.8,986.6 309.5,981.2 311.7,976.3 313.4,971.8 314.9,967.3 316.1,962.4 317.0,957.4 317.6,952.5 317.9,944.7 317.6,936.1 316.9,928.3 314.7,909.9 314.0,900.4 314.0,891.4 315.0,873.4 315.0,868.9 314.7,864.8 314.0,860.2 312.8,855.7 311.2,851.2 309.2,846.7 304.5,838.5 291.8,818.8 288.6,813.1 285.9,807.3 283.7,801.6 282.1,795.9 280.8,789.7 279.8,782.7 278.60,782.74" fill="#94d4e6"/>
<g clip-path="url(#cpb)">
<line x1="85.28" y1="776.40" x2="85.28" y2="998.70" stroke="#ececec" stroke-width="0.7"/>
<line x1="152.84" y1="776.40" x2="152.84" y2="998.70" stroke="#ececec" stroke-width="0.7"/>
<line x1="220.40" y1="776.40" x2="220.40" y2="998.70" stroke="#ececec" stroke-width="0.7"/>
<line x1="48.50" y1="951.33" x2="273.90" y2="951.33" stroke="#ececec" stroke-width="0.7"/>
<line x1="48.50" y1="887.19" x2="273.90" y2="887.19" stroke="#ececec" stroke-width="0.7"/>
<line x1="48.50" y1="823.05" x2="273.90" y2="823.05" stroke="#ececec" stroke-width="0.7"/>
<line x1="51.50" y1="776.40" x2="51.50" y2="998.70" stroke="#e9e9e9" stroke-width="1"/>
<line x1="119.06" y1="776.40" x2="119.06" y2="998.70" stroke="#e9e9e9" stroke-width="1"/>
<line x1="186.62" y1="776.40" x2="186.62" y2="998.70" stroke="#e9e9e9" stroke-width="1"/>
<line x1="254.18" y1="776.40" x2="254.18" y2="998.70" stroke="#e9e9e9" stroke-width="1"/>
<line x1="48.50" y1="983.40" x2="273.90" y2="983.40" stroke="#e9e9e9" stroke-width="1"/>
<line x1="48.50" y1="919.26" x2="273.90" y2="919.26" stroke="#e9e9e9" stroke-width="1"/>
<line x1="48.50" y1="855.12" x2="273.90" y2="855.12" stroke="#e9e9e9" stroke-width="1"/>
<line x1="48.50" y1="790.98" x2="273.90" y2="790.98" stroke="#e9e9e9" stroke-width="1"/>
<circle cx="54.88" cy="919.26" r="2.6" fill="#79c5d8"/>
<circle cx="58.26" cy="951.33" r="2.6" fill="#79c5d8"/>
<circle cx="71.77" cy="983.40" r="2.6" fill="#79c5d8"/>
<circle cx="71.77" cy="951.33" r="2.6" fill="#79c5d8"/>
<circle cx="108.93" cy="887.19" r="2.6" fill="#79c5d8"/>
<circle cx="108.93" cy="919.26" r="2.6" fill="#79c5d8"/>
<circle cx="135.95" cy="983.40" r="2.6" fill="#79c5d8"/>
<circle cx="169.73" cy="855.12" r="2.6" fill="#79c5d8"/>
<circle cx="223.78" cy="855.12" r="2.6" fill="#79c5d8"/>
<circle cx="267.69" cy="855.12" r="2.6" fill="#79c5d8"/>
<polygon points="54.9,913.5 68.3,910.3 81.8,906.6 95.3,902.3 106.1,898.3 116.8,893.8 127.6,888.6 135.7,884.3 146.5,877.9 157.2,871.0 168.0,863.6 181.5,853.7 195.0,843.4 211.1,830.4 227.3,817.1 267.7,782.7 267.7,906.1 246.1,909.6 227.3,913.0 211.1,916.1 195.0,919.7 181.5,923.0 168.0,926.9 157.2,930.4 146.5,934.5 135.7,939.1 127.6,943.1 116.8,948.8 106.1,955.3 95.3,962.3 81.8,971.7 68.3,981.8 54.9,992.3" fill="#d3d3d3" fill-opacity="0.4"/>
<line x1="54.88" y1="952.89" x2="267.69" y2="844.44" stroke="#52b3ca" stroke-width="1.15"/>
</g>
<path d="M48.50,776.40 L48.50,998.70 L273.90,998.70" fill="none" stroke="#333" stroke-width="1.1"/>
<line x1="51.50" y1="998.70" x2="51.50" y2="1002.70" stroke="#333" stroke-width="1"/>
<text x="51.50" y="1014.10" font-size="9.3" fill="#1a1a1a" text-anchor="middle">0</text>
<line x1="119.06" y1="998.70" x2="119.06" y2="1002.70" stroke="#333" stroke-width="1"/>
<text x="119.06" y="1014.10" font-size="9.3" fill="#1a1a1a" text-anchor="middle">20</text>
<line x1="186.62" y1="998.70" x2="186.62" y2="1002.70" stroke="#333" stroke-width="1"/>
<text x="186.62" y="1014.10" font-size="9.3" fill="#1a1a1a" text-anchor="middle">40</text>
<line x1="254.18" y1="998.70" x2="254.18" y2="1002.70" stroke="#333" stroke-width="1"/>
<text x="254.18" y="1014.10" font-size="9.3" fill="#1a1a1a" text-anchor="middle">60</text>
<line x1="44.20" y1="983.40" x2="48.50" y2="983.40" stroke="#333" stroke-width="1"/>
<text x="41.60" y="986.70" font-size="9.3" fill="#1a1a1a" text-anchor="end">0</text>
<line x1="44.20" y1="919.26" x2="48.50" y2="919.26" stroke="#333" stroke-width="1"/>
<text x="41.60" y="922.56" font-size="9.3" fill="#1a1a1a" text-anchor="end">2</text>
<line x1="44.20" y1="855.12" x2="48.50" y2="855.12" stroke="#333" stroke-width="1"/>
<text x="41.60" y="858.42" font-size="9.3" fill="#1a1a1a" text-anchor="end">4</text>
<line x1="44.20" y1="790.98" x2="48.50" y2="790.98" stroke="#333" stroke-width="1"/>
<text x="41.60" y="794.28" font-size="9.3" fill="#1a1a1a" text-anchor="end">6</text>
<text x="161.20" y="1026.80" font-size="10.6" fill="#1a1a1a" text-anchor="middle">PVC</text>
<text x="0" y="0" font-size="10.6" fill="#1a1a1a" text-anchor="middle" transform="translate(29.50,887.55) rotate(-90)">FTOC</text>
<text x="268.00" y="968.40" font-size="9" fill="#222" text-anchor="end">Pearson</text>
<text x="268.00" y="979.30" font-size="9" fill="#222" text-anchor="end"><tspan font-style="italic">R</tspan> = 0.726</text>
<text x="268.00" y="990.20" font-size="9" fill="#222" text-anchor="end"><tspan font-style="italic">P</tspan> = 0.018</text>
<text x="354.50" y="727.70" font-size="36.8" font-weight="bold" fill="#000">c</text>
<polygon points="425.64,771.60 425.6,739.1 430.4,737.3 434.8,735.8 439.6,734.6 444.0,733.8 448.4,733.2 452.8,733.0 457.6,733.1 462.4,733.4 470.4,734.6 479.6,736.6 489.6,739.4 512.7,746.5 523.5,749.6 535.5,752.5 546.7,754.7 555.9,756.0 565.8,756.9 576.2,757.5 608.2,758.7 619.0,759.5 629.8,760.8 629.76,771.60" fill="#94d4e6"/>
<polygon points="640.50,992.71 640.5,992.7 640.5,949.1 640.6,947.5 641.1,946.2 642.0,945.4 642.8,945.0 647.3,943.7 655.6,942.5 676.2,940.0 679.5,939.2 679.8,938.8 679.2,938.4 675.6,937.6 657.6,935.1 653.3,934.3 650.2,933.5 645.5,931.8 642.9,930.6 641.3,929.3 640.8,928.5 640.6,927.7 640.5,916.6 640.7,913.7 641.1,912.9 641.7,912.1 642.9,911.2 646.5,909.2 647.1,908.4 647.1,907.9 646.4,907.1 642.8,905.1 641.7,904.2 640.8,903.0 640.5,901.4 640.5,789.4 640.8,787.8 641.5,786.6 643.1,785.3 646.1,783.7 647.0,782.9 647.2,782.4 640.50,782.45" fill="#94d4e6"/>
<g clip-path="url(#cpc)">
<line x1="454.80" y1="776.40" x2="454.80" y2="998.80" stroke="#ececec" stroke-width="0.7"/>
<line x1="519.60" y1="776.40" x2="519.60" y2="998.80" stroke="#ececec" stroke-width="0.7"/>
<line x1="584.40" y1="776.40" x2="584.40" y2="998.80" stroke="#ececec" stroke-width="0.7"/>
<line x1="419.70" y1="977.05" x2="635.90" y2="977.05" stroke="#ececec" stroke-width="0.7"/>
<line x1="419.70" y1="907.55" x2="635.90" y2="907.55" stroke="#ececec" stroke-width="0.7"/>
<line x1="419.70" y1="838.05" x2="635.90" y2="838.05" stroke="#ececec" stroke-width="0.7"/>
<line x1="422.40" y1="776.40" x2="422.40" y2="998.80" stroke="#e9e9e9" stroke-width="1"/>
<line x1="487.20" y1="776.40" x2="487.20" y2="998.80" stroke="#e9e9e9" stroke-width="1"/>
<line x1="552.00" y1="776.40" x2="552.00" y2="998.80" stroke="#e9e9e9" stroke-width="1"/>
<line x1="616.80" y1="776.40" x2="616.80" y2="998.80" stroke="#e9e9e9" stroke-width="1"/>
<line x1="419.70" y1="942.30" x2="635.90" y2="942.30" stroke="#e9e9e9" stroke-width="1"/>
<line x1="419.70" y1="872.80" x2="635.90" y2="872.80" stroke="#e9e9e9" stroke-width="1"/>
<line x1="419.70" y1="803.30" x2="635.90" y2="803.30" stroke="#e9e9e9" stroke-width="1"/>
<circle cx="425.64" cy="939.95" r="2.6" fill="#79c5d8"/>
<circle cx="428.88" cy="933.68" r="2.6" fill="#79c5d8"/>
<circle cx="441.84" cy="937.86" r="2.6" fill="#79c5d8"/>
<circle cx="441.84" cy="937.48" r="2.6" fill="#79c5d8"/>
<circle cx="477.48" cy="938.65" r="2.6" fill="#79c5d8"/>
<circle cx="477.48" cy="937.90" r="2.6" fill="#79c5d8"/>
<circle cx="503.40" cy="940.22" r="2.6" fill="#79c5d8"/>
<circle cx="535.80" cy="941.11" r="2.6" fill="#79c5d8"/>
<circle cx="587.64" cy="908.19" r="2.6" fill="#79c5d8"/>
<circle cx="629.76" cy="782.45" r="2.6" fill="#79c5d8"/>
<polygon points="425.6,920.7 438.6,917.1 451.5,913.2 464.4,908.6 474.7,904.5 485.1,899.9 495.4,894.6 503.2,890.3 513.5,884.0 523.8,877.2 534.2,870.0 547.1,860.3 560.0,850.2 575.5,837.7 591.0,824.8 629.8,791.5 629.8,904.3 609.1,908.5 591.0,912.4 575.5,916.0 560.0,920.0 547.1,923.6 534.2,927.8 523.8,931.5 513.5,935.7 503.2,940.5 495.4,944.4 485.1,950.2 474.7,956.6 464.4,963.5 451.5,972.7 438.6,982.5 425.6,992.7" fill="#d3d3d3" fill-opacity="0.4"/>
<line x1="425.64" y1="956.69" x2="629.76" y2="847.92" stroke="#52b3ca" stroke-width="1.15"/>
</g>
<path d="M419.70,776.40 L419.70,998.80 L635.90,998.80" fill="none" stroke="#333" stroke-width="1.1"/>
<line x1="422.40" y1="998.80" x2="422.40" y2="1002.80" stroke="#333" stroke-width="1"/>
<text x="422.40" y="1014.20" font-size="9.3" fill="#1a1a1a" text-anchor="middle">0</text>
<line x1="487.20" y1="998.80" x2="487.20" y2="1002.80" stroke="#333" stroke-width="1"/>
<text x="487.20" y="1014.20" font-size="9.3" fill="#1a1a1a" text-anchor="middle">20</text>
<line x1="552.00" y1="998.80" x2="552.00" y2="1002.80" stroke="#333" stroke-width="1"/>
<text x="552.00" y="1014.20" font-size="9.3" fill="#1a1a1a" text-anchor="middle">40</text>
<line x1="616.80" y1="998.80" x2="616.80" y2="1002.80" stroke="#333" stroke-width="1"/>
<text x="616.80" y="1014.20" font-size="9.3" fill="#1a1a1a" text-anchor="middle">60</text>
<line x1="415.40" y1="942.30" x2="419.70" y2="942.30" stroke="#333" stroke-width="1"/>
<text x="412.80" y="945.60" font-size="9.3" fill="#1a1a1a" text-anchor="end">0</text>
<line x1="415.40" y1="872.80" x2="419.70" y2="872.80" stroke="#333" stroke-width="1"/>
<text x="412.80" y="876.10" font-size="9.3" fill="#1a1a1a" text-anchor="end">200</text>
<line x1="415.40" y1="803.30" x2="419.70" y2="803.30" stroke="#333" stroke-width="1"/>
<text x="412.80" y="806.60" font-size="9.3" fill="#1a1a1a" text-anchor="end">400</text>
<text x="527.80" y="1026.90" font-size="10.6" fill="#1a1a1a" text-anchor="middle">PVC</text>
<text x="0" y="0" font-size="10.6" fill="#1a1a1a" text-anchor="middle" transform="translate(389.90,887.60) rotate(-90)">CA19-9</text>
<text x="630.00" y="968.50" font-size="9" fill="#222" text-anchor="end">Pearson</text>
<text x="630.00" y="979.40" font-size="9" fill="#222" text-anchor="end"><tspan font-style="italic">R</tspan> = 0.757</text>
<text x="630.00" y="990.30" font-size="9" fill="#222" text-anchor="end"><tspan font-style="italic">P</tspan> = 0.011</text>
<text x="3.60" y="1079.40" font-size="36.8" font-weight="bold" fill="#000">d</text>
<polygon points="68.39,1125.50 68.4,1093.0 73.1,1091.2 77.5,1089.7 82.2,1088.5 86.5,1087.7 90.8,1087.1 95.2,1086.9 99.9,1087.0 104.6,1087.3 112.5,1088.5 121.6,1090.5 131.4,1093.3 154.3,1100.4 164.9,1103.5 176.7,1106.4 187.7,1108.6 196.8,1109.9 206.7,1110.8 216.9,1111.4 248.4,1112.6 259.0,1113.4 269.7,1114.7 269.68,1125.50" fill="#94d4e6"/>
<polygon points="280.30,1346.66 280.3,1346.7 280.3,1303.0 280.5,1300.9 281.1,1299.7 282.0,1298.9 283.7,1298.0 288.5,1296.8 296.6,1295.6 315.7,1293.1 319.1,1292.3 319.6,1291.9 319.3,1291.4 316.6,1290.6 295.0,1287.3 291.6,1286.5 288.7,1285.3 284.9,1282.0 283.8,1280.7 283.5,1279.9 283.7,1279.1 286.0,1276.2 286.1,1275.4 286.0,1275.0 285.1,1273.7 281.7,1270.8 280.9,1269.6 280.5,1268.4 280.3,1263.8 280.3,1144.8 280.6,1142.7 281.2,1141.5 282.2,1140.2 285.6,1137.3 286.1,1136.1 280.30,1136.10" fill="#94d4e6"/>
<g clip-path="url(#cpd)">
<line x1="97.15" y1="1130.30" x2="97.15" y2="1352.80" stroke="#ececec" stroke-width="0.7"/>
<line x1="161.05" y1="1130.30" x2="161.05" y2="1352.80" stroke="#ececec" stroke-width="0.7"/>
<line x1="224.95" y1="1130.30" x2="224.95" y2="1352.80" stroke="#ececec" stroke-width="0.7"/>
<line x1="62.00" y1="1315.50" x2="275.60" y2="1315.50" stroke="#ececec" stroke-width="0.7"/>
<line x1="62.00" y1="1269.50" x2="275.60" y2="1269.50" stroke="#ececec" stroke-width="0.7"/>
<line x1="62.00" y1="1223.50" x2="275.60" y2="1223.50" stroke="#ececec" stroke-width="0.7"/>
<line x1="62.00" y1="1177.50" x2="275.60" y2="1177.50" stroke="#ececec" stroke-width="0.7"/>
<line x1="62.00" y1="1131.50" x2="275.60" y2="1131.50" stroke="#ececec" stroke-width="0.7"/>
<line x1="65.20" y1="1130.30" x2="65.20" y2="1352.80" stroke="#e9e9e9" stroke-width="1"/>
<line x1="129.10" y1="1130.30" x2="129.10" y2="1352.80" stroke="#e9e9e9" stroke-width="1"/>
<line x1="193.00" y1="1130.30" x2="193.00" y2="1352.80" stroke="#e9e9e9" stroke-width="1"/>
<line x1="256.90" y1="1130.30" x2="256.90" y2="1352.80" stroke="#e9e9e9" stroke-width="1"/>
<line x1="62.00" y1="1338.50" x2="275.60" y2="1338.50" stroke="#e9e9e9" stroke-width="1"/>
<line x1="62.00" y1="1292.50" x2="275.60" y2="1292.50" stroke="#e9e9e9" stroke-width="1"/>
<line x1="62.00" y1="1246.50" x2="275.60" y2="1246.50" stroke="#e9e9e9" stroke-width="1"/>
<line x1="62.00" y1="1200.50" x2="275.60" y2="1200.50" stroke="#e9e9e9" stroke-width="1"/>
<line x1="62.00" y1="1154.50" x2="275.60" y2="1154.50" stroke="#e9e9e9" stroke-width="1"/>
<circle cx="68.39" cy="1291.61" r="2.6" fill="#79c5d8"/>
<circle cx="71.59" cy="1291.75" r="2.6" fill="#79c5d8"/>
<circle cx="84.37" cy="1292.27" r="2.6" fill="#79c5d8"/>
<circle cx="84.37" cy="1275.47" r="2.6" fill="#79c5d8"/>
<circle cx="119.52" cy="1291.93" r="2.6" fill="#79c5d8"/>
<circle cx="119.52" cy="1284.27" r="2.6" fill="#79c5d8"/>
<circle cx="145.07" cy="1292.37" r="2.6" fill="#79c5d8"/>
<circle cx="177.02" cy="1292.44" r="2.6" fill="#79c5d8"/>
<circle cx="228.14" cy="1290.02" r="2.6" fill="#79c5d8"/>
<circle cx="269.68" cy="1136.10" r="2.6" fill="#79c5d8"/>
<polygon points="68.4,1264.5 81.1,1262.4 93.9,1259.8 106.6,1256.6 116.8,1253.4 127.0,1249.7 137.2,1245.3 144.8,1241.5 155.0,1235.9 165.2,1229.7 175.4,1222.9 188.1,1213.9 200.9,1204.3 216.2,1192.3 231.5,1179.9 269.7,1147.7 269.7,1276.4 249.3,1278.0 231.5,1279.8 216.2,1281.6 200.9,1283.8 188.1,1286.0 175.4,1288.8 165.2,1291.5 155.0,1294.8 144.8,1298.7 137.2,1302.0 127.0,1307.1 116.8,1312.8 106.6,1319.1 93.9,1327.7 81.1,1336.9 68.4,1346.7" fill="#d3d3d3" fill-opacity="0.4"/>
<line x1="68.39" y1="1305.60" x2="269.68" y2="1212.05" stroke="#52b3ca" stroke-width="1.15"/>
</g>
<path d="M62.00,1130.30 L62.00,1352.80 L275.60,1352.80" fill="none" stroke="#333" stroke-width="1.1"/>
<line x1="65.20" y1="1352.80" x2="65.20" y2="1356.80" stroke="#333" stroke-width="1"/>
<text x="65.20" y="1368.20" font-size="9.3" fill="#1a1a1a" text-anchor="middle">0</text>
<line x1="129.10" y1="1352.80" x2="129.10" y2="1356.80" stroke="#333" stroke-width="1"/>
<text x="129.10" y="1368.20" font-size="9.3" fill="#1a1a1a" text-anchor="middle">20</text>
<line x1="193.00" y1="1352.80" x2="193.00" y2="1356.80" stroke="#333" stroke-width="1"/>
<text x="193.00" y="1368.20" font-size="9.3" fill="#1a1a1a" text-anchor="middle">40</text>
<line x1="256.90" y1="1352.80" x2="256.90" y2="1356.80" stroke="#333" stroke-width="1"/>
<text x="256.90" y="1368.20" font-size="9.3" fill="#1a1a1a" text-anchor="middle">60</text>
<line x1="57.70" y1="1338.50" x2="62.00" y2="1338.50" stroke="#333" stroke-width="1"/>
<text x="55.10" y="1341.80" font-size="9.3" fill="#1a1a1a" text-anchor="end">-100</text>
<line x1="57.70" y1="1292.50" x2="62.00" y2="1292.50" stroke="#333" stroke-width="1"/>
<text x="55.10" y="1295.80" font-size="9.3" fill="#1a1a1a" text-anchor="end">0</text>
<line x1="57.70" y1="1246.50" x2="62.00" y2="1246.50" stroke="#333" stroke-width="1"/>
<text x="55.10" y="1249.80" font-size="9.3" fill="#1a1a1a" text-anchor="end">100</text>
<line x1="57.70" y1="1200.50" x2="62.00" y2="1200.50" stroke="#333" stroke-width="1"/>
<text x="55.10" y="1203.80" font-size="9.3" fill="#1a1a1a" text-anchor="end">200</text>
<line x1="57.70" y1="1154.50" x2="62.00" y2="1154.50" stroke="#333" stroke-width="1"/>
<text x="55.10" y="1157.80" font-size="9.3" fill="#1a1a1a" text-anchor="end">300</text>
<text x="168.80" y="1380.90" font-size="10.6" fill="#1a1a1a" text-anchor="middle">PVC</text>
<text x="0" y="0" font-size="10.6" fill="#1a1a1a" text-anchor="middle" transform="translate(29.10,1241.55) rotate(-90)">CEA</text>
<text x="269.70" y="1322.50" font-size="9" fill="#222" text-anchor="end">Pearson</text>
<text x="269.70" y="1333.40" font-size="9" fill="#222" text-anchor="end"><tspan font-style="italic">R</tspan> = 0.658</text>
<text x="269.70" y="1344.30" font-size="9" fill="#222" text-anchor="end"><tspan font-style="italic">P</tspan> = 0.038</text>
<text x="362.60" y="1079.40" font-size="36.8" font-weight="bold" fill="#000">e</text>
<polygon points="417.84,1125.50 417.8,1093.0 422.8,1091.2 427.3,1089.7 432.3,1088.5 436.8,1087.7 441.3,1087.1 445.9,1086.9 450.8,1087.0 455.7,1087.3 464.0,1088.5 473.5,1090.5 483.8,1093.3 507.7,1100.4 518.8,1103.5 531.1,1106.4 542.7,1108.6 552.2,1109.9 562.5,1110.8 573.2,1111.4 606.1,1112.6 617.3,1113.4 628.4,1114.7 628.39,1125.50" fill="#94d4e6"/>
<polygon points="639.00,1346.50 660.7,1346.5 665.1,1337.9 668.4,1330.0 671.3,1321.8 673.8,1312.8 676.2,1302.1 677.7,1292.6 678.3,1284.4 678.1,1277.0 677.1,1270.0 675.2,1262.2 673.2,1255.6 667.4,1238.7 664.2,1228.8 660.5,1216.1 656.8,1202.1 652.6,1183.6 643.2,1136.3 639.00,1136.26" fill="#94d4e6"/>
<g clip-path="url(#cpe)">
<line x1="447.92" y1="1130.30" x2="447.92" y2="1352.80" stroke="#ececec" stroke-width="0.7"/>
<line x1="514.76" y1="1130.30" x2="514.76" y2="1352.80" stroke="#ececec" stroke-width="0.7"/>
<line x1="581.60" y1="1130.30" x2="581.60" y2="1352.80" stroke="#ececec" stroke-width="0.7"/>
<line x1="411.60" y1="1302.92" x2="634.70" y2="1302.92" stroke="#ececec" stroke-width="0.7"/>
<line x1="411.60" y1="1249.95" x2="634.70" y2="1249.95" stroke="#ececec" stroke-width="0.7"/>
<line x1="411.60" y1="1196.98" x2="634.70" y2="1196.98" stroke="#ececec" stroke-width="0.7"/>
<line x1="411.60" y1="1144.01" x2="634.70" y2="1144.01" stroke="#ececec" stroke-width="0.7"/>
<line x1="414.50" y1="1130.30" x2="414.50" y2="1352.80" stroke="#e9e9e9" stroke-width="1"/>
<line x1="481.34" y1="1130.30" x2="481.34" y2="1352.80" stroke="#e9e9e9" stroke-width="1"/>
<line x1="548.18" y1="1130.30" x2="548.18" y2="1352.80" stroke="#e9e9e9" stroke-width="1"/>
<line x1="615.02" y1="1130.30" x2="615.02" y2="1352.80" stroke="#e9e9e9" stroke-width="1"/>
<line x1="411.60" y1="1329.40" x2="634.70" y2="1329.40" stroke="#e9e9e9" stroke-width="1"/>
<line x1="411.60" y1="1276.43" x2="634.70" y2="1276.43" stroke="#e9e9e9" stroke-width="1"/>
<line x1="411.60" y1="1223.46" x2="634.70" y2="1223.46" stroke="#e9e9e9" stroke-width="1"/>
<line x1="411.60" y1="1170.49" x2="634.70" y2="1170.49" stroke="#e9e9e9" stroke-width="1"/>
<circle cx="417.84" cy="1329.40" r="2.6" fill="#79c5d8"/>
<circle cx="421.18" cy="1329.40" r="2.6" fill="#79c5d8"/>
<circle cx="434.55" cy="1329.40" r="2.6" fill="#79c5d8"/>
<circle cx="434.55" cy="1276.43" r="2.6" fill="#79c5d8"/>
<circle cx="471.31" cy="1223.46" r="2.6" fill="#79c5d8"/>
<circle cx="471.31" cy="1276.43" r="2.6" fill="#79c5d8"/>
<circle cx="498.05" cy="1276.43" r="2.6" fill="#79c5d8"/>
<circle cx="531.47" cy="1276.43" r="2.6" fill="#79c5d8"/>
<circle cx="584.94" cy="1223.46" r="2.6" fill="#79c5d8"/>
<circle cx="628.39" cy="1170.49" r="2.6" fill="#79c5d8"/>
<polygon points="417.8,1284.9 431.2,1279.5 444.5,1273.7 457.8,1267.4 468.5,1261.9 479.1,1256.0 489.8,1249.6 497.8,1244.4 508.5,1237.1 519.1,1229.4 529.8,1221.2 543.1,1210.6 556.4,1199.5 588.4,1171.9 628.4,1136.3 628.4,1232.6 588.4,1246.8 572.4,1252.8 556.4,1259.1 543.1,1264.7 529.8,1270.6 519.1,1275.8 508.5,1281.3 497.8,1287.3 489.8,1292.1 479.1,1299.0 468.5,1306.4 457.8,1314.2 444.5,1324.5 431.2,1335.3 417.8,1346.5" fill="#d3d3d3" fill-opacity="0.4"/>
<line x1="417.84" y1="1315.72" x2="628.39" y2="1184.45" stroke="#52b3ca" stroke-width="1.15"/>
</g>
<path d="M411.60,1130.30 L411.60,1352.80 L634.70,1352.80" fill="none" stroke="#333" stroke-width="1.1"/>
<line x1="414.50" y1="1352.80" x2="414.50" y2="1356.80" stroke="#333" stroke-width="1"/>
<text x="414.50" y="1368.20" font-size="9.3" fill="#1a1a1a" text-anchor="middle">0</text>
<line x1="481.34" y1="1352.80" x2="481.34" y2="1356.80" stroke="#333" stroke-width="1"/>
<text x="481.34" y="1368.20" font-size="9.3" fill="#1a1a1a" text-anchor="middle">20</text>
<line x1="548.18" y1="1352.80" x2="548.18" y2="1356.80" stroke="#333" stroke-width="1"/>
<text x="548.18" y="1368.20" font-size="9.3" fill="#1a1a1a" text-anchor="middle">40</text>
<line x1="615.02" y1="1352.80" x2="615.02" y2="1356.80" stroke="#333" stroke-width="1"/>
<text x="615.02" y="1368.20" font-size="9.3" fill="#1a1a1a" text-anchor="middle">60</text>
<line x1="407.30" y1="1329.40" x2="411.60" y2="1329.40" stroke="#333" stroke-width="1"/>
<text x="404.70" y="1332.70" font-size="9.3" fill="#1a1a1a" text-anchor="end">1</text>
<line x1="407.30" y1="1276.43" x2="411.60" y2="1276.43" stroke="#333" stroke-width="1"/>
<text x="404.70" y="1279.73" font-size="9.3" fill="#1a1a1a" text-anchor="end">2</text>
<line x1="407.30" y1="1223.46" x2="411.60" y2="1223.46" stroke="#333" stroke-width="1"/>
<text x="404.70" y="1226.76" font-size="9.3" fill="#1a1a1a" text-anchor="end">3</text>
<line x1="407.30" y1="1170.49" x2="411.60" y2="1170.49" stroke="#333" stroke-width="1"/>
<text x="404.70" y="1173.79" font-size="9.3" fill="#1a1a1a" text-anchor="end">4</text>
<text x="523.15" y="1380.90" font-size="10.6" fill="#1a1a1a" text-anchor="middle">PVC</text>
<text x="0" y="0" font-size="10.6" fill="#1a1a1a" text-anchor="middle" transform="translate(389.70,1241.55) rotate(-90)">PDS</text>
<text x="628.80" y="1322.50" font-size="9" fill="#222" text-anchor="end">Pearson</text>
<text x="628.80" y="1333.40" font-size="9" fill="#222" text-anchor="end"><tspan font-style="italic">R</tspan> = 0.853</text>
<text x="628.80" y="1344.30" font-size="9" fill="#222" text-anchor="end"><tspan font-style="italic">P</tspan> = 0.002</text>
</svg></body></html>
